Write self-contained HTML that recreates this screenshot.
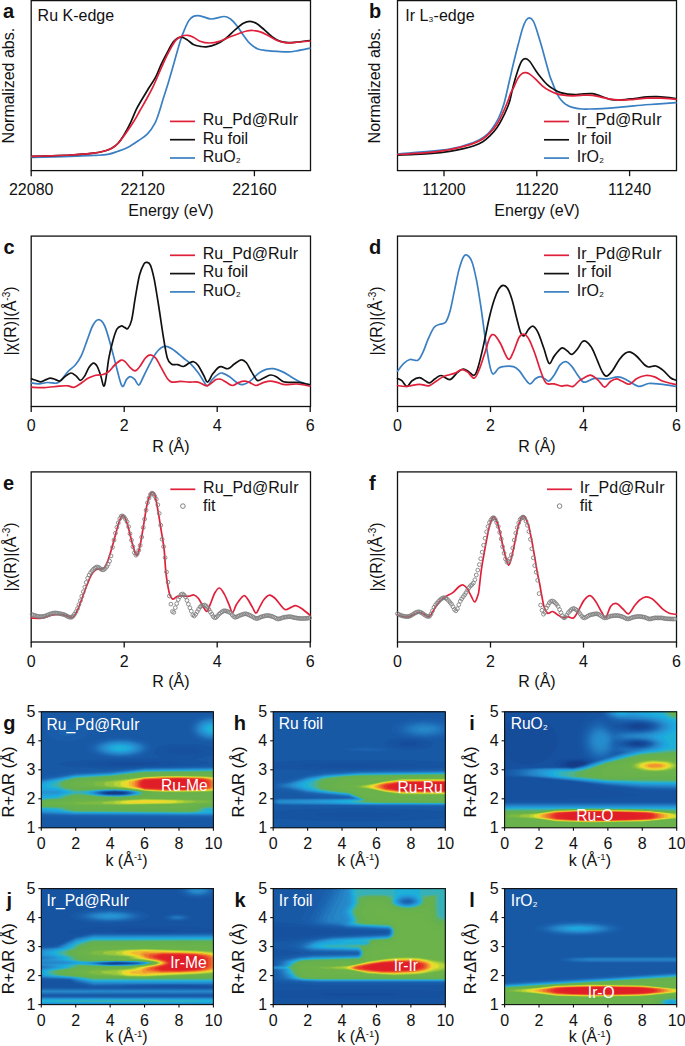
<!DOCTYPE html>
<html><head><meta charset="utf-8"><style>
html,body{margin:0;padding:0;background:#fff;overflow:hidden;width:685px;height:1046px;}
svg{display:block;font-family:"Liberation Sans", sans-serif;}
</style></head><body>
<svg width="685" height="1046" viewBox="0 0 685 1046">
<rect x="31.2" y="0.6" width="279.3" height="170.0" stroke="#111" stroke-width="1.3" fill="none"/>
<rect x="397.5" y="0.6" width="279.0" height="170.0" stroke="#111" stroke-width="1.3" fill="none"/>
<rect x="31.2" y="236.1" width="279.3" height="170.4" stroke="#111" stroke-width="1.3" fill="none"/>
<rect x="397.5" y="236.1" width="279.0" height="170.4" stroke="#111" stroke-width="1.3" fill="none"/>
<rect x="31.2" y="471.9" width="279.3" height="170.10000000000002" stroke="#111" stroke-width="1.3" fill="none"/>
<rect x="397.5" y="471.9" width="279.0" height="170.10000000000002" stroke="#111" stroke-width="1.3" fill="none"/>
<text x="3" y="18" font-size="20" text-anchor="start" font-weight="bold" fill="#111" >a</text>
<text x="369" y="18" font-size="20" text-anchor="start" font-weight="bold" fill="#111" >b</text>
<text x="3.5" y="253.6" font-size="20" text-anchor="start" font-weight="bold" fill="#111" >c</text>
<text x="369" y="253.6" font-size="20" text-anchor="start" font-weight="bold" fill="#111" >d</text>
<text x="3" y="489.9" font-size="20" text-anchor="start" font-weight="bold" fill="#111" >e</text>
<text x="369" y="489.9" font-size="20" text-anchor="start" font-weight="bold" fill="#111" >f</text>
<line x1="31.2" y1="170.6" x2="31.2" y2="176.2" stroke="#111" stroke-width="1.3"/>
<text x="31.2" y="194.8" font-size="16" text-anchor="middle" font-weight="normal" fill="#111" >22080</text>
<line x1="142.7" y1="170.6" x2="142.7" y2="176.2" stroke="#111" stroke-width="1.3"/>
<text x="142.7" y="194.8" font-size="16" text-anchor="middle" font-weight="normal" fill="#111" >22120</text>
<line x1="254.4" y1="170.6" x2="254.4" y2="176.2" stroke="#111" stroke-width="1.3"/>
<text x="254.4" y="194.8" font-size="16" text-anchor="middle" font-weight="normal" fill="#111" >22160</text>
<line x1="444" y1="170.6" x2="444" y2="176.2" stroke="#111" stroke-width="1.3"/>
<text x="444" y="194.8" font-size="16" text-anchor="middle" font-weight="normal" fill="#111" >11200</text>
<line x1="536.8" y1="170.6" x2="536.8" y2="176.2" stroke="#111" stroke-width="1.3"/>
<text x="536.8" y="194.8" font-size="16" text-anchor="middle" font-weight="normal" fill="#111" >11220</text>
<line x1="629.6" y1="170.6" x2="629.6" y2="176.2" stroke="#111" stroke-width="1.3"/>
<text x="629.6" y="194.8" font-size="16" text-anchor="middle" font-weight="normal" fill="#111" >11240</text>
<line x1="31.2" y1="406.5" x2="31.2" y2="412.1" stroke="#111" stroke-width="1.3"/>
<text x="31.2" y="431" font-size="16" text-anchor="middle" font-weight="normal" fill="#111" >0</text>
<line x1="124.2" y1="406.5" x2="124.2" y2="412.1" stroke="#111" stroke-width="1.3"/>
<text x="124.2" y="431" font-size="16" text-anchor="middle" font-weight="normal" fill="#111" >2</text>
<line x1="217.2" y1="406.5" x2="217.2" y2="412.1" stroke="#111" stroke-width="1.3"/>
<text x="217.2" y="431" font-size="16" text-anchor="middle" font-weight="normal" fill="#111" >4</text>
<line x1="310.2" y1="406.5" x2="310.2" y2="412.1" stroke="#111" stroke-width="1.3"/>
<text x="310.2" y="431" font-size="16" text-anchor="middle" font-weight="normal" fill="#111" >6</text>
<line x1="397.5" y1="406.5" x2="397.5" y2="412.1" stroke="#111" stroke-width="1.3"/>
<text x="397.5" y="431" font-size="16" text-anchor="middle" font-weight="normal" fill="#111" >0</text>
<line x1="490.5" y1="406.5" x2="490.5" y2="412.1" stroke="#111" stroke-width="1.3"/>
<text x="490.5" y="431" font-size="16" text-anchor="middle" font-weight="normal" fill="#111" >2</text>
<line x1="583.5" y1="406.5" x2="583.5" y2="412.1" stroke="#111" stroke-width="1.3"/>
<text x="583.5" y="431" font-size="16" text-anchor="middle" font-weight="normal" fill="#111" >4</text>
<line x1="676.5" y1="406.5" x2="676.5" y2="412.1" stroke="#111" stroke-width="1.3"/>
<text x="676.5" y="431" font-size="16" text-anchor="middle" font-weight="normal" fill="#111" >6</text>
<line x1="31.2" y1="642.0" x2="31.2" y2="647.6" stroke="#111" stroke-width="1.3"/>
<text x="31.2" y="666.5" font-size="16" text-anchor="middle" font-weight="normal" fill="#111" >0</text>
<line x1="124.2" y1="642.0" x2="124.2" y2="647.6" stroke="#111" stroke-width="1.3"/>
<text x="124.2" y="666.5" font-size="16" text-anchor="middle" font-weight="normal" fill="#111" >2</text>
<line x1="217.2" y1="642.0" x2="217.2" y2="647.6" stroke="#111" stroke-width="1.3"/>
<text x="217.2" y="666.5" font-size="16" text-anchor="middle" font-weight="normal" fill="#111" >4</text>
<line x1="310.2" y1="642.0" x2="310.2" y2="647.6" stroke="#111" stroke-width="1.3"/>
<text x="310.2" y="666.5" font-size="16" text-anchor="middle" font-weight="normal" fill="#111" >6</text>
<line x1="397.5" y1="642.0" x2="397.5" y2="647.6" stroke="#111" stroke-width="1.3"/>
<text x="397.5" y="666.5" font-size="16" text-anchor="middle" font-weight="normal" fill="#111" >0</text>
<line x1="490.5" y1="642.0" x2="490.5" y2="647.6" stroke="#111" stroke-width="1.3"/>
<text x="490.5" y="666.5" font-size="16" text-anchor="middle" font-weight="normal" fill="#111" >2</text>
<line x1="583.5" y1="642.0" x2="583.5" y2="647.6" stroke="#111" stroke-width="1.3"/>
<text x="583.5" y="666.5" font-size="16" text-anchor="middle" font-weight="normal" fill="#111" >4</text>
<line x1="676.5" y1="642.0" x2="676.5" y2="647.6" stroke="#111" stroke-width="1.3"/>
<text x="676.5" y="666.5" font-size="16" text-anchor="middle" font-weight="normal" fill="#111" >6</text>
<text x="0" y="0" font-size="16" text-anchor="middle" fill="#111" transform="translate(14.3,85.6) rotate(-90)">Normalized abs.</text>
<text x="0" y="0" font-size="16" text-anchor="middle" fill="#111" transform="translate(380.1,85.6) rotate(-90)">Normalized abs.</text>
<text x="0" y="0" font-size="16" text-anchor="middle" fill="#111" transform="translate(15.6,321) rotate(-90)">|χ(R)|(Å<tspan font-size="10" dy="-6">-3</tspan><tspan dy="6">)</tspan></text>
<text x="0" y="0" font-size="16" text-anchor="middle" fill="#111" transform="translate(381.9,321) rotate(-90)">|χ(R)|(Å<tspan font-size="10" dy="-6">-3</tspan><tspan dy="6">)</tspan></text>
<text x="0" y="0" font-size="16" text-anchor="middle" fill="#111" transform="translate(15.6,557) rotate(-90)">|χ(R)|(Å<tspan font-size="10" dy="-6">-3</tspan><tspan dy="6">)</tspan></text>
<text x="0" y="0" font-size="16" text-anchor="middle" fill="#111" transform="translate(381.9,557) rotate(-90)">|χ(R)|(Å<tspan font-size="10" dy="-6">-3</tspan><tspan dy="6">)</tspan></text>
<text x="171" y="215.5" font-size="16" text-anchor="middle" font-weight="normal" fill="#111" >Energy (eV)</text>
<text x="537" y="215.5" font-size="16" text-anchor="middle" font-weight="normal" fill="#111" >Energy (eV)</text>
<text x="170.9" y="452" font-size="16" text-anchor="middle" font-weight="normal" fill="#111" >R (Å)</text>
<text x="170.9" y="687" font-size="16" text-anchor="middle" font-weight="normal" fill="#111" >R (Å)</text>
<text x="537" y="452" font-size="16" text-anchor="middle" font-weight="normal" fill="#111" >R (Å)</text>
<text x="537" y="687" font-size="16" text-anchor="middle" font-weight="normal" fill="#111" >R (Å)</text>
<text x="37.6" y="20.8" font-size="16" text-anchor="start" font-weight="normal" fill="#111" >Ru K-edge</text>
<text x="405.2" y="20.8" font-size="16" text-anchor="start" font-weight="normal" fill="#111" >Ir L<tspan font-size="13">₃</tspan>-edge</text>
<line x1="170" y1="121.4" x2="195" y2="121.4" stroke="#e0203a" stroke-width="1.7"/>
<text x="202.8" y="125.2" font-size="16" text-anchor="start" font-weight="normal" fill="#111" >Ru_Pd@RuIr</text>
<line x1="170" y1="139.70000000000002" x2="195" y2="139.70000000000002" stroke="#111111" stroke-width="1.7"/>
<text x="202.8" y="143.50000000000003" font-size="16" text-anchor="start" font-weight="normal" fill="#111" >Ru foil</text>
<line x1="170" y1="158.0" x2="195" y2="158.0" stroke="#3a7fc2" stroke-width="1.7"/>
<text x="202.8" y="161.8" font-size="16" text-anchor="start" font-weight="normal" fill="#111" >RuO<tspan font-size="13">₂</tspan></text>
<line x1="544" y1="121.5" x2="569" y2="121.5" stroke="#e0203a" stroke-width="1.7"/>
<text x="576.8" y="125.3" font-size="16" text-anchor="start" font-weight="normal" fill="#111" >Ir_Pd@RuIr</text>
<line x1="544" y1="139.8" x2="569" y2="139.8" stroke="#111111" stroke-width="1.7"/>
<text x="576.8" y="143.60000000000002" font-size="16" text-anchor="start" font-weight="normal" fill="#111" >Ir foil</text>
<line x1="544" y1="158.1" x2="569" y2="158.1" stroke="#3a7fc2" stroke-width="1.7"/>
<text x="576.8" y="161.9" font-size="16" text-anchor="start" font-weight="normal" fill="#111" >IrO<tspan font-size="13">₂</tspan></text>
<line x1="170" y1="255.3" x2="195" y2="255.3" stroke="#e0203a" stroke-width="1.7"/>
<text x="202.8" y="259.1" font-size="16" text-anchor="start" font-weight="normal" fill="#111" >Ru_Pd@RuIr</text>
<line x1="170" y1="273.6" x2="195" y2="273.6" stroke="#111111" stroke-width="1.7"/>
<text x="202.8" y="277.40000000000003" font-size="16" text-anchor="start" font-weight="normal" fill="#111" >Ru foil</text>
<line x1="170" y1="291.90000000000003" x2="195" y2="291.90000000000003" stroke="#3a7fc2" stroke-width="1.7"/>
<text x="202.8" y="295.70000000000005" font-size="16" text-anchor="start" font-weight="normal" fill="#111" >RuO<tspan font-size="13">₂</tspan></text>
<line x1="544" y1="255.3" x2="569" y2="255.3" stroke="#e0203a" stroke-width="1.7"/>
<text x="576.8" y="259.1" font-size="16" text-anchor="start" font-weight="normal" fill="#111" >Ir_Pd@RuIr</text>
<line x1="544" y1="273.6" x2="569" y2="273.6" stroke="#111111" stroke-width="1.7"/>
<text x="576.8" y="277.40000000000003" font-size="16" text-anchor="start" font-weight="normal" fill="#111" >Ir foil</text>
<line x1="544" y1="291.90000000000003" x2="569" y2="291.90000000000003" stroke="#3a7fc2" stroke-width="1.7"/>
<text x="576.8" y="295.70000000000005" font-size="16" text-anchor="start" font-weight="normal" fill="#111" >IrO<tspan font-size="13">₂</tspan></text>
<line x1="170.3" y1="489.3" x2="195.3" y2="489.3" stroke="#e0203a" stroke-width="1.7"/>
<text x="203.10000000000002" y="493.1" font-size="16" text-anchor="start" font-weight="normal" fill="#111" >Ru_Pd@RuIr</text>
<circle cx="182.9" cy="506.1" r="2.3" fill="none" stroke="#808080" stroke-width="1"/>
<text x="203.10000000000002" y="511.40000000000003" font-size="16" text-anchor="start" font-weight="normal" fill="#111" >fit</text>
<line x1="547" y1="489.3" x2="572" y2="489.3" stroke="#e0203a" stroke-width="1.7"/>
<text x="579.8" y="493.1" font-size="16" text-anchor="start" font-weight="normal" fill="#111" >Ir_Pd@RuIr</text>
<circle cx="559.6" cy="506.1" r="2.3" fill="none" stroke="#808080" stroke-width="1"/>
<text x="579.8" y="511.40000000000003" font-size="16" text-anchor="start" font-weight="normal" fill="#111" >fit</text>
<path d="M32.0,157.4 C38.5,157.2 60.3,156.7 70.9,156.4 C81.5,156.1 89.3,155.7 95.4,155.4 C101.5,155.1 104.0,155.1 107.7,154.4 C111.5,153.7 114.5,152.5 117.9,151.3 C121.3,150.1 124.7,149.0 128.1,147.2 C131.5,145.4 135.1,142.9 138.3,140.7 C141.5,138.5 144.8,136.7 147.5,133.9 C150.2,131.1 152.7,127.5 154.7,123.7 C156.7,119.9 158.2,115.0 159.5,111.0 C160.8,107.0 161.3,104.9 162.8,100.0 C164.3,95.1 166.7,88.2 168.6,81.8 C170.5,75.3 172.6,68.1 174.5,61.3 C176.4,54.5 178.6,46.2 180.3,40.9 C182.0,35.5 183.2,32.6 184.7,29.2 C186.1,25.8 187.6,22.5 189.0,20.4 C190.4,18.3 191.6,17.2 193.4,16.4 C195.2,15.6 197.0,15.4 200.0,15.8 C203.0,16.2 207.2,18.9 211.2,19.0 C215.2,19.1 220.9,16.5 224.1,16.5 C227.3,16.5 228.4,17.5 230.5,19.0 C232.6,20.5 234.8,23.0 236.9,25.7 C239.1,28.4 241.2,32.3 243.4,35.3 C245.6,38.2 247.4,41.1 249.8,43.4 C252.2,45.7 254.9,47.8 257.8,49.0 C260.7,50.2 264.2,50.2 267.4,50.6 C270.6,51.0 273.6,51.2 277.1,51.4 C280.6,51.6 284.8,52.0 288.3,51.9 C291.8,51.8 294.4,51.2 298.0,50.6 C301.6,50.0 308.0,48.6 310.0,48.2" fill="none" stroke="#3a7fc2" stroke-width="1.7" stroke-linejoin="round" stroke-linecap="round"/>
<path d="M32.0,156.4 C35.1,156.3 43.9,156.0 50.4,155.8 C56.9,155.6 64.1,155.4 70.9,155.0 C77.7,154.6 85.8,154.0 91.3,153.4 C96.8,152.8 100.2,152.2 103.6,151.3 C107.0,150.4 109.3,149.5 111.7,148.2 C114.1,146.9 115.9,145.7 117.9,143.5 C120.0,141.3 122.0,138.3 124.0,135.0 C126.0,131.7 128.0,128.0 130.1,123.7 C132.2,119.4 134.4,113.4 136.3,109.4 C138.2,105.5 139.6,103.4 141.6,100.0 C143.6,96.6 145.9,92.8 148.2,89.0 C150.5,85.2 153.3,81.5 155.5,77.4 C157.7,73.3 159.4,68.3 161.3,64.2 C163.2,60.1 165.2,56.2 167.2,52.6 C169.1,49.0 171.3,44.7 173.0,42.3 C174.7,39.9 175.9,39.1 177.4,38.2 C178.9,37.4 180.1,36.9 181.8,37.2 C183.5,37.5 185.7,38.9 187.6,40.1 C189.5,41.3 191.3,43.5 193.4,44.5 C195.5,45.5 197.8,45.9 200.0,46.3 C202.2,46.7 203.7,47.2 206.4,46.9 C209.1,46.5 212.9,45.6 216.1,44.2 C219.3,42.8 222.5,40.9 225.7,38.5 C228.9,36.1 232.4,32.2 235.3,29.7 C238.2,27.2 241.0,24.7 243.4,23.3 C245.8,21.9 247.7,21.4 249.8,21.4 C251.9,21.4 253.8,21.9 256.2,23.3 C258.6,24.7 261.5,27.4 264.2,29.7 C266.9,32.0 269.6,34.9 272.3,36.9 C275.0,38.9 277.6,40.4 280.3,41.4 C283.0,42.4 285.6,42.5 288.3,42.6 C291.0,42.7 292.8,42.5 296.4,42.1 C300.0,41.8 307.7,40.8 310.0,40.5" fill="none" stroke="#111111" stroke-width="1.7" stroke-linejoin="round" stroke-linecap="round"/>
<path d="M32.0,156.4 C35.1,156.3 43.9,156.0 50.4,155.8 C56.9,155.6 64.1,155.4 70.9,155.0 C77.7,154.6 85.8,154.0 91.3,153.4 C96.8,152.8 100.2,152.2 103.6,151.3 C107.0,150.4 109.3,149.5 111.7,148.2 C114.1,146.9 115.5,146.1 117.9,143.5 C120.3,140.9 123.3,136.7 126.0,132.9 C128.7,129.1 131.9,124.4 134.2,120.7 C136.5,117.0 138.0,114.0 140.0,110.5 C142.0,107.0 143.9,103.8 146.0,100.0 C148.1,96.2 150.5,91.8 152.6,87.6 C154.7,83.3 156.5,78.9 158.4,74.5 C160.3,70.1 162.3,65.5 164.2,61.3 C166.1,57.1 168.1,53.1 170.0,49.6 C171.9,46.1 173.9,42.3 175.9,40.1 C177.9,37.9 179.9,37.0 181.8,36.2 C183.8,35.4 185.7,35.1 187.6,35.3 C189.5,35.5 191.3,36.2 193.4,37.2 C195.5,38.2 197.3,40.2 200.0,41.2 C202.7,42.2 206.4,43.0 209.6,43.0 C212.8,43.0 216.1,42.4 219.3,41.4 C222.5,40.4 225.7,38.6 228.9,37.3 C232.1,36.0 235.6,34.8 238.5,33.7 C241.4,32.7 244.2,31.5 246.6,31.0 C249.0,30.5 250.6,30.3 253.0,30.5 C255.4,30.7 258.3,31.2 261.0,32.1 C263.7,33.0 266.3,34.7 269.0,36.1 C271.7,37.5 274.4,39.4 277.1,40.5 C279.8,41.6 282.4,42.2 285.1,42.6 C287.8,43.0 289.0,42.9 293.1,42.6 C297.2,42.3 307.2,41.3 310.0,41.0" fill="none" stroke="#e0203a" stroke-width="1.7" stroke-linejoin="round" stroke-linecap="round"/>
<path d="M397.9,154.0 C406.5,153.2 436.9,151.2 449.6,149.2 C462.3,147.2 468.3,144.3 474.1,142.2 C479.9,140.1 481.7,138.5 484.6,136.4 C487.5,134.3 489.3,132.5 491.6,129.4 C493.9,126.3 496.6,122.2 498.6,118.0 C500.7,113.8 502.1,110.0 503.9,104.0 C505.7,98.0 507.6,88.7 509.2,81.8 C510.8,74.9 512.1,68.9 513.6,62.8 C515.1,56.7 516.5,50.9 518.0,45.3 C519.5,39.7 521.0,33.4 522.3,29.2 C523.6,25.1 524.8,22.3 526.0,20.4 C527.2,18.5 528.4,17.7 529.6,17.8 C530.8,17.9 532.1,19.1 533.3,21.2 C534.5,23.3 535.6,26.7 536.9,30.7 C538.2,34.7 539.8,40.2 541.3,45.3 C542.8,50.4 544.3,56.3 545.7,61.3 C547.1,66.2 548.5,71.7 549.5,75.0 C550.5,78.3 550.9,78.9 551.9,81.4 C552.9,83.9 554.2,87.5 555.4,90.1 C556.6,92.7 557.6,95.0 558.9,97.1 C560.2,99.1 561.7,100.9 563.3,102.4 C564.9,103.9 566.5,105.0 568.5,105.9 C570.5,106.9 573.2,107.6 575.5,108.1 C577.8,108.6 580.2,108.8 582.5,109.0 C584.8,109.2 586.0,109.0 589.3,109.0 C592.6,109.0 597.3,109.0 602.1,108.7 C606.9,108.4 612.9,107.9 618.2,107.4 C623.6,106.9 628.9,106.3 634.2,105.8 C639.6,105.3 644.9,104.9 650.3,104.5 C655.7,104.1 662.1,103.7 666.4,103.4 C670.7,103.1 674.4,102.7 676.0,102.6" fill="none" stroke="#3a7fc2" stroke-width="1.7" stroke-linejoin="round" stroke-linecap="round"/>
<path d="M397.9,155.2 C400.7,155.1 408.8,154.8 414.5,154.5 C420.2,154.2 426.1,153.9 432.0,153.4 C437.9,152.9 444.3,152.1 449.6,151.3 C454.9,150.5 459.5,149.6 463.6,148.7 C467.7,147.8 470.9,146.9 474.1,145.7 C477.3,144.5 480.2,143.3 482.8,141.7 C485.4,140.1 487.5,138.2 489.9,135.9 C492.2,133.6 494.9,130.5 496.9,127.7 C498.9,124.9 500.4,122.3 502.1,118.9 C503.9,115.5 506.1,110.7 507.4,107.5 C508.7,104.3 509.0,103.8 510.0,100.0 C511.0,96.2 512.3,89.7 513.6,84.7 C514.9,79.7 516.7,74.0 518.0,70.1 C519.3,66.2 520.4,63.2 521.6,61.3 C522.8,59.4 524.0,58.7 525.3,58.7 C526.6,58.7 527.9,59.4 529.6,61.3 C531.3,63.2 533.6,67.4 535.4,70.0 C537.2,72.6 538.5,74.5 540.5,77.0 C542.5,79.5 545.2,82.8 547.5,84.9 C549.8,87.0 552.3,88.4 554.5,89.7 C556.7,91.0 558.4,91.9 560.6,92.6 C562.8,93.3 565.2,93.8 567.7,94.1 C570.2,94.4 573.2,94.5 575.5,94.5 C577.8,94.5 578.4,94.1 581.2,94.0 C584.0,93.9 589.3,93.4 592.5,93.7 C595.7,94.0 597.6,95.2 600.5,96.1 C603.4,97.0 606.6,98.7 610.1,99.3 C613.6,99.9 617.4,99.9 621.4,99.8 C625.4,99.7 629.9,99.0 634.2,98.5 C638.5,98.0 643.4,97.2 647.1,96.9 C650.9,96.6 653.5,96.5 656.7,96.6 C659.9,96.7 663.2,97.0 666.4,97.3 C669.6,97.6 674.4,98.3 676.0,98.5" fill="none" stroke="#111111" stroke-width="1.7" stroke-linejoin="round" stroke-linecap="round"/>
<path d="M397.9,154.5 C400.7,154.3 408.8,153.8 414.5,153.4 C420.2,153.0 426.1,152.8 432.0,152.2 C437.9,151.6 444.3,150.6 449.6,149.6 C454.9,148.6 459.5,147.5 463.6,146.4 C467.7,145.3 470.9,144.3 474.1,143.1 C477.3,141.9 480.2,140.7 482.8,139.0 C485.4,137.3 487.5,135.4 489.9,132.9 C492.2,130.4 494.9,127.3 496.9,124.2 C498.9,121.1 500.4,118.2 502.1,114.5 C503.9,110.8 506.0,105.8 507.4,102.3 C508.8,98.8 509.5,96.0 510.5,93.5 C511.5,91.0 512.4,90.2 513.6,87.6 C514.9,85.0 516.5,80.5 518.0,78.1 C519.5,75.7 521.0,74.3 522.3,73.4 C523.6,72.5 524.7,72.5 526.0,72.7 C527.3,72.9 528.5,73.4 530.0,74.4 C531.5,75.4 533.2,76.9 535.3,78.8 C537.3,80.7 540.0,83.8 542.3,85.8 C544.6,87.8 547.0,89.3 549.3,90.6 C551.6,91.9 554.0,92.8 556.3,93.6 C558.6,94.4 560.7,94.8 563.3,95.2 C565.9,95.6 569.0,95.8 572.0,95.8 C575.0,95.8 577.8,95.4 581.2,95.3 C584.6,95.2 589.0,95.0 592.5,95.3 C596.0,95.6 598.9,96.6 602.1,97.3 C605.3,98.0 608.3,98.8 611.8,99.3 C615.3,99.8 619.3,100.1 623.0,100.1 C626.7,100.1 630.2,99.6 634.2,99.3 C638.2,99.0 642.8,98.4 647.1,98.2 C651.4,98.0 655.2,98.0 660.0,98.2 C664.8,98.4 673.3,99.1 676.0,99.3" fill="none" stroke="#e0203a" stroke-width="1.7" stroke-linejoin="round" stroke-linecap="round"/>
<path d="M31.5,382.9 C32.7,383.1 36.1,384.0 38.8,383.9 C41.5,383.8 44.6,382.6 47.5,382.5 C50.4,382.4 54.1,383.5 56.3,383.2 C58.5,382.9 58.8,382.6 60.7,380.6 C62.7,378.7 65.6,374.1 68.0,371.5 C70.4,368.9 73.1,367.6 75.3,365.0 C77.5,362.4 79.2,360.2 81.1,356.2 C83.0,352.2 85.0,346.0 86.9,340.9 C88.9,335.8 90.8,329.0 92.8,325.5 C94.8,322.0 96.6,319.7 98.6,319.7 C100.5,319.7 102.5,321.5 104.5,325.5 C106.5,329.5 108.4,337.1 110.3,343.8 C112.2,350.5 114.1,358.6 116.1,365.7 C118.0,372.8 120.3,383.8 122.0,386.1 C123.7,388.4 125.1,381.2 126.4,379.6 C127.8,378.0 128.8,376.8 130.1,376.7 C131.4,376.6 133.0,377.8 134.5,379.2 C136.0,380.6 137.3,385.6 138.9,385.0 C140.5,384.4 142.2,379.0 144.0,375.5 C145.8,372.0 147.9,367.5 149.8,363.9 C151.8,360.2 153.8,356.3 155.7,353.6 C157.6,350.9 159.6,348.7 161.5,347.5 C163.4,346.3 165.1,346.1 167.3,346.6 C169.5,347.1 171.9,348.8 174.6,350.7 C177.3,352.6 180.7,355.8 183.4,358.0 C186.1,360.2 188.3,361.5 190.7,363.9 C193.1,366.3 195.8,369.7 198.0,372.6 C200.2,375.5 202.2,379.2 203.8,381.4 C205.4,383.6 206.0,386.2 207.5,385.8 C209.0,385.4 210.8,381.1 212.6,379.2 C214.4,377.2 216.8,375.1 218.4,374.1 C220.0,373.1 220.4,372.7 222.3,373.1 C224.2,373.5 227.2,375.1 229.6,376.7 C232.0,378.3 234.7,381.3 236.9,382.6 C239.1,383.9 240.5,384.9 242.7,384.7 C244.9,384.4 247.3,383.0 250.0,381.1 C252.7,379.2 256.1,375.1 258.8,373.1 C261.5,371.2 263.7,370.1 266.1,369.4 C268.5,368.7 270.7,368.3 273.4,368.7 C276.1,369.1 279.3,370.3 282.2,371.6 C285.1,372.9 288.2,375.1 290.9,376.7 C293.6,378.3 295.8,379.9 298.2,381.1 C300.6,382.3 303.6,383.1 305.5,383.7 C307.4,384.3 309.2,384.5 309.9,384.7" fill="none" stroke="#3a7fc2" stroke-width="1.7" stroke-linejoin="round" stroke-linecap="round"/>
<path d="M31.5,378.8 C32.2,379.1 34.2,379.8 35.8,380.3 C37.4,380.8 39.3,381.9 41.0,381.8 C42.7,381.7 44.5,380.2 46.1,379.6 C47.7,379.0 48.8,378.1 50.4,378.1 C52.0,378.1 53.9,379.1 55.5,379.6 C57.1,380.1 58.3,381.5 59.9,381.0 C61.5,380.5 63.2,377.9 65.0,376.6 C66.8,375.3 69.1,373.1 70.9,373.0 C72.7,372.9 74.4,374.7 76.0,375.9 C77.6,377.1 79.0,380.3 80.4,380.3 C81.9,380.3 83.2,378.1 84.7,375.9 C86.2,373.7 87.6,369.3 89.1,367.2 C90.6,365.1 92.2,363.2 93.5,363.1 C94.8,363.0 96.0,364.3 97.2,366.4 C98.4,368.5 99.7,372.6 100.8,375.9 C101.9,379.2 102.8,385.6 103.7,386.1 C104.6,386.6 105.1,383.4 105.9,378.8 C106.8,374.2 107.7,364.5 108.8,358.4 C109.9,352.3 111.2,347.2 112.5,342.3 C113.8,337.4 115.5,331.9 116.9,329.2 C118.4,326.5 119.9,326.3 121.2,326.0 C122.5,325.7 123.9,327.2 125.0,327.6 C126.1,328.0 126.8,329.8 127.9,328.5 C129.0,327.2 130.4,325.2 131.6,320.1 C132.8,315.1 133.9,305.8 135.2,298.2 C136.5,290.6 138.1,280.5 139.6,274.8 C141.1,269.1 142.8,266.0 144.0,263.9 C145.2,261.8 145.8,262.2 146.9,262.4 C148.0,262.6 149.3,262.5 150.5,265.3 C151.7,268.1 152.8,272.5 154.2,279.2 C155.5,285.9 157.1,296.2 158.6,305.5 C160.1,314.8 161.6,325.9 163.0,334.7 C164.4,343.4 165.9,353.1 167.3,358.0 C168.8,362.9 170.0,363.1 171.7,364.2 C173.4,365.3 175.6,364.2 177.6,364.6 C179.6,365.0 181.5,366.8 183.4,366.5 C185.3,366.2 187.5,363.9 189.2,363.1 C190.9,362.3 192.1,361.3 193.6,361.7 C195.1,362.1 196.3,363.0 198.0,365.3 C199.7,367.6 202.2,372.7 203.8,375.5 C205.4,378.3 206.0,382.3 207.5,382.1 C209.0,381.9 210.8,376.5 212.6,374.1 C214.4,371.7 216.8,368.7 218.4,367.5 C220.0,366.3 220.4,366.6 222.0,366.8 C223.6,367.0 226.1,369.1 228.1,368.7 C230.1,368.3 231.8,365.8 234.0,364.3 C236.2,362.8 239.2,360.1 241.3,359.9 C243.4,359.6 244.7,360.9 246.4,362.8 C248.1,364.8 249.7,368.7 251.5,371.6 C253.3,374.5 255.4,379.3 257.3,380.4 C259.2,381.5 261.0,379.1 263.2,378.2 C265.4,377.3 268.3,375.2 270.5,375.0 C272.7,374.8 274.1,375.6 276.3,376.7 C278.5,377.8 280.9,380.9 283.6,381.8 C286.3,382.7 289.7,382.2 292.4,382.3 C295.1,382.4 296.8,382.2 299.7,382.6 C302.6,383.0 308.2,384.4 309.9,384.7" fill="none" stroke="#111111" stroke-width="1.7" stroke-linejoin="round" stroke-linecap="round"/>
<path d="M31.5,387.2 C33.7,387.3 40.0,387.8 44.6,387.6 C49.2,387.4 55.3,386.4 59.2,386.1 C63.1,385.8 65.6,385.6 68.0,385.8 C70.4,386.0 71.6,387.7 73.8,387.3 C76.0,386.9 78.7,384.7 81.1,383.2 C83.5,381.7 86.0,379.4 88.4,378.1 C90.8,376.8 93.3,375.8 95.7,375.2 C98.1,374.6 100.8,375.1 103.0,374.5 C105.2,373.9 106.8,373.1 108.8,371.5 C110.8,369.9 112.6,366.9 114.7,365.0 C116.8,363.1 119.5,360.7 121.2,360.1 C122.9,359.6 123.4,360.4 125.0,361.7 C126.6,363.0 129.1,366.7 130.8,368.2 C132.5,369.7 133.7,371.1 135.2,370.9 C136.7,370.7 137.9,368.9 139.6,366.8 C141.3,364.7 143.6,360.0 145.4,358.0 C147.2,356.0 148.8,354.8 150.5,354.8 C152.2,354.8 153.9,355.8 155.7,358.0 C157.5,360.2 159.6,364.8 161.5,368.2 C163.4,371.6 165.6,376.2 167.3,378.5 C169.0,380.8 169.5,381.6 171.7,382.1 C173.9,382.6 177.6,381.4 180.5,381.4 C183.4,381.4 186.3,382.0 189.2,382.1 C192.1,382.2 195.1,381.5 198.0,382.1 C200.9,382.7 204.4,385.8 206.8,385.8 C209.2,385.8 211.1,383.2 212.6,382.1 C214.1,381.1 214.6,380.0 216.0,379.5 C217.4,379.0 219.0,378.8 220.8,379.3 C222.6,379.8 224.8,381.6 226.7,382.6 C228.6,383.6 230.6,385.5 232.5,385.5 C234.4,385.5 236.5,383.3 238.4,382.6 C240.3,381.9 242.3,381.1 244.2,381.1 C246.1,381.1 248.1,381.9 250.0,382.6 C251.9,383.3 253.7,385.5 255.9,385.5 C258.1,385.5 260.8,383.3 263.2,382.6 C265.6,381.9 268.1,381.1 270.5,381.1 C272.9,381.1 275.4,382.0 277.8,382.6 C280.2,383.2 281.9,384.5 285.1,384.7 C288.3,384.9 292.7,383.8 296.8,384.0 C300.9,384.2 307.7,385.8 309.9,386.2" fill="none" stroke="#e0203a" stroke-width="1.7" stroke-linejoin="round" stroke-linecap="round"/>
<path d="M397.5,371.2 C398.5,370.0 401.2,365.8 403.3,363.9 C405.4,361.9 407.5,360.1 409.9,359.5 C412.3,358.9 415.7,361.4 417.9,360.2 C420.1,359.0 421.3,355.7 423.0,352.2 C424.7,348.7 426.3,343.2 428.1,339.1 C429.9,335.0 432.1,329.9 434.0,327.4 C435.9,324.9 437.9,325.0 439.8,324.2 C441.7,323.4 443.9,324.4 445.6,322.3 C447.3,320.2 448.5,316.5 450.0,311.3 C451.5,306.1 452.9,297.7 454.4,290.9 C455.9,284.1 457.3,276.0 458.8,270.4 C460.3,264.8 461.9,259.9 463.2,257.3 C464.5,254.8 465.4,254.4 466.8,255.1 C468.2,255.8 470.3,257.7 471.9,261.7 C473.5,265.7 474.8,271.9 476.3,279.2 C477.8,286.5 479.2,295.8 480.7,305.5 C482.2,315.2 483.7,327.9 485.1,337.6 C486.6,347.3 488.1,357.8 489.4,363.9 C490.7,369.9 491.3,373.2 492.9,373.9 C494.5,374.6 496.9,369.4 498.8,368.1 C500.8,366.9 502.2,366.6 504.6,366.4 C507.0,366.1 511.0,365.9 513.4,366.6 C515.8,367.3 517.3,368.7 519.2,370.7 C521.1,372.7 523.2,376.6 525.0,378.8 C526.8,381.0 528.4,383.9 530.1,383.9 C531.8,383.9 533.6,380.0 535.3,378.8 C537.0,377.6 538.8,376.6 540.4,376.6 C542.0,376.6 543.2,378.1 544.7,378.8 C546.2,379.5 547.5,381.6 549.1,381.0 C550.7,380.4 552.4,377.8 554.2,375.1 C556.0,372.4 558.2,367.1 560.1,364.9 C562.0,362.7 564.0,361.4 565.9,361.7 C567.8,361.9 569.8,364.2 571.8,366.4 C573.8,368.6 575.8,372.6 577.6,375.1 C579.4,377.6 581.1,380.4 582.5,381.5 C583.9,382.6 583.8,382.5 585.8,382.0 C587.8,381.5 591.2,378.9 594.6,378.4 C598.0,377.9 602.4,379.4 606.3,379.1 C610.2,378.9 614.6,376.8 618.0,376.9 C621.4,377.0 623.3,378.3 626.7,379.9 C630.1,381.5 634.8,385.8 638.4,386.4 C642.0,387.0 645.0,383.9 648.6,383.5 C652.2,383.1 655.8,383.7 660.3,384.2 C664.8,384.7 673.0,386.0 675.6,386.4" fill="none" stroke="#3a7fc2" stroke-width="1.7" stroke-linejoin="round" stroke-linecap="round"/>
<path d="M397.5,378.5 C398.2,378.9 400.2,379.4 401.8,380.7 C403.4,382.0 405.3,386.5 407.0,386.5 C408.7,386.5 410.0,382.2 412.1,380.7 C414.2,379.2 417.2,377.7 419.4,377.7 C421.6,377.7 423.5,379.8 425.2,380.7 C426.9,381.6 427.9,383.2 429.6,382.8 C431.3,382.4 433.4,379.7 435.4,378.5 C437.3,377.3 438.9,375.3 441.3,375.5 C443.7,375.7 447.3,380.1 450.0,379.6 C452.7,379.1 455.1,374.4 457.3,372.6 C459.5,370.8 461.2,369.1 463.2,369.0 C465.1,368.9 467.2,370.8 469.0,371.9 C470.8,372.9 472.6,375.9 474.1,375.3 C475.6,374.7 476.2,373.3 477.8,368.2 C479.4,363.1 481.7,353.4 483.6,344.9 C485.5,336.4 487.6,324.8 489.4,317.2 C491.2,309.6 492.8,303.9 494.4,299.2 C496.0,294.5 497.4,291.3 498.8,289.0 C500.2,286.7 501.7,285.4 503.1,285.3 C504.6,285.2 506.0,285.9 507.5,288.2 C509.0,290.5 510.4,294.4 511.9,299.2 C513.4,303.9 514.8,311.1 516.3,316.7 C517.8,322.3 519.4,329.6 520.7,332.8 C522.0,336.0 523.0,336.3 524.3,335.7 C525.6,335.1 527.2,330.7 528.7,329.1 C530.2,327.5 531.5,325.6 533.1,326.2 C534.7,326.8 536.4,329.0 538.2,332.8 C540.0,336.6 542.2,343.7 544.0,348.8 C545.8,353.9 547.4,362.2 549.1,363.4 C550.8,364.6 552.1,358.7 554.2,356.1 C556.3,353.6 559.3,349.0 561.5,348.1 C563.7,347.2 565.7,349.9 567.4,351.0 C569.1,352.1 570.1,354.8 571.8,354.4 C573.5,354.0 575.9,350.9 577.6,348.8 C579.3,346.7 580.6,343.3 582.0,342.0 C583.4,340.7 584.2,340.2 585.8,341.2 C587.4,342.1 589.8,344.4 591.7,347.7 C593.7,351.0 595.8,357.0 597.5,360.9 C599.2,364.8 600.4,368.6 601.9,371.1 C603.4,373.7 604.6,376.2 606.3,376.2 C608.0,376.2 609.9,373.9 612.1,371.1 C614.3,368.3 617.2,362.4 619.4,359.4 C621.6,356.4 623.5,354.5 625.3,353.3 C627.1,352.1 628.5,351.6 630.4,352.1 C632.3,352.6 634.6,354.4 636.9,356.5 C639.2,358.6 642.2,362.8 644.2,364.5 C646.2,366.2 646.7,366.8 648.6,367.0 C650.5,367.2 653.5,365.4 655.9,366.0 C658.3,366.6 660.8,368.4 663.2,370.4 C665.6,372.3 668.4,376.1 670.5,377.7 C672.6,379.3 674.8,379.7 675.6,380.1" fill="none" stroke="#111111" stroke-width="1.7" stroke-linejoin="round" stroke-linecap="round"/>
<path d="M397.5,385.5 C398.9,385.7 402.6,386.7 406.2,386.5 C409.8,386.3 415.6,384.4 419.4,384.3 C423.2,384.2 425.9,386.4 428.8,385.8 C431.7,385.2 434.3,382.3 436.9,380.7 C439.5,379.1 441.3,377.5 444.2,376.3 C447.1,375.1 451.5,374.5 454.4,373.4 C457.3,372.3 459.5,369.9 461.7,369.7 C463.9,369.4 465.4,370.5 467.5,371.9 C469.6,373.3 472.2,378.6 474.1,378.2 C476.1,377.8 477.4,374.0 479.2,369.7 C481.0,365.4 483.3,357.6 485.1,352.2 C486.9,346.8 488.4,340.1 490.0,337.2 C491.6,334.3 492.7,334.0 494.4,335.0 C496.1,336.0 497.9,339.0 500.2,343.0 C502.5,347.0 506.0,357.5 508.2,359.0 C510.4,360.5 511.6,355.4 513.4,351.8 C515.2,348.2 517.4,340.1 519.2,337.2 C521.0,334.3 522.6,333.7 524.3,334.2 C526.0,334.7 527.6,336.7 529.4,340.1 C531.2,343.5 533.3,349.4 535.3,354.7 C537.2,360.0 539.3,367.5 541.1,372.2 C542.9,376.9 544.0,381.2 546.2,383.1 C548.4,385.1 551.7,383.4 554.2,383.9 C556.8,384.4 559.3,385.9 561.5,386.1 C563.7,386.3 565.4,385.2 567.4,385.3 C569.4,385.4 571.2,387.1 573.2,386.4 C575.2,385.7 577.2,382.3 579.1,380.9 C581.0,379.4 582.5,378.6 584.4,377.7 C586.2,376.8 588.2,375.1 590.2,375.2 C592.2,375.3 594.4,377.1 596.1,378.4 C597.8,379.7 599.0,381.3 600.4,382.8 C601.8,384.3 603.1,387.4 604.8,387.2 C606.5,386.9 608.8,382.7 610.7,381.3 C612.7,379.9 614.6,378.8 616.5,378.8 C618.4,378.8 620.1,380.4 622.3,381.3 C624.5,382.2 627.2,384.7 629.6,384.2 C632.0,383.7 634.2,379.8 636.9,378.4 C639.6,376.9 642.8,375.8 645.7,375.5 C648.6,375.2 651.6,375.9 654.5,376.9 C657.4,377.9 659.7,380.0 663.2,381.3 C666.7,382.6 673.5,384.0 675.6,384.5" fill="none" stroke="#e0203a" stroke-width="1.7" stroke-linejoin="round" stroke-linecap="round"/>
<path d="M31.5,618.1 C33.2,618.1 38.3,618.6 41.7,618.1 C45.1,617.6 48.5,615.8 51.9,615.2 C55.3,614.6 58.9,614.3 62.1,614.7 C65.3,615.1 69.0,617.1 70.9,617.4 C72.9,617.7 72.6,618.1 73.8,616.6 C75.0,615.1 76.7,611.9 78.2,608.6 C79.7,605.3 81.1,600.8 82.6,596.9 C84.0,593.0 85.5,588.9 86.9,585.3 C88.4,581.6 89.8,577.6 91.3,575.0 C92.8,572.4 94.2,570.9 95.7,569.9 C97.2,568.9 98.5,569.4 100.0,569.0 C101.5,568.6 103.1,569.1 104.4,567.6 C105.7,566.1 106.8,563.5 108.0,560.3 C109.2,557.1 110.5,552.7 111.7,548.6 C112.9,544.5 114.1,539.9 115.3,535.5 C116.5,531.1 117.9,525.6 119.0,522.3 C120.1,519.0 120.9,516.6 121.9,515.8 C122.9,514.9 123.7,515.1 124.8,517.2 C125.9,519.3 127.3,523.9 128.5,528.2 C129.7,532.5 130.9,538.4 132.1,542.8 C133.3,547.2 134.8,552.7 135.8,554.5 C136.8,556.3 137.2,555.9 138.0,553.7 C138.8,551.5 139.9,546.3 140.9,541.3 C141.9,536.3 142.8,529.6 143.8,523.8 C144.8,518.0 145.6,511.3 146.7,506.3 C147.8,501.3 149.4,496.2 150.4,493.9 C151.4,491.6 151.9,492.3 152.6,492.4 C153.3,492.5 153.8,491.8 154.7,494.6 C155.5,497.4 156.6,503.1 157.7,509.2 C158.8,515.3 160.2,524.3 161.3,531.1 C162.4,537.9 163.4,543.3 164.2,550.1 C164.9,556.9 165.2,566.0 165.8,571.7 C166.4,577.4 166.9,580.6 167.6,584.5 C168.3,588.4 169.0,592.6 169.9,595.0 C170.8,597.4 171.5,598.9 172.8,599.1 C174.1,599.3 175.7,596.7 177.5,596.2 C179.3,595.7 181.5,596.2 183.4,596.2 C185.3,596.2 187.4,596.4 189.2,596.2 C190.9,596.0 192.3,594.6 193.9,595.0 C195.5,595.4 197.1,596.8 198.5,598.5 C199.9,600.2 201.2,603.4 202.6,605.5 C204.0,607.6 205.4,611.6 206.7,611.4 C208.0,611.2 208.8,607.5 210.2,604.4 C211.6,601.3 213.3,595.4 214.9,592.7 C216.5,590.0 218.1,587.8 219.6,588.0 C221.1,588.2 222.6,591.2 224.2,593.9 C225.8,596.6 227.5,601.3 228.9,604.4 C230.3,607.5 231.2,612.4 232.4,612.6 C233.6,612.8 234.9,607.4 235.9,605.5 C236.9,603.6 237.2,603.1 238.5,601.5 C239.8,599.9 242.2,596.1 243.8,595.7 C245.4,595.3 246.4,597.2 247.8,599.2 C249.2,601.2 251.1,605.1 252.5,607.4 C253.9,609.7 254.8,613.2 256.0,613.2 C257.2,613.2 258.1,609.7 259.5,607.4 C260.9,605.1 262.5,601.2 264.2,599.2 C265.9,597.2 267.8,595.3 269.5,595.1 C271.2,594.9 272.9,596.4 274.7,598.0 C276.5,599.6 278.8,603.0 280.5,605.0 C282.2,607.0 283.4,609.3 285.2,609.7 C287.0,610.1 289.4,608.1 291.1,607.4 C292.9,606.7 293.9,605.4 295.7,605.6 C297.4,605.8 299.3,606.9 301.6,608.5 C303.9,610.1 308.4,613.9 309.7,615.0" fill="none" stroke="#e0203a" stroke-width="1.7" stroke-linejoin="round" stroke-linecap="round"/>
<g fill="none" stroke="#808080" stroke-width="0.9"><circle cx="32.2" cy="614.5" r="1.9"/><circle cx="33.7" cy="615.1" r="1.9"/><circle cx="35.1" cy="615.6" r="1.9"/><circle cx="36.6" cy="616.0" r="1.9"/><circle cx="38.0" cy="616.3" r="1.9"/><circle cx="39.5" cy="616.5" r="1.9"/><circle cx="41.0" cy="616.6" r="1.9"/><circle cx="42.4" cy="616.6" r="1.9"/><circle cx="43.9" cy="616.3" r="1.9"/><circle cx="45.3" cy="615.9" r="1.9"/><circle cx="46.8" cy="615.4" r="1.9"/><circle cx="48.3" cy="614.8" r="1.9"/><circle cx="49.7" cy="614.2" r="1.9"/><circle cx="51.2" cy="613.7" r="1.9"/><circle cx="52.6" cy="613.3" r="1.9"/><circle cx="54.1" cy="613.0" r="1.9"/><circle cx="55.6" cy="613.0" r="1.9"/><circle cx="57.0" cy="613.1" r="1.9"/><circle cx="58.5" cy="613.4" r="1.9"/><circle cx="59.9" cy="613.6" r="1.9"/><circle cx="61.4" cy="614.0" r="1.9"/><circle cx="62.9" cy="614.3" r="1.9"/><circle cx="64.3" cy="614.7" r="1.9"/><circle cx="65.8" cy="615.4" r="1.9"/><circle cx="67.2" cy="616.2" r="1.9"/><circle cx="68.7" cy="616.9" r="1.9"/><circle cx="70.2" cy="617.3" r="1.9"/><circle cx="71.6" cy="617.2" r="1.9"/><circle cx="73.1" cy="616.0" r="1.9"/><circle cx="74.5" cy="614.1" r="1.9"/><circle cx="76.0" cy="611.8" r="1.9"/><circle cx="77.5" cy="608.5" r="1.9"/><circle cx="78.9" cy="604.6" r="1.9"/><circle cx="80.4" cy="600.6" r="1.9"/><circle cx="81.8" cy="596.3" r="1.9"/><circle cx="83.3" cy="591.7" r="1.9"/><circle cx="84.8" cy="587.2" r="1.9"/><circle cx="86.2" cy="582.4" r="1.9"/><circle cx="87.7" cy="578.1" r="1.9"/><circle cx="89.1" cy="575.1" r="1.9"/><circle cx="90.6" cy="572.6" r="1.9"/><circle cx="92.1" cy="570.7" r="1.9"/><circle cx="93.5" cy="569.2" r="1.9"/><circle cx="95.0" cy="568.0" r="1.9"/><circle cx="96.4" cy="567.1" r="1.9"/><circle cx="97.9" cy="567.1" r="1.9"/><circle cx="99.4" cy="567.9" r="1.9"/><circle cx="100.8" cy="569.0" r="1.9"/><circle cx="102.3" cy="569.8" r="1.9"/><circle cx="103.7" cy="569.7" r="1.9"/><circle cx="105.2" cy="568.5" r="1.9"/><circle cx="106.7" cy="566.6" r="1.9"/><circle cx="108.1" cy="564.3" r="1.9"/><circle cx="109.6" cy="561.1" r="1.9"/><circle cx="111.0" cy="555.9" r="1.9"/><circle cx="112.5" cy="547.4" r="1.9"/><circle cx="114.0" cy="540.0" r="1.9"/><circle cx="115.4" cy="533.2" r="1.9"/><circle cx="116.9" cy="527.3" r="1.9"/><circle cx="118.3" cy="522.8" r="1.9"/><circle cx="119.8" cy="518.7" r="1.9"/><circle cx="121.3" cy="516.1" r="1.9"/><circle cx="122.7" cy="516.0" r="1.9"/><circle cx="124.2" cy="517.2" r="1.9"/><circle cx="125.6" cy="519.3" r="1.9"/><circle cx="127.1" cy="521.8" r="1.9"/><circle cx="128.6" cy="526.7" r="1.9"/><circle cx="130.0" cy="533.7" r="1.9"/><circle cx="131.5" cy="540.2" r="1.9"/><circle cx="132.9" cy="546.7" r="1.9"/><circle cx="134.4" cy="552.7" r="1.9"/><circle cx="135.9" cy="555.2" r="1.9"/><circle cx="137.3" cy="553.7" r="1.9"/><circle cx="138.8" cy="550.3" r="1.9"/><circle cx="140.2" cy="545.4" r="1.9"/><circle cx="141.7" cy="537.1" r="1.9"/><circle cx="143.2" cy="527.6" r="1.9"/><circle cx="144.6" cy="519.1" r="1.9"/><circle cx="146.1" cy="510.2" r="1.9"/><circle cx="147.5" cy="502.7" r="1.9"/><circle cx="149.0" cy="498.1" r="1.9"/><circle cx="150.5" cy="494.5" r="1.9"/><circle cx="151.9" cy="493.1" r="1.9"/><circle cx="153.4" cy="494.0" r="1.9"/><circle cx="154.8" cy="496.3" r="1.9"/><circle cx="156.3" cy="499.2" r="1.9"/><circle cx="157.8" cy="504.8" r="1.9"/><circle cx="159.2" cy="513.4" r="1.9"/><circle cx="160.7" cy="525.2" r="1.9"/><circle cx="162.1" cy="539.3" r="1.9"/><circle cx="163.6" cy="546.6" r="1.9"/><circle cx="165.1" cy="557.7" r="1.9"/><circle cx="166.5" cy="572.0" r="1.9"/><circle cx="168.0" cy="582.2" r="1.9"/><circle cx="169.4" cy="596.0" r="1.9"/><circle cx="170.9" cy="604.1" r="1.9"/><circle cx="172.4" cy="611.5" r="1.9"/><circle cx="173.8" cy="612.4" r="1.9"/><circle cx="175.3" cy="607.7" r="1.9"/><circle cx="176.7" cy="603.6" r="1.9"/><circle cx="178.2" cy="599.6" r="1.9"/><circle cx="179.7" cy="596.7" r="1.9"/><circle cx="181.1" cy="594.5" r="1.9"/><circle cx="182.6" cy="594.0" r="1.9"/><circle cx="184.0" cy="595.0" r="1.9"/><circle cx="185.5" cy="596.8" r="1.9"/><circle cx="187.0" cy="600.4" r="1.9"/><circle cx="188.4" cy="604.2" r="1.9"/><circle cx="189.9" cy="607.8" r="1.9"/><circle cx="191.3" cy="611.2" r="1.9"/><circle cx="192.8" cy="614.9" r="1.9"/><circle cx="194.3" cy="616.0" r="1.9"/><circle cx="195.7" cy="614.3" r="1.9"/><circle cx="197.2" cy="611.7" r="1.9"/><circle cx="198.6" cy="609.3" r="1.9"/><circle cx="200.1" cy="606.9" r="1.9"/><circle cx="201.6" cy="605.8" r="1.9"/><circle cx="203.0" cy="605.2" r="1.9"/><circle cx="204.5" cy="605.0" r="1.9"/><circle cx="205.9" cy="605.8" r="1.9"/><circle cx="207.4" cy="607.3" r="1.9"/><circle cx="208.9" cy="609.3" r="1.9"/><circle cx="210.3" cy="611.9" r="1.9"/><circle cx="211.8" cy="614.2" r="1.9"/><circle cx="213.2" cy="616.5" r="1.9"/><circle cx="214.7" cy="617.8" r="1.9"/><circle cx="216.2" cy="617.3" r="1.9"/><circle cx="217.6" cy="615.8" r="1.9"/><circle cx="219.1" cy="614.1" r="1.9"/><circle cx="220.5" cy="613.0" r="1.9"/><circle cx="222.0" cy="611.8" r="1.9"/><circle cx="223.5" cy="610.9" r="1.9"/><circle cx="224.9" cy="610.8" r="1.9"/><circle cx="226.4" cy="611.1" r="1.9"/><circle cx="227.8" cy="611.6" r="1.9"/><circle cx="229.3" cy="612.2" r="1.9"/><circle cx="230.8" cy="613.1" r="1.9"/><circle cx="232.2" cy="614.8" r="1.9"/><circle cx="233.7" cy="616.6" r="1.9"/><circle cx="235.1" cy="617.3" r="1.9"/><circle cx="236.6" cy="616.9" r="1.9"/><circle cx="238.1" cy="616.2" r="1.9"/><circle cx="239.5" cy="615.6" r="1.9"/><circle cx="241.0" cy="615.0" r="1.9"/><circle cx="242.4" cy="614.5" r="1.9"/><circle cx="243.9" cy="614.0" r="1.9"/><circle cx="245.4" cy="613.8" r="1.9"/><circle cx="246.8" cy="614.0" r="1.9"/><circle cx="248.3" cy="614.6" r="1.9"/><circle cx="249.7" cy="615.3" r="1.9"/><circle cx="251.2" cy="616.0" r="1.9"/><circle cx="252.7" cy="616.8" r="1.9"/><circle cx="254.1" cy="617.6" r="1.9"/><circle cx="255.6" cy="618.3" r="1.9"/><circle cx="257.0" cy="618.5" r="1.9"/><circle cx="258.5" cy="618.1" r="1.9"/><circle cx="260.0" cy="617.4" r="1.9"/><circle cx="261.4" cy="616.8" r="1.9"/><circle cx="262.9" cy="616.4" r="1.9"/><circle cx="264.3" cy="616.0" r="1.9"/><circle cx="265.8" cy="615.7" r="1.9"/><circle cx="267.3" cy="615.5" r="1.9"/><circle cx="268.7" cy="615.6" r="1.9"/><circle cx="270.2" cy="615.9" r="1.9"/><circle cx="271.6" cy="616.3" r="1.9"/><circle cx="273.1" cy="616.8" r="1.9"/><circle cx="274.6" cy="617.5" r="1.9"/><circle cx="276.0" cy="618.3" r="1.9"/><circle cx="277.5" cy="618.9" r="1.9"/><circle cx="278.9" cy="618.9" r="1.9"/><circle cx="280.4" cy="618.5" r="1.9"/><circle cx="281.9" cy="618.0" r="1.9"/><circle cx="283.3" cy="617.4" r="1.9"/><circle cx="284.8" cy="617.2" r="1.9"/><circle cx="286.2" cy="617.0" r="1.9"/><circle cx="287.7" cy="616.8" r="1.9"/><circle cx="289.2" cy="616.7" r="1.9"/><circle cx="290.6" cy="616.7" r="1.9"/><circle cx="292.1" cy="617.0" r="1.9"/><circle cx="293.5" cy="617.4" r="1.9"/><circle cx="295.0" cy="617.8" r="1.9"/><circle cx="296.5" cy="618.0" r="1.9"/><circle cx="297.9" cy="618.2" r="1.9"/><circle cx="299.4" cy="618.4" r="1.9"/><circle cx="300.8" cy="618.5" r="1.9"/><circle cx="302.3" cy="618.5" r="1.9"/><circle cx="303.8" cy="618.5" r="1.9"/><circle cx="305.2" cy="618.4" r="1.9"/><circle cx="306.7" cy="618.3" r="1.9"/><circle cx="308.1" cy="618.1" r="1.9"/><circle cx="309.6" cy="617.9" r="1.9"/></g>
<path d="M397.5,615.2 C399.2,615.5 404.1,617.6 407.7,617.1 C411.3,616.6 415.9,612.4 419.4,612.3 C422.9,612.2 426.1,617.5 428.8,616.6 C431.5,615.8 433.3,610.0 435.4,607.2 C437.5,604.4 439.5,601.7 441.3,599.9 C443.1,598.1 444.5,597.4 446.4,596.2 C448.3,595.0 450.8,594.2 452.9,592.6 C455.0,591.0 457.1,588.0 458.8,586.7 C460.5,585.4 461.8,584.6 463.2,585.0 C464.6,585.4 466.2,587.0 467.5,588.9 C468.8,590.8 470.0,594.0 471.2,596.2 C472.4,598.4 473.7,602.1 474.8,602.0 C475.9,601.9 477.1,597.5 477.8,595.5 C478.5,593.5 478.4,594.7 479.0,590.0 C479.6,585.3 480.6,574.6 481.7,567.4 C482.8,560.2 484.1,553.5 485.3,546.9 C486.5,540.3 487.8,532.9 489.0,528.0 C490.2,523.1 491.5,519.3 492.6,517.7 C493.7,516.1 494.4,516.5 495.5,518.5 C496.6,520.5 498.0,524.9 499.2,529.4 C500.4,533.9 501.6,540.4 502.8,545.5 C504.0,550.6 505.5,556.8 506.5,560.1 C507.5,563.4 508.0,565.2 508.7,565.2 C509.4,565.2 509.9,563.6 510.9,560.1 C511.9,556.6 513.3,549.6 514.5,544.0 C515.7,538.4 517.0,531.0 518.2,526.5 C519.4,522.0 520.7,518.6 521.8,517.0 C522.9,515.4 523.6,515.7 524.7,517.0 C525.8,518.3 527.3,521.5 528.4,525.0 C529.5,528.5 530.3,533.3 531.3,538.2 C532.3,543.1 533.2,548.6 534.2,554.2 C535.2,559.8 536.3,566.8 537.2,571.8 C538.1,576.8 538.9,579.8 539.7,584.0 C540.5,588.2 541.2,593.0 542.0,596.9 C542.8,600.8 543.3,604.7 544.3,607.4 C545.3,610.1 546.4,612.5 547.8,613.2 C549.2,613.9 550.9,611.3 552.5,611.5 C554.1,611.7 555.5,613.3 557.2,614.4 C559.0,615.5 561.2,617.5 563.0,617.9 C564.8,618.3 566.0,616.7 567.7,616.7 C569.5,616.7 571.8,618.9 573.5,617.9 C575.2,616.9 576.5,613.8 578.2,610.9 C580.0,608.0 582.0,602.9 584.0,600.4 C586.0,597.9 587.9,595.5 589.9,595.7 C591.9,595.9 593.8,598.8 595.7,601.5 C597.7,604.2 599.9,609.4 601.6,612.0 C603.3,614.6 604.2,618.3 605.7,617.3 C607.2,616.3 609.0,608.5 610.8,606.2 C612.6,603.9 614.8,603.2 616.7,603.6 C618.7,604.0 620.5,606.8 622.5,608.5 C624.5,610.2 626.4,614.2 628.4,613.8 C630.4,613.4 632.3,608.5 634.2,606.2 C636.1,603.9 638.0,601.3 640.0,599.8 C642.0,598.2 643.9,597.1 645.9,596.9 C647.9,596.7 649.8,597.4 651.7,598.6 C653.7,599.8 655.7,602.0 657.6,603.9 C659.5,605.8 661.5,608.2 663.4,609.7 C665.3,611.2 667.1,612.4 669.2,613.2 C671.3,614.0 675.0,614.2 676.2,614.4" fill="none" stroke="#e0203a" stroke-width="1.7" stroke-linejoin="round" stroke-linecap="round"/>
<g fill="none" stroke="#808080" stroke-width="0.9"><circle cx="397.5" cy="613.7" r="1.9"/><circle cx="399.0" cy="614.5" r="1.9"/><circle cx="400.4" cy="615.2" r="1.9"/><circle cx="401.9" cy="615.7" r="1.9"/><circle cx="403.3" cy="616.1" r="1.9"/><circle cx="404.8" cy="616.4" r="1.9"/><circle cx="406.3" cy="616.6" r="1.9"/><circle cx="407.7" cy="616.6" r="1.9"/><circle cx="409.2" cy="616.4" r="1.9"/><circle cx="410.6" cy="615.7" r="1.9"/><circle cx="412.1" cy="614.9" r="1.9"/><circle cx="413.6" cy="613.9" r="1.9"/><circle cx="415.0" cy="613.0" r="1.9"/><circle cx="416.5" cy="612.3" r="1.9"/><circle cx="417.9" cy="611.9" r="1.9"/><circle cx="419.4" cy="611.9" r="1.9"/><circle cx="420.9" cy="612.4" r="1.9"/><circle cx="422.3" cy="613.2" r="1.9"/><circle cx="423.8" cy="614.3" r="1.9"/><circle cx="425.2" cy="615.3" r="1.9"/><circle cx="426.7" cy="616.1" r="1.9"/><circle cx="428.2" cy="616.5" r="1.9"/><circle cx="429.6" cy="616.2" r="1.9"/><circle cx="431.1" cy="614.0" r="1.9"/><circle cx="432.5" cy="610.7" r="1.9"/><circle cx="434.0" cy="607.3" r="1.9"/><circle cx="435.5" cy="604.9" r="1.9"/><circle cx="436.9" cy="603.2" r="1.9"/><circle cx="438.4" cy="601.6" r="1.9"/><circle cx="439.8" cy="600.1" r="1.9"/><circle cx="441.3" cy="598.8" r="1.9"/><circle cx="442.8" cy="598.0" r="1.9"/><circle cx="444.2" cy="597.7" r="1.9"/><circle cx="445.7" cy="598.1" r="1.9"/><circle cx="447.1" cy="599.2" r="1.9"/><circle cx="448.6" cy="600.7" r="1.9"/><circle cx="450.1" cy="602.5" r="1.9"/><circle cx="451.5" cy="604.2" r="1.9"/><circle cx="453.0" cy="606.7" r="1.9"/><circle cx="454.4" cy="609.5" r="1.9"/><circle cx="455.9" cy="610.8" r="1.9"/><circle cx="457.4" cy="608.8" r="1.9"/><circle cx="458.8" cy="604.7" r="1.9"/><circle cx="460.3" cy="601.2" r="1.9"/><circle cx="461.7" cy="598.8" r="1.9"/><circle cx="463.2" cy="596.7" r="1.9"/><circle cx="464.7" cy="594.7" r="1.9"/><circle cx="466.1" cy="592.6" r="1.9"/><circle cx="467.6" cy="590.2" r="1.9"/><circle cx="469.0" cy="587.7" r="1.9"/><circle cx="470.5" cy="585.8" r="1.9"/><circle cx="472.0" cy="584.6" r="1.9"/><circle cx="473.4" cy="583.0" r="1.9"/><circle cx="474.9" cy="579.7" r="1.9"/><circle cx="476.3" cy="575.0" r="1.9"/><circle cx="477.8" cy="570.1" r="1.9"/><circle cx="479.3" cy="564.6" r="1.9"/><circle cx="480.7" cy="558.7" r="1.9"/><circle cx="482.2" cy="552.1" r="1.9"/><circle cx="483.6" cy="545.2" r="1.9"/><circle cx="485.1" cy="538.3" r="1.9"/><circle cx="486.6" cy="531.8" r="1.9"/><circle cx="488.0" cy="526.6" r="1.9"/><circle cx="489.5" cy="522.5" r="1.9"/><circle cx="490.9" cy="520.0" r="1.9"/><circle cx="492.4" cy="518.1" r="1.9"/><circle cx="493.9" cy="517.8" r="1.9"/><circle cx="495.3" cy="519.6" r="1.9"/><circle cx="496.8" cy="522.8" r="1.9"/><circle cx="498.2" cy="526.5" r="1.9"/><circle cx="499.7" cy="532.3" r="1.9"/><circle cx="501.2" cy="538.9" r="1.9"/><circle cx="502.6" cy="546.7" r="1.9"/><circle cx="504.1" cy="553.2" r="1.9"/><circle cx="505.5" cy="559.0" r="1.9"/><circle cx="507.0" cy="562.2" r="1.9"/><circle cx="508.5" cy="561.4" r="1.9"/><circle cx="509.9" cy="558.7" r="1.9"/><circle cx="511.4" cy="554.8" r="1.9"/><circle cx="512.8" cy="548.1" r="1.9"/><circle cx="514.3" cy="540.1" r="1.9"/><circle cx="515.8" cy="533.1" r="1.9"/><circle cx="517.2" cy="527.6" r="1.9"/><circle cx="518.7" cy="522.9" r="1.9"/><circle cx="520.1" cy="519.5" r="1.9"/><circle cx="521.6" cy="517.9" r="1.9"/><circle cx="523.1" cy="517.0" r="1.9"/><circle cx="524.5" cy="518.0" r="1.9"/><circle cx="526.0" cy="521.2" r="1.9"/><circle cx="527.4" cy="525.3" r="1.9"/><circle cx="528.9" cy="531.6" r="1.9"/><circle cx="530.4" cy="539.3" r="1.9"/><circle cx="531.8" cy="548.8" r="1.9"/><circle cx="533.3" cy="557.8" r="1.9"/><circle cx="534.7" cy="565.6" r="1.9"/><circle cx="536.2" cy="572.2" r="1.9"/><circle cx="537.7" cy="580.3" r="1.9"/><circle cx="539.1" cy="593.6" r="1.9"/><circle cx="540.6" cy="605.1" r="1.9"/><circle cx="542.0" cy="610.3" r="1.9"/><circle cx="543.5" cy="614.2" r="1.9"/><circle cx="545.0" cy="612.4" r="1.9"/><circle cx="546.4" cy="608.0" r="1.9"/><circle cx="547.9" cy="605.4" r="1.9"/><circle cx="549.3" cy="603.0" r="1.9"/><circle cx="550.8" cy="601.4" r="1.9"/><circle cx="552.3" cy="601.0" r="1.9"/><circle cx="553.7" cy="601.6" r="1.9"/><circle cx="555.2" cy="602.8" r="1.9"/><circle cx="556.6" cy="604.4" r="1.9"/><circle cx="558.1" cy="606.4" r="1.9"/><circle cx="559.6" cy="609.6" r="1.9"/><circle cx="561.0" cy="612.6" r="1.9"/><circle cx="562.5" cy="615.8" r="1.9"/><circle cx="563.9" cy="617.8" r="1.9"/><circle cx="565.4" cy="617.2" r="1.9"/><circle cx="566.9" cy="615.0" r="1.9"/><circle cx="568.3" cy="612.7" r="1.9"/><circle cx="569.8" cy="611.1" r="1.9"/><circle cx="571.2" cy="609.7" r="1.9"/><circle cx="572.7" cy="608.7" r="1.9"/><circle cx="574.2" cy="608.6" r="1.9"/><circle cx="575.6" cy="609.4" r="1.9"/><circle cx="577.1" cy="610.5" r="1.9"/><circle cx="578.5" cy="611.8" r="1.9"/><circle cx="580.0" cy="613.7" r="1.9"/><circle cx="581.5" cy="615.8" r="1.9"/><circle cx="582.9" cy="617.4" r="1.9"/><circle cx="584.4" cy="617.9" r="1.9"/><circle cx="585.8" cy="617.3" r="1.9"/><circle cx="587.3" cy="616.4" r="1.9"/><circle cx="588.8" cy="615.5" r="1.9"/><circle cx="590.2" cy="614.9" r="1.9"/><circle cx="591.7" cy="614.6" r="1.9"/><circle cx="593.1" cy="614.2" r="1.9"/><circle cx="594.6" cy="614.0" r="1.9"/><circle cx="596.1" cy="613.8" r="1.9"/><circle cx="597.5" cy="613.9" r="1.9"/><circle cx="599.0" cy="614.5" r="1.9"/><circle cx="600.4" cy="615.4" r="1.9"/><circle cx="601.9" cy="616.5" r="1.9"/><circle cx="603.4" cy="617.4" r="1.9"/><circle cx="604.8" cy="617.9" r="1.9"/><circle cx="606.3" cy="617.7" r="1.9"/><circle cx="607.7" cy="617.2" r="1.9"/><circle cx="609.2" cy="616.6" r="1.9"/><circle cx="610.7" cy="616.1" r="1.9"/><circle cx="612.1" cy="615.9" r="1.9"/><circle cx="613.6" cy="615.7" r="1.9"/><circle cx="615.0" cy="615.6" r="1.9"/><circle cx="616.5" cy="615.5" r="1.9"/><circle cx="618.0" cy="615.6" r="1.9"/><circle cx="619.4" cy="615.9" r="1.9"/><circle cx="620.9" cy="616.2" r="1.9"/><circle cx="622.3" cy="616.7" r="1.9"/><circle cx="623.8" cy="617.3" r="1.9"/><circle cx="625.3" cy="618.1" r="1.9"/><circle cx="626.7" cy="618.8" r="1.9"/><circle cx="628.2" cy="619.0" r="1.9"/><circle cx="629.6" cy="618.6" r="1.9"/><circle cx="631.1" cy="618.0" r="1.9"/><circle cx="632.6" cy="617.4" r="1.9"/><circle cx="634.0" cy="617.1" r="1.9"/><circle cx="635.5" cy="616.8" r="1.9"/><circle cx="636.9" cy="616.6" r="1.9"/><circle cx="638.4" cy="616.5" r="1.9"/><circle cx="639.9" cy="616.5" r="1.9"/><circle cx="641.3" cy="616.7" r="1.9"/><circle cx="642.8" cy="616.9" r="1.9"/><circle cx="644.2" cy="617.2" r="1.9"/><circle cx="645.7" cy="617.6" r="1.9"/><circle cx="647.2" cy="618.3" r="1.9"/><circle cx="648.6" cy="618.9" r="1.9"/><circle cx="650.1" cy="619.0" r="1.9"/><circle cx="651.5" cy="618.7" r="1.9"/><circle cx="653.0" cy="618.3" r="1.9"/><circle cx="654.5" cy="617.9" r="1.9"/><circle cx="655.9" cy="617.9" r="1.9"/><circle cx="657.4" cy="617.9" r="1.9"/><circle cx="658.8" cy="617.9" r="1.9"/><circle cx="660.3" cy="617.9" r="1.9"/><circle cx="661.8" cy="617.9" r="1.9"/><circle cx="663.2" cy="618.2" r="1.9"/><circle cx="664.7" cy="618.5" r="1.9"/><circle cx="666.1" cy="618.7" r="1.9"/><circle cx="667.6" cy="618.8" r="1.9"/><circle cx="669.1" cy="618.9" r="1.9"/><circle cx="670.5" cy="618.9" r="1.9"/><circle cx="672.0" cy="619.0" r="1.9"/><circle cx="673.4" cy="619.0" r="1.9"/><circle cx="674.9" cy="619.0" r="1.9"/></g>
<rect x="41.30" y="711.80" width="172.1" height="116.0" fill="#143c87"/>
<path fill="#14428e" fill-rule="evenodd" d="M213.3,827.8 41.3,827.8 41.3,711.8 213.3,711.8 213.4,783.8 213.3,827.8ZM122.0,793.8 123.8,792.8 115.3,791.7 111.3,791.8 106.0,792.8 109.3,793.9 122.0,793.8Z"/>
<path fill="#154593" fill-rule="evenodd" d="M213.3,827.8 41.3,827.8 41.3,711.8 213.3,711.8 213.4,783.8 213.3,827.8ZM123.0,793.8 124.6,792.8 120.2,791.8 115.3,791.6 109.7,791.8 105.1,792.8 106.9,793.8 109.3,794.1 123.0,793.8Z"/>
<path fill="#154997" fill-rule="evenodd" d="M213.3,827.8 41.3,827.8 41.3,711.8 213.3,711.8 213.4,783.8 213.3,827.8ZM123.9,793.8 125.4,792.8 118.3,791.6 109.3,791.7 104.3,792.8 106.0,793.8 109.3,794.2 123.9,793.8Z"/>
<path fill="#154d9b" fill-rule="evenodd" d="M213.3,827.8 41.3,827.8 41.3,711.8 213.3,711.8 213.4,783.8 213.3,827.8ZM124.7,793.8 126.1,792.8 122.6,791.8 118.3,791.5 108.3,791.7 103.6,792.8 105.1,793.8 109.3,794.3 118.3,794.4 124.7,793.8Z"/>
<path fill="#16519f" fill-rule="evenodd" d="M213.3,827.8 41.3,827.8 41.3,711.8 213.3,711.8 213.4,783.8 213.3,827.8ZM151.9,764.8 159.8,763.8 154.9,762.8 135.3,762.3 116.0,762.8 109.3,763.8 112.1,764.8 124.3,765.4 151.9,764.8ZM125.5,793.8 126.8,792.8 123.6,791.8 118.3,791.4 108.3,791.6 102.8,792.8 104.3,793.8 111.3,794.6 120.3,794.5 125.5,793.8Z"/>
<path fill="#1654a2" fill-rule="evenodd" d="M213.3,827.8 41.3,827.8 41.3,711.8 213.3,711.8 213.4,783.8 213.3,827.8ZM184.4,754.8 196.3,753.8 199.9,752.8 201.7,751.8 202.2,750.8 200.3,749.3 196.3,748.2 184.3,747.1 172.3,748.1 168.3,749.1 166.0,750.8 166.4,751.8 168.2,752.8 171.9,753.8 184.4,754.8ZM132.4,766.8 168.3,765.4 177.8,764.8 183.2,763.8 182.4,762.8 172.3,761.5 139.3,760.6 102.3,761.5 89.3,762.8 86.1,763.8 88.3,764.9 101.3,766.4 116.3,766.9 132.4,766.8ZM116.9,794.8 125.3,794.0 127.5,792.8 124.3,791.8 115.3,791.2 106.3,791.6 102.0,792.8 103.4,793.8 106.3,794.3 116.9,794.8Z"/>
<path fill="#1859a6" fill-rule="evenodd" d="M213.3,827.8 41.3,827.8 41.3,711.8 213.3,711.8 213.3,747.5 204.3,745.4 193.3,744.1 181.3,743.9 169.3,744.5 159.3,746.4 157.3,747.4 155.3,749.5 154.1,751.8 154.4,753.8 160.6,756.8 160.2,757.8 126.3,759.3 100.3,759.4 84.3,760.1 65.7,761.8 60.6,762.8 58.5,763.8 59.4,764.8 62.3,765.6 70.9,766.8 103.3,768.4 118.3,768.3 144.3,766.9 186.1,765.8 201.2,764.8 208.0,763.8 209.4,762.8 207.1,761.8 197.8,759.8 196.2,758.8 213.3,754.5 213.4,783.8 213.3,827.8ZM119.7,794.8 127.1,793.8 128.2,792.8 124.3,791.6 115.3,791.1 105.3,791.6 101.3,792.8 102.6,793.8 107.3,794.5 119.7,794.8Z"/>
<path fill="#195daa" fill-rule="evenodd" d="M213.3,742.7 206.3,742.3 200.3,741.0 194.3,738.3 191.2,735.8 189.1,732.8 188.1,728.8 188.9,724.8 191.8,720.8 196.3,717.6 201.3,715.5 207.3,714.3 213.3,714.1 213.3,742.7ZM74.3,741.0 64.3,741.5 54.3,739.6 50.4,737.8 47.8,735.8 46.5,733.8 46.4,730.8 48.5,727.8 52.3,725.4 58.3,723.5 63.3,722.8 69.3,722.7 76.3,723.6 81.3,725.2 85.7,727.8 87.4,729.8 88.0,731.8 87.7,733.8 86.4,735.8 81.3,739.0 74.3,741.0ZM130.3,757.9 113.3,758.2 98.3,756.3 92.3,754.2 88.5,751.8 86.9,749.8 86.7,746.8 89.3,743.6 96.3,740.2 105.3,738.1 116.3,737.0 128.3,737.2 140.3,739.1 147.3,741.5 149.4,742.8 151.2,744.8 151.7,746.8 150.8,749.8 149.2,751.8 146.3,754.1 140.3,756.5 130.3,757.9ZM213.3,818.7 76.3,817.9 41.3,817.2 41.3,776.9 76.3,771.2 110.3,770.1 144.3,767.4 213.3,765.8 213.4,783.8 213.3,818.7ZM121.5,794.8 127.9,793.8 128.9,792.8 124.3,791.5 115.3,791.0 105.3,791.5 100.5,792.8 101.8,793.8 107.3,794.7 121.5,794.8Z"/>
<path fill="#1b62ae" fill-rule="evenodd" d="M213.3,741.2 207.3,740.9 201.3,739.5 197.3,737.7 193.7,734.8 191.7,731.8 191.1,727.8 192.0,724.8 194.3,721.8 197.3,719.5 202.3,717.3 207.3,716.2 213.3,716.0 213.3,741.2ZM69.3,735.8 65.3,735.9 61.3,734.9 59.4,733.8 58.6,731.8 59.3,730.6 61.3,729.3 66.3,728.3 71.5,728.8 75.2,730.8 75.5,732.8 74.8,733.8 73.2,734.8 69.3,735.8ZM130.3,756.9 115.3,757.3 102.3,755.6 97.3,754.0 93.3,751.9 91.3,749.8 90.8,747.8 91.6,745.8 93.3,744.2 99.3,741.3 107.3,739.4 117.3,738.5 127.3,738.7 138.3,740.4 145.0,742.8 148.4,745.8 148.8,747.8 148.1,749.8 145.0,752.8 139.3,755.3 130.3,756.9ZM213.3,817.1 76.3,816.4 41.3,815.5 41.3,778.6 75.3,772.9 110.3,771.1 144.3,767.9 213.3,766.7 213.3,817.1ZM122.9,794.8 128.6,793.8 129.6,792.8 125.3,791.5 115.3,790.9 105.3,791.4 99.7,792.8 100.9,793.8 107.3,794.8 122.9,794.8Z"/>
<path fill="#1c67b3" fill-rule="evenodd" d="M213.3,740.1 208.3,740.0 203.3,739.0 199.3,737.3 195.8,734.8 193.6,731.8 192.9,728.8 193.4,725.8 195.4,722.8 198.3,720.5 203.3,718.2 208.3,717.2 213.3,717.1 213.3,740.1ZM132.3,755.8 118.3,756.7 105.3,755.3 100.1,753.8 96.0,751.8 93.9,749.8 93.4,747.8 95.3,744.8 100.3,742.2 108.3,740.2 117.3,739.3 127.3,739.6 136.3,741.0 142.3,743.0 146.0,745.8 146.4,748.8 143.9,751.8 139.3,754.1 132.3,755.8ZM213.3,816.4 76.3,815.6 41.3,814.7 41.3,779.3 75.3,773.5 109.9,771.8 144.3,768.2 213.3,767.2 213.3,816.4ZM124.2,794.8 129.4,793.8 130.4,792.8 125.3,791.3 115.3,790.7 104.3,791.3 98.9,792.8 100.1,793.8 107.3,795.0 116.3,795.3 124.2,794.8Z"/>
<path fill="#1f6fb8" fill-rule="evenodd" d="M213.3,739.2 208.3,739.0 203.3,737.9 199.3,736.1 196.6,733.8 194.7,730.8 194.4,727.8 195.5,724.8 197.2,722.8 200.3,720.6 204.3,719.0 208.3,718.2 213.3,718.0 213.3,739.2ZM126.3,755.8 115.3,755.9 104.3,754.2 100.4,752.8 97.3,751.0 96.2,749.8 95.6,747.8 97.7,744.8 102.3,742.5 110.3,740.7 119.3,740.0 128.3,740.4 136.3,741.9 141.4,743.8 144.5,746.8 144.7,747.8 143.9,749.8 139.9,752.8 134.3,754.6 126.3,755.8ZM213.3,815.8 76.3,815.1 41.3,814.1 41.3,779.9 75.3,774.0 110.3,772.2 144.3,768.5 213.3,767.6 213.3,815.8ZM125.3,794.8 130.2,793.8 131.1,792.8 128.9,791.8 125.3,791.2 114.3,790.6 103.3,791.3 98.1,792.8 99.3,793.8 107.3,795.1 116.3,795.4 125.3,794.8Z"/>
<path fill="#2177be" fill-rule="evenodd" d="M213.3,738.3 208.3,738.2 204.3,737.3 200.8,735.8 198.2,733.8 196.6,731.8 195.8,728.8 196.4,725.8 197.8,723.8 200.3,721.8 204.3,719.9 208.3,719.0 213.3,718.9 213.3,738.3ZM129.3,754.8 118.3,755.4 107.3,754.1 100.3,751.5 98.2,749.8 97.6,747.8 99.3,745.3 103.3,743.2 109.3,741.6 117.3,740.7 125.3,740.8 132.3,741.7 138.3,743.5 141.9,745.8 142.8,747.8 142.0,749.8 141.1,750.8 136.3,753.2 129.3,754.8ZM213.3,815.4 76.3,814.7 41.3,813.6 41.3,780.3 75.3,774.4 110.3,772.6 144.3,768.8 213.3,768.0 213.3,815.4ZM126.5,794.8 131.0,793.8 131.8,792.8 129.8,791.8 126.3,791.2 114.3,790.5 102.3,791.3 97.2,792.8 99.3,794.0 107.3,795.2 117.3,795.5 126.5,794.8Z"/>
<path fill="#247fc3" fill-rule="evenodd" d="M213.3,737.5 209.3,737.5 205.3,736.7 202.3,735.5 199.3,733.3 197.5,730.8 197.1,728.8 197.8,725.8 199.4,723.8 202.2,721.8 205.3,720.6 209.3,719.8 213.3,719.7 213.3,737.5ZM121.3,754.8 112.3,754.3 105.3,752.7 102.3,751.4 100.2,749.8 99.6,748.8 99.9,746.8 102.1,744.8 107.2,742.8 113.3,741.7 120.3,741.3 127.3,741.6 133.6,742.8 138.6,744.8 140.7,746.8 140.9,747.8 140.2,749.8 136.3,752.3 129.3,754.1 121.3,754.8ZM213.3,815.0 76.3,814.4 41.3,813.1 41.3,780.7 75.3,774.8 110.3,773.0 144.3,769.1 213.3,768.3 213.3,815.0ZM127.6,794.8 131.8,793.8 132.6,792.8 130.6,791.8 126.3,791.0 114.3,790.4 102.3,791.1 98.3,791.8 96.2,792.8 97.4,793.8 99.3,794.3 107.3,795.3 118.3,795.5 127.6,794.8Z"/>
<path fill="#2586c8" fill-rule="evenodd" d="M213.3,736.7 209.3,736.6 205.4,735.8 200.3,732.8 198.9,730.8 198.4,728.8 198.8,726.8 200.0,724.8 202.4,722.8 205.3,721.5 209.3,720.6 213.3,720.6 213.3,736.7ZM126.3,753.9 117.3,754.1 108.3,752.8 103.4,750.8 102.2,749.8 101.4,747.8 102.7,745.8 106.7,743.8 112.3,742.5 119.3,741.9 126.3,742.2 132.3,743.3 136.4,744.8 138.8,746.8 138.9,748.8 137.0,750.8 132.3,752.8 126.3,753.9ZM213.3,814.7 76.3,814.0 41.3,812.7 41.3,781.2 75.3,775.1 110.3,773.3 144.3,769.4 213.3,768.6 213.3,814.7ZM128.7,794.8 132.6,793.8 133.4,792.8 131.5,791.8 127.3,791.0 114.3,790.3 101.3,791.1 97.2,791.8 95.3,792.8 96.4,793.8 98.3,794.3 107.3,795.5 119.3,795.6 128.7,794.8Z"/>
<path fill="#258dce" fill-rule="evenodd" d="M213.3,735.8 207.3,735.4 204.3,734.3 201.9,732.8 200.3,730.8 199.8,728.8 200.2,726.8 201.5,724.8 206.3,722.1 213.3,721.4 213.3,735.8ZM128.3,752.9 120.3,753.6 111.7,752.8 105.6,750.8 104.3,749.8 103.4,747.8 104.9,745.8 108.3,744.2 113.3,743.0 119.3,742.5 125.7,742.8 131.2,743.8 134.3,744.9 136.8,746.8 137.0,748.8 135.3,750.5 132.6,751.8 128.3,752.9ZM213.3,814.3 76.3,813.7 41.3,812.1 41.3,781.7 75.3,775.4 110.3,773.6 144.3,769.7 213.3,768.9 213.3,814.3ZM116.1,795.8 129.3,794.9 133.5,793.8 134.3,792.8 132.5,791.8 127.3,790.8 114.3,790.2 100.3,791.0 96.1,791.8 94.2,792.8 95.4,793.8 101.3,795.0 116.1,795.8Z"/>
<path fill="#2694d2" fill-rule="evenodd" d="M213.3,734.9 208.3,734.7 203.3,732.5 201.8,730.8 201.2,728.8 202.2,725.8 204.3,724.1 207.2,722.8 213.3,722.3 213.3,734.9ZM123.3,752.8 117.3,752.8 110.9,751.8 106.4,749.8 105.4,747.8 107.1,745.8 109.3,744.8 113.3,743.8 119.3,743.2 128.3,743.9 132.3,745.2 134.7,746.8 135.0,748.8 132.5,750.8 128.3,752.1 123.3,752.8ZM213.3,814.0 76.3,813.4 41.3,811.5 41.3,782.3 75.3,775.7 110.3,773.9 144.3,769.9 213.3,769.2 213.3,814.0ZM121.0,795.8 130.9,794.8 134.4,793.8 135.1,792.8 133.4,791.8 128.3,790.8 114.3,790.0 100.3,790.8 94.8,791.8 93.0,792.8 95.3,794.1 102.3,795.3 112.3,795.9 121.0,795.8Z"/>
<path fill="#229ed8" fill-rule="evenodd" d="M213.3,734.0 208.3,733.7 204.4,731.8 202.7,728.8 204.0,725.8 208.3,723.5 213.3,723.3 213.3,734.0ZM125.3,751.8 119.3,752.2 113.3,751.5 108.8,749.8 107.7,747.8 108.3,746.7 111.3,745.2 119.3,743.9 128.3,744.8 132.5,746.8 133.0,747.8 132.8,748.8 131.8,749.8 125.3,751.8ZM213.3,813.6 76.3,813.1 41.3,810.8 41.3,793.9 58.3,793.6 60.4,792.8 60.0,791.8 58.3,791.3 41.3,790.9 41.3,783.1 50.4,780.8 75.3,776.0 110.3,774.2 144.3,770.2 213.3,769.5 213.3,813.6ZM123.7,795.8 132.3,794.8 135.4,793.8 136.1,792.8 134.4,791.8 129.3,790.8 114.3,789.9 100.3,790.6 93.4,791.8 91.6,792.8 94.3,794.2 102.3,795.5 113.3,796.1 123.7,795.8Z"/>
<path fill="#1ca8de" fill-rule="evenodd" d="M213.3,732.9 209.3,732.8 206.3,731.6 205.3,730.7 204.5,728.8 205.1,726.8 208.3,724.7 213.3,724.4 213.3,732.9ZM125.3,750.9 120.3,751.3 114.6,750.8 111.7,749.8 110.4,748.8 110.2,747.8 110.9,746.8 112.8,745.8 118.3,744.8 125.3,745.2 129.8,746.8 130.5,747.8 130.3,748.8 129.0,749.8 125.3,750.9ZM213.3,813.1 187.3,813.5 76.3,812.8 41.3,809.8 41.3,795.9 58.3,794.6 63.8,792.8 63.4,791.8 58.3,790.2 41.3,788.8 41.3,784.5 48.8,781.8 76.3,776.2 110.3,774.5 144.3,770.5 213.3,769.8 213.3,813.1ZM126.0,795.8 134.3,794.5 136.4,793.8 137.1,792.8 135.5,791.8 129.3,790.6 114.3,789.8 99.3,790.5 91.7,791.8 90.0,792.8 91.4,793.8 95.6,794.8 105.3,795.9 116.3,796.3 126.0,795.8Z"/>
<path fill="#1fb0d8" fill-rule="evenodd" d="M213.3,731.5 210.3,731.6 208.1,730.8 207.0,729.8 206.8,727.8 209.3,725.9 213.3,725.7 213.3,731.5ZM124.3,749.9 120.3,750.3 116.3,749.9 113.6,748.8 113.3,747.8 115.3,746.5 120.3,745.7 125.3,746.4 127.4,747.8 127.1,748.8 124.3,749.9ZM202.3,812.8 185.3,813.2 76.3,812.5 65.9,811.8 58.3,810.1 41.3,808.9 41.3,797.7 58.3,795.7 67.8,792.8 67.2,791.8 58.3,789.1 48.3,787.7 46.0,786.8 45.4,785.8 47.5,783.8 52.1,781.8 75.3,776.7 110.3,774.8 144.3,770.8 213.3,770.1 213.3,812.4 209.3,812.1 202.3,812.8ZM128.1,795.8 135.3,794.6 137.6,793.8 138.2,792.8 136.6,791.8 130.3,790.5 114.3,789.6 97.3,790.5 89.6,791.8 87.9,792.8 89.6,793.8 93.9,794.8 105.3,796.2 117.3,796.4 128.1,795.8ZM210.4,809.8 209.1,809.8 210.4,809.8Z"/>
<path fill="#36b1b7" fill-rule="evenodd" d="M193.3,812.8 71.1,811.8 63.6,810.8 58.3,809.0 41.3,808.1 41.3,798.7 58.3,797.2 64.2,794.8 72.2,792.8 71.7,791.8 53.1,786.8 51.7,785.8 51.7,784.8 53.6,782.8 55.7,781.8 75.3,777.0 110.3,775.1 144.3,771.1 213.3,770.4 213.3,808.9 206.3,808.8 204.5,809.8 203.5,811.8 193.3,812.8ZM130.2,795.8 137.3,794.4 138.9,793.8 139.4,792.8 137.9,791.8 130.3,790.3 113.3,789.5 95.3,790.4 86.6,791.8 84.7,792.8 93.3,795.0 104.3,796.3 118.3,796.6 130.2,795.8Z"/>
<path fill="#4cb291" fill-rule="evenodd" d="M199.3,811.8 185.3,812.4 75.3,811.7 67.4,810.8 58.3,808.1 41.3,807.4 41.3,799.4 58.3,798.4 65.3,795.4 76.3,793.1 100.3,796.3 116.3,796.8 126.3,796.5 134.3,795.5 139.3,794.3 140.3,793.8 140.9,792.8 139.2,791.8 133.3,790.5 116.3,789.3 102.3,789.6 76.3,791.7 65.3,789.5 57.2,785.8 57.3,783.8 59.2,781.8 65.0,779.8 75.3,777.5 110.3,775.5 144.3,771.5 213.3,770.7 213.3,808.0 208.3,807.8 204.3,808.4 199.3,811.8Z"/>
<path fill="#5eb05f" fill-rule="evenodd" d="M193.3,811.9 75.3,811.2 67.5,809.8 60.3,807.6 46.3,807.3 41.3,806.7 41.3,800.2 46.3,799.4 60.6,798.8 68.0,795.8 75.3,794.3 83.3,794.6 100.3,796.6 118.3,797.1 136.3,795.6 141.3,794.2 142.5,792.8 140.7,791.8 134.3,790.5 119.3,789.2 105.3,789.2 84.3,790.6 75.3,790.6 65.3,788.4 61.5,786.8 60.5,785.8 60.4,783.8 61.6,781.8 65.3,780.4 75.3,777.9 110.3,776.0 144.3,771.9 213.3,771.2 213.3,807.3 208.3,807.1 203.3,807.8 200.6,808.8 198.3,810.8 193.3,811.9Z"/>
<path fill="#65b14f" fill-rule="evenodd" d="M194.3,810.9 182.3,811.5 76.3,810.6 61.3,807.1 46.3,806.7 41.3,805.9 41.3,801.0 46.3,800.1 62.3,799.2 75.3,795.2 83.3,795.3 105.3,797.3 121.3,797.4 133.3,796.5 139.3,795.5 144.3,793.8 144.5,792.8 137.7,790.8 121.3,789.1 106.3,789.0 76.3,789.9 65.3,787.3 63.1,785.8 63.0,783.8 64.1,781.8 75.3,778.6 110.3,776.6 144.3,772.5 213.3,771.7 213.3,806.6 207.3,806.5 202.3,807.2 199.3,808.1 194.3,810.9Z"/>
<path fill="#67b14d" fill-rule="evenodd" d="M192.3,809.9 181.3,810.7 76.3,809.5 71.0,807.8 62.3,806.5 45.0,805.8 42.0,804.8 41.3,804.1 41.3,802.7 42.5,801.8 46.3,800.7 58.3,800.4 69.3,798.8 76.3,796.2 103.3,797.7 124.3,797.7 139.3,796.3 144.3,795.2 147.5,793.8 147.3,792.8 143.9,791.8 128.3,789.4 111.3,788.7 76.3,788.9 67.6,786.8 65.9,785.8 65.7,783.8 67.2,781.8 75.3,779.4 110.3,777.5 144.3,773.4 213.3,772.4 213.3,805.9 201.3,806.4 197.3,807.5 192.3,809.9Z"/>
<path fill="#69b24c" fill-rule="evenodd" d="M185.3,808.8 170.2,808.8 130.3,807.4 76.3,807.7 58.3,805.3 46.3,805.0 44.6,803.8 44.7,802.8 46.3,801.7 59.3,801.1 70.3,799.6 76.3,798.3 110.3,798.7 135.3,797.8 148.3,796.4 152.3,795.2 154.2,793.8 151.7,792.8 128.3,789.2 115.3,788.5 76.3,788.0 71.7,786.8 70.1,785.8 70.1,782.8 71.1,781.8 75.3,780.4 122.8,777.8 145.3,775.0 162.3,774.3 213.3,773.7 213.3,805.0 196.8,805.8 185.3,808.8Z"/>
<path fill="#6bb34a" fill-rule="evenodd" d="M211.3,792.9 201.3,793.3 161.3,793.1 127.3,788.9 91.4,787.8 76.5,786.8 74.3,785.8 74.0,783.8 74.2,782.8 75.3,781.7 82.1,780.8 127.3,778.2 144.3,776.1 156.3,775.3 179.3,774.9 213.3,775.4 213.3,792.8 211.3,792.9ZM128.3,805.8 76.3,806.5 62.5,804.8 59.1,803.8 59.1,802.8 62.1,801.8 76.3,799.7 110.3,799.5 145.3,798.1 213.3,798.8 213.3,804.2 128.3,805.8Z"/>
<path fill="#6db449" fill-rule="evenodd" d="M213.3,791.9 201.3,792.5 159.3,792.4 145.3,791.2 127.3,788.6 89.6,786.8 84.4,785.8 83.4,784.8 83.4,783.8 83.8,782.8 86.2,781.8 93.9,780.8 127.3,778.8 145.3,776.4 161.3,775.5 176.3,775.4 210.3,775.9 213.3,776.1 213.3,791.9ZM141.3,804.9 122.3,805.5 76.3,805.5 67.2,803.8 67.0,802.8 69.7,801.8 76.3,800.7 110.3,800.1 144.3,798.6 170.3,798.8 213.3,799.9 213.3,803.3 174.3,804.6 141.3,804.9Z"/>
<path fill="#7dba44" fill-rule="evenodd" d="M206.3,791.9 173.3,792.3 151.3,791.5 127.3,788.4 101.1,786.8 95.3,785.8 94.2,784.8 94.2,783.8 94.5,782.8 96.9,781.8 127.3,779.2 150.3,776.5 179.3,775.8 201.3,776.0 213.3,776.7 213.3,791.4 206.3,791.9ZM132.3,804.8 101.3,804.8 76.3,803.9 75.3,802.8 127.3,799.6 144.3,799.0 181.3,799.5 208.0,800.8 211.2,801.8 204.4,802.8 177.3,804.0 132.3,804.8Z"/>
<path fill="#9ac73d" fill-rule="evenodd" d="M193.3,791.8 162.3,791.9 145.3,790.7 128.3,788.2 111.3,786.8 105.6,785.8 104.5,784.8 104.4,783.8 104.7,782.8 106.8,781.8 145.3,777.1 161.3,776.2 179.3,776.1 201.3,776.3 213.3,777.2 213.3,790.9 193.3,791.8ZM172.3,803.8 121.3,804.5 103.7,803.8 101.5,802.8 105.4,801.8 118.3,800.6 144.3,799.3 177.5,799.8 192.2,800.8 195.8,801.8 189.6,802.8 172.3,803.8Z"/>
<path fill="#b8d336" fill-rule="evenodd" d="M210.3,790.9 179.3,791.7 151.3,790.9 119.4,786.8 114.8,785.8 113.7,784.8 113.7,783.8 113.9,782.8 115.9,781.8 144.3,777.4 161.3,776.5 178.3,776.3 209.3,777.1 213.3,777.6 213.3,790.4 210.3,790.9ZM143.3,803.8 122.3,804.1 116.9,803.8 113.6,802.8 115.2,801.8 122.1,800.8 144.3,799.6 170.3,799.9 182.5,800.8 184.8,801.8 180.9,802.8 170.3,803.5 143.3,803.8Z"/>
<path fill="#ddde2f" fill-rule="evenodd" d="M206.3,790.8 164.3,791.3 145.3,790.3 123.6,786.8 121.0,785.8 120.5,783.8 120.6,782.8 121.6,781.8 125.1,780.8 145.3,777.6 161.3,776.7 179.3,776.6 201.3,776.9 213.3,778.1 213.3,789.9 206.3,790.8ZM173.3,802.8 127.3,803.7 120.3,802.8 121.2,801.8 127.3,800.8 144.3,800.0 170.3,800.4 175.5,800.8 178.0,801.8 173.3,802.8Z"/>
<path fill="#f0d62d" fill-rule="evenodd" d="M201.3,790.9 162.3,791.1 144.3,790.0 127.6,786.8 125.1,785.8 124.6,784.8 124.7,782.8 125.6,781.8 128.9,780.8 144.3,777.9 161.3,777.0 201.3,777.2 209.5,777.8 213.3,778.6 213.3,789.4 201.3,790.9ZM156.3,802.8 127.3,802.9 126.9,801.8 144.3,800.5 164.8,800.8 171.6,801.8 156.3,802.8Z"/>
<path fill="#f2b82f" fill-rule="evenodd" d="M188.3,790.8 162.3,790.8 144.3,789.7 131.0,786.8 129.0,785.8 128.6,782.8 129.4,781.8 132.2,780.8 144.3,778.2 161.3,777.3 201.3,777.5 209.3,778.2 213.3,779.3 213.2,788.8 209.6,789.8 203.3,790.4 188.3,790.8ZM148.3,801.8 141.8,801.8 148.8,801.8 148.3,801.8Z"/>
<path fill="#f0982f" fill-rule="evenodd" d="M205.3,789.9 178.3,790.7 161.3,790.5 145.3,789.5 136.7,787.8 134.3,786.8 132.7,785.8 132.3,782.8 134.9,780.8 142.2,778.8 161.3,777.5 201.3,777.8 210.1,778.8 212.6,779.8 213.3,780.4 213.3,787.7 210.3,789.1 205.3,789.9Z"/>
<path fill="#ee752d" fill-rule="evenodd" d="M202.3,789.8 178.3,790.4 161.3,790.2 144.3,789.2 136.2,786.8 135.3,785.8 135.2,782.8 135.5,781.8 136.8,780.8 143.8,778.8 161.3,777.8 179.3,777.6 201.3,778.1 209.3,779.3 212.1,780.8 212.7,782.8 212.6,785.8 211.5,787.8 209.4,788.8 202.3,789.8Z"/>
<path fill="#ea552b" fill-rule="evenodd" d="M192.3,789.8 162.3,789.9 144.3,788.9 138.0,786.8 137.2,785.8 137.1,782.8 138.6,780.8 144.3,779.1 178.3,777.9 203.7,778.8 208.6,779.8 210.4,780.8 210.9,781.8 211.0,785.8 209.7,787.8 201.3,789.5 192.3,789.8Z"/>
<path fill="#e63729" fill-rule="evenodd" d="M181.3,789.8 162.3,789.6 144.3,788.5 139.8,786.8 139.1,785.8 139.0,782.8 140.4,780.8 144.3,779.5 178.3,778.2 201.3,779.0 205.5,779.8 207.9,780.8 208.8,781.8 209.0,785.8 208.4,786.8 206.7,787.8 201.3,789.0 181.3,789.8Z"/>
<path fill="#e32528" fill-rule="evenodd" d="M196.3,788.8 178.3,789.5 144.3,788.0 141.6,786.8 140.9,785.8 140.8,782.8 142.2,780.8 145.0,779.8 178.3,778.6 201.3,779.6 204.9,780.8 205.8,781.8 206.1,784.8 205.4,786.8 201.3,788.4 196.3,788.8Z"/>
<path fill="#e12028" fill-rule="evenodd" d="M185.3,788.8 166.9,788.8 145.3,787.5 143.4,786.8 142.8,785.8 142.7,782.8 143.9,780.8 145.3,780.5 178.3,779.0 200.3,780.4 202.0,780.8 202.9,781.8 203.1,785.8 201.3,787.5 185.3,788.8Z"/>
<path fill="#e01e28" fill-rule="evenodd" d="M188.3,787.9 178.3,788.5 160.7,787.8 150.4,786.8 145.3,785.8 144.9,782.8 146.8,781.8 154.1,780.8 178.3,779.5 193.6,780.8 197.1,781.8 198.0,782.8 197.7,785.8 195.5,786.8 188.3,787.9Z"/>
<rect x="41.3" y="711.8" width="172.1" height="116.0" stroke="#111" stroke-width="1.1" fill="none"/>
<line x1="41.3" y1="827.8" x2="41.3" y2="830.8" stroke="#111" stroke-width="1.1"/>
<text x="41.3" y="849.0" font-size="16" text-anchor="middle" font-weight="normal" fill="#111" >0</text>
<line x1="75.72" y1="827.8" x2="75.72" y2="830.8" stroke="#111" stroke-width="1.1"/>
<text x="75.72" y="849.0" font-size="16" text-anchor="middle" font-weight="normal" fill="#111" >2</text>
<line x1="110.14" y1="827.8" x2="110.14" y2="830.8" stroke="#111" stroke-width="1.1"/>
<text x="110.14" y="849.0" font-size="16" text-anchor="middle" font-weight="normal" fill="#111" >4</text>
<line x1="144.56" y1="827.8" x2="144.56" y2="830.8" stroke="#111" stroke-width="1.1"/>
<text x="144.56" y="849.0" font-size="16" text-anchor="middle" font-weight="normal" fill="#111" >6</text>
<line x1="178.98000000000002" y1="827.8" x2="178.98000000000002" y2="830.8" stroke="#111" stroke-width="1.1"/>
<text x="178.98000000000002" y="849.0" font-size="16" text-anchor="middle" font-weight="normal" fill="#111" >8</text>
<line x1="213.39999999999998" y1="827.8" x2="213.39999999999998" y2="830.8" stroke="#111" stroke-width="1.1"/>
<text x="213.39999999999998" y="849.0" font-size="16" text-anchor="middle" font-weight="normal" fill="#111" >10</text>
<line x1="38.3" y1="827.8" x2="41.3" y2="827.8" stroke="#111" stroke-width="1.1"/>
<text x="35.3" y="833.0999999999999" font-size="16" text-anchor="end" font-weight="normal" fill="#111" >1</text>
<line x1="38.3" y1="798.8" x2="41.3" y2="798.8" stroke="#111" stroke-width="1.1"/>
<text x="35.3" y="804.0999999999999" font-size="16" text-anchor="end" font-weight="normal" fill="#111" >2</text>
<line x1="38.3" y1="769.8" x2="41.3" y2="769.8" stroke="#111" stroke-width="1.1"/>
<text x="35.3" y="775.0999999999999" font-size="16" text-anchor="end" font-weight="normal" fill="#111" >3</text>
<line x1="38.3" y1="740.8" x2="41.3" y2="740.8" stroke="#111" stroke-width="1.1"/>
<text x="35.3" y="746.0999999999999" font-size="16" text-anchor="end" font-weight="normal" fill="#111" >4</text>
<line x1="38.3" y1="711.8" x2="41.3" y2="711.8" stroke="#111" stroke-width="1.1"/>
<text x="35.3" y="717.0999999999999" font-size="16" text-anchor="end" font-weight="normal" fill="#111" >5</text>
<text x="0" y="0" font-size="16.5" text-anchor="middle" fill="#111" transform="translate(13.799999999999997,782.0) rotate(-90)">R+ΔR (Å)</text>
<text x="126.55" y="865.5999999999999" font-size="16" text-anchor="middle" font-weight="normal" fill="#111" >k (Å<tspan font-size="9.5" dy="-5.5">-1</tspan><tspan dy="5.5">)</tspan></text>
<rect x="273.20" y="711.80" width="172.1" height="116.0" fill="#143c87"/>
<path fill="#14428e" fill-rule="evenodd" d="M445.2,827.8 273.2,827.8 273.2,711.8 445.2,711.8 445.3,786.8 445.2,827.8Z"/>
<path fill="#154593" fill-rule="evenodd" d="M445.2,827.8 273.2,827.8 273.2,711.8 445.2,711.8 445.3,786.8 445.2,827.8Z"/>
<path fill="#154997" fill-rule="evenodd" d="M445.2,827.8 273.2,827.8 273.2,711.8 445.2,711.8 445.3,786.8 445.2,827.8Z"/>
<path fill="#154d9b" fill-rule="evenodd" d="M445.2,827.8 273.2,827.8 273.2,711.8 445.2,711.8 445.3,786.8 445.2,827.8Z"/>
<path fill="#16519f" fill-rule="evenodd" d="M445.2,827.8 273.2,827.8 273.2,711.8 445.2,711.8 445.3,786.8 445.2,827.8ZM411.3,745.8 416.2,744.9 417.6,743.8 416.6,742.8 414.2,742.1 408.2,741.6 403.2,742.2 401.3,742.8 400.5,743.8 401.7,744.8 404.2,745.4 411.3,745.8Z"/>
<path fill="#1654a2" fill-rule="evenodd" d="M445.2,827.8 273.2,827.8 273.2,711.8 445.2,711.8 445.3,786.8 445.2,827.8ZM419.3,746.8 424.4,744.8 425.0,743.8 424.4,742.8 422.3,741.8 417.9,740.8 405.2,740.0 396.2,741.4 393.5,742.8 393.1,743.8 393.7,744.8 395.4,745.8 402.2,747.3 411.2,747.7 419.3,746.8ZM383.6,767.8 408.4,766.8 417.0,765.8 417.2,764.8 409.5,763.8 390.2,762.8 349.2,762.4 308.4,763.8 300.2,764.8 299.2,765.8 307.2,767.0 328.2,768.0 383.6,767.8ZM388.7,816.8 399.7,815.8 402.9,814.8 400.2,813.8 389.8,812.8 359.2,812.0 328.1,812.8 318.0,813.8 315.4,814.8 318.6,815.8 323.2,816.3 342.2,817.3 366.2,817.5 388.7,816.8Z"/>
<path fill="#1859a6" fill-rule="evenodd" d="M445.2,761.8 407.2,760.3 359.2,759.8 312.2,760.3 273.2,761.8 273.2,711.8 445.2,711.8 445.2,761.8ZM414.7,749.8 421.2,749.2 428.2,747.7 432.4,745.8 433.8,743.8 433.3,742.8 431.7,741.8 428.0,740.8 413.2,739.0 401.2,738.3 395.2,738.6 389.2,740.0 385.5,741.8 384.3,743.8 385.7,745.8 387.8,746.8 398.2,749.1 406.2,749.9 414.7,749.8ZM445.2,811.2 416.2,809.6 355.2,808.1 307.2,809.0 273.2,811.0 273.2,769.1 316.2,770.5 414.1,768.8 445.2,767.7 445.3,786.8 445.2,811.2ZM445.2,827.8 273.2,827.8 273.2,818.5 309.2,820.6 359.2,821.4 409.2,820.6 445.2,818.5 445.2,827.8Z"/>
<path fill="#195daa" fill-rule="evenodd" d="M439.2,738.8 424.2,738.8 402.2,736.3 396.8,734.8 394.2,733.4 391.8,730.8 391.5,728.8 393.0,725.8 396.2,723.4 401.2,721.3 410.2,719.1 419.2,718.1 429.2,718.1 439.2,719.1 445.2,720.4 445.2,737.8 439.2,738.8ZM385.2,751.0 375.2,751.7 358.2,751.6 350.2,751.2 343.4,749.8 344.4,748.8 348.2,748.1 366.2,747.1 383.2,748.1 387.5,748.8 389.4,749.8 385.2,751.0ZM445.2,807.2 376.2,806.6 361.2,805.8 277.2,805.4 273.2,804.5 273.2,798.9 278.2,797.9 315.1,797.8 319.5,796.8 307.2,795.5 287.2,791.4 276.2,790.3 273.2,788.6 273.2,782.9 276.2,781.1 287.2,779.8 307.2,774.2 324.2,772.1 359.2,770.5 445.2,769.3 445.3,786.8 445.2,807.2Z"/>
<path fill="#1b62ae" fill-rule="evenodd" d="M428.2,737.8 414.2,736.9 403.9,734.8 398.7,731.8 397.6,729.8 397.9,727.8 400.2,725.3 404.2,723.2 410.2,721.5 417.2,720.4 425.2,720.1 432.2,720.4 439.2,721.5 445.2,723.3 445.2,735.1 437.2,737.2 428.2,737.8ZM373.2,750.8 362.0,750.8 352.6,749.8 355.2,748.7 367.2,748.1 379.2,748.7 382.2,749.8 373.2,750.8ZM445.2,806.1 278.2,804.8 273.2,803.6 273.2,799.8 279.2,798.4 347.0,797.8 308.2,794.0 287.2,789.6 279.2,788.7 276.5,787.8 275.5,786.8 275.4,784.8 278.2,782.9 287.2,781.6 308.2,775.5 325.2,773.0 359.2,771.1 445.2,770.1 445.3,786.8 445.2,806.1Z"/>
<path fill="#1c67b3" fill-rule="evenodd" d="M436.2,735.9 425.2,736.7 412.2,735.5 404.1,732.8 401.9,730.8 401.5,728.8 403.2,726.3 407.2,724.1 413.2,722.4 420.2,721.5 428.2,721.5 435.2,722.3 441.2,723.8 445.2,725.7 445.2,732.7 441.2,734.6 436.2,735.9ZM373.2,749.8 361.7,749.8 367.2,749.1 373.6,749.8 373.2,749.8ZM445.2,805.6 376.2,805.5 279.2,804.5 276.2,804.1 273.3,802.8 273.2,800.7 274.6,799.8 278.2,798.9 350.8,797.8 347.5,796.8 307.2,793.1 287.2,788.7 281.2,788.0 278.4,786.8 277.8,785.8 278.2,784.8 280.2,783.6 287.2,782.4 308.2,776.2 325.2,773.6 359.2,771.6 445.2,770.6 445.3,786.8 445.2,805.6Z"/>
<path fill="#1f6fb8" fill-rule="evenodd" d="M434.2,734.9 424.2,735.7 414.2,734.7 407.2,732.2 405.5,730.8 405.0,728.8 406.3,726.8 410.2,724.7 416.2,723.2 423.2,722.6 430.2,722.9 436.2,723.9 441.4,725.8 443.7,727.8 444.1,729.8 442.6,731.8 438.6,733.8 434.2,734.9ZM445.2,805.4 376.2,805.3 279.2,804.2 275.2,803.2 274.0,801.8 274.3,800.8 275.2,800.2 278.2,799.2 348.2,798.4 352.2,797.8 348.2,796.4 307.2,792.5 283.2,787.4 281.3,786.8 280.4,785.8 280.9,784.8 283.2,783.9 287.2,783.1 309.2,776.6 325.2,774.1 359.2,772.0 445.2,771.0 445.3,786.8 445.2,805.4Z"/>
<path fill="#2177be" fill-rule="evenodd" d="M432.2,733.9 424.2,734.5 416.2,733.8 410.5,731.8 409.2,730.8 408.5,728.8 410.2,726.8 413.2,725.4 418.2,724.2 423.2,723.8 433.9,724.8 437.2,725.9 440.1,727.8 440.5,729.8 439.2,731.4 436.5,732.8 432.2,733.9ZM445.2,805.1 376.2,805.0 279.2,803.9 275.6,802.8 275.1,801.8 275.4,800.8 278.2,799.6 349.2,798.7 352.2,798.4 353.2,797.8 348.2,796.0 307.2,792.1 284.6,786.8 283.1,785.8 284.2,784.6 308.2,777.2 325.2,774.5 359.2,772.4 445.2,771.4 445.3,786.8 445.2,805.1Z"/>
<path fill="#247fc3" fill-rule="evenodd" d="M429.2,732.9 423.2,733.2 417.2,732.4 413.5,730.8 412.6,729.8 412.6,728.8 413.2,727.8 416.2,726.3 424.2,725.2 432.2,726.1 435.2,727.3 436.6,728.8 436.5,729.8 435.2,731.1 429.2,732.9ZM445.2,804.8 363.2,804.7 279.2,803.5 276.7,802.8 276.1,801.8 276.4,800.8 279.2,799.8 353.8,798.8 354.0,797.8 349.1,795.8 307.2,791.6 290.8,787.8 286.0,785.8 286.8,784.8 291.6,782.8 308.2,777.6 325.2,774.9 359.2,772.7 445.2,771.7 445.3,786.8 445.2,804.8Z"/>
<path fill="#2586c8" fill-rule="evenodd" d="M428.2,731.0 424.2,731.4 420.2,730.8 418.2,729.8 418.1,728.8 420.2,727.6 424.2,727.0 429.2,727.7 431.0,728.8 430.9,729.8 428.2,731.0ZM445.2,804.6 363.2,804.5 300.2,803.4 279.2,803.1 277.8,802.8 277.1,801.8 277.5,800.8 279.2,800.4 355.9,798.8 354.8,797.8 349.2,795.5 322.2,793.1 307.2,791.2 292.9,787.8 288.4,785.8 288.8,784.8 293.2,782.8 308.2,778.1 325.2,775.2 359.2,773.0 445.2,772.0 445.2,804.6Z"/>
<path fill="#258dce" fill-rule="evenodd" d="M445.2,804.4 362.2,804.3 287.3,802.8 278.1,801.8 279.2,801.1 281.6,800.8 350.2,799.4 357.2,798.8 349.2,795.2 323.2,792.9 307.2,790.8 295.1,787.8 290.6,785.8 290.9,784.8 292.6,783.8 303.6,779.8 308.2,778.5 321.2,776.1 359.2,773.3 445.2,772.3 445.2,804.4Z"/>
<path fill="#2694d2" fill-rule="evenodd" d="M445.2,804.2 362.2,804.1 307.9,802.8 293.6,801.8 301.8,800.8 352.2,799.6 358.1,798.8 348.2,794.8 322.2,792.5 307.2,790.3 294.7,786.8 293.2,785.8 293.2,784.8 296.8,782.8 307.2,779.2 325.5,775.8 359.2,773.5 445.2,772.6 445.2,804.2Z"/>
<path fill="#229ed8" fill-rule="evenodd" d="M445.2,804.1 362.2,803.9 326.8,802.8 313.1,801.8 321.9,800.8 356.2,799.6 359.0,798.8 348.2,794.5 321.2,792.0 307.0,789.8 297.5,786.8 296.1,785.8 296.0,784.8 298.9,782.8 307.2,779.7 321.2,776.7 329.4,775.8 359.2,773.8 445.2,772.8 445.2,804.1Z"/>
<path fill="#1ca8de" fill-rule="evenodd" d="M445.2,803.9 363.2,803.7 338.2,802.8 329.2,801.8 334.3,800.8 357.7,799.8 359.8,798.8 349.2,794.4 322.1,791.8 307.2,789.1 300.6,786.8 299.4,785.8 299.2,784.8 301.4,782.8 309.2,779.8 323.0,776.8 333.3,775.8 359.2,774.1 445.2,773.1 445.2,803.9Z"/>
<path fill="#1fb0d8" fill-rule="evenodd" d="M445.2,803.6 363.2,803.4 349.5,802.8 340.0,801.8 345.4,800.8 359.2,800.0 360.4,799.8 360.6,798.8 349.2,794.1 321.2,791.2 309.5,788.8 304.4,786.8 303.3,785.8 303.0,784.8 303.5,783.8 306.4,781.8 315.8,778.8 325.2,776.8 337.1,775.8 359.2,774.4 445.2,773.4 445.2,803.6Z"/>
<path fill="#36b1b7" fill-rule="evenodd" d="M445.2,803.4 356.3,802.8 350.6,801.8 353.9,800.8 361.2,800.1 361.9,799.8 361.4,798.8 348.2,793.6 329.2,791.8 316.7,789.8 309.4,786.8 308.4,784.8 309.4,782.8 310.8,781.8 318.1,778.8 325.2,777.3 341.0,775.8 359.2,774.7 445.2,773.7 445.2,803.4Z"/>
<path fill="#4cb291" fill-rule="evenodd" d="M445.2,803.1 362.2,802.8 356.7,801.8 363.2,799.8 362.2,798.8 349.2,793.4 333.1,791.8 319.6,789.8 315.1,787.8 313.8,785.8 313.8,783.8 314.7,781.8 315.9,780.8 320.4,778.8 325.2,777.8 342.2,776.1 359.2,775.1 445.2,774.0 445.2,803.1Z"/>
<path fill="#5eb05f" fill-rule="evenodd" d="M445.2,802.8 377.2,802.7 362.6,801.8 364.4,799.8 363.2,798.8 349.2,793.0 329.6,790.8 320.0,788.8 317.5,786.8 317.3,783.8 318.0,781.8 321.2,779.5 330.1,777.8 342.2,776.5 359.2,775.5 445.2,774.4 445.2,802.8Z"/>
<path fill="#65b14f" fill-rule="evenodd" d="M445.2,802.4 377.2,802.2 369.2,801.5 366.2,800.9 365.7,799.8 364.2,798.7 349.2,792.5 334.6,790.8 322.1,787.8 320.9,786.8 320.7,785.8 321.0,782.8 322.8,780.8 325.1,779.8 335.5,777.8 344.8,776.8 359.2,775.9 445.2,774.8 445.2,802.4Z"/>
<path fill="#67b14d" fill-rule="evenodd" d="M445.2,801.9 376.2,801.5 371.8,800.8 366.2,798.9 349.2,791.8 340.0,790.8 332.0,788.8 329.2,787.8 327.8,786.8 327.5,785.8 329.3,781.8 330.4,780.8 335.9,778.8 342.2,777.7 359.2,776.6 445.2,775.3 445.2,801.9Z"/>
<path fill="#69b24c" fill-rule="evenodd" d="M445.2,801.2 402.7,800.8 376.2,799.4 366.2,797.6 349.2,790.5 341.2,789.5 336.2,787.8 334.9,786.8 334.9,785.8 337.0,783.8 338.4,780.8 342.2,779.1 345.1,778.8 359.2,777.8 445.2,776.1 445.2,801.2Z"/>
<path fill="#6bb34a" fill-rule="evenodd" d="M445.2,798.1 401.2,796.5 386.2,794.4 369.3,789.8 356.2,789.2 344.3,787.8 341.8,786.8 342.0,785.8 345.2,785.1 372.2,782.8 385.2,779.6 397.2,778.1 445.2,777.2 445.2,798.1Z"/>
<path fill="#6db449" fill-rule="evenodd" d="M445.2,795.4 402.2,795.0 384.2,792.6 370.2,789.4 353.0,787.8 350.7,786.8 351.4,785.8 353.2,785.5 370.2,783.9 385.2,780.5 402.2,778.4 445.2,778.1 445.2,795.4Z"/>
<path fill="#7dba44" fill-rule="evenodd" d="M445.2,794.7 402.2,794.5 385.2,792.3 369.2,788.8 358.7,787.8 356.4,786.8 357.2,785.8 370.2,784.3 385.2,781.0 402.2,778.9 445.2,778.7 445.2,794.7Z"/>
<path fill="#9ac73d" fill-rule="evenodd" d="M445.2,794.2 402.2,794.0 385.2,791.8 370.2,788.6 363.2,787.8 360.9,786.8 361.7,785.8 372.2,784.2 385.2,781.4 402.2,779.3 445.2,779.1 445.2,794.2Z"/>
<path fill="#b8d336" fill-rule="evenodd" d="M445.2,793.8 402.2,793.6 385.2,791.5 367.1,787.8 364.8,786.8 365.6,785.8 385.2,781.7 402.2,779.6 445.2,779.4 445.2,793.8Z"/>
<path fill="#ddde2f" fill-rule="evenodd" d="M445.2,793.5 402.2,793.3 385.2,791.2 370.1,787.8 368.2,786.8 368.9,785.8 385.2,782.1 402.2,780.0 445.2,779.8 445.2,793.5Z"/>
<path fill="#f0d62d" fill-rule="evenodd" d="M445.2,793.2 402.2,793.0 385.2,790.9 372.4,787.8 371.1,786.8 371.6,785.8 374.6,784.8 384.2,782.6 402.2,780.3 445.2,780.1 445.2,793.2Z"/>
<path fill="#f2b82f" fill-rule="evenodd" d="M445.2,792.9 402.2,792.6 385.2,790.5 374.7,787.8 373.8,786.8 374.1,785.8 376.6,784.8 384.6,782.8 402.2,780.6 445.2,780.4 445.2,792.9Z"/>
<path fill="#f0982f" fill-rule="evenodd" d="M445.2,792.5 402.2,792.3 384.2,790.0 377.1,787.8 376.4,786.8 376.7,785.8 378.6,784.8 385.2,783.1 402.2,780.9 445.2,780.7 445.2,792.5Z"/>
<path fill="#ee752d" fill-rule="evenodd" d="M445.2,792.2 402.2,792.0 385.2,789.8 379.5,787.8 378.9,786.8 379.1,785.8 380.7,784.8 383.8,783.8 402.2,781.3 445.2,781.0 445.2,792.2Z"/>
<path fill="#ea552b" fill-rule="evenodd" d="M445.2,791.9 402.2,791.6 385.2,789.2 381.8,787.8 381.4,786.8 381.5,785.8 382.8,784.8 385.2,784.0 402.2,781.6 445.2,781.4 445.2,791.9Z"/>
<path fill="#e63729" fill-rule="evenodd" d="M445.2,791.5 402.2,791.2 386.3,788.8 384.1,787.8 383.8,786.8 383.9,785.8 385.2,784.8 402.2,782.0 445.2,781.7 445.2,791.5Z"/>
<path fill="#e32528" fill-rule="evenodd" d="M445.2,791.1 402.2,790.8 389.9,788.8 387.5,787.8 387.0,786.8 387.2,785.8 388.8,784.8 402.2,782.5 445.2,782.1 445.2,791.1Z"/>
<path fill="#e12028" fill-rule="evenodd" d="M445.2,790.7 411.2,790.7 402.2,790.2 393.6,788.8 391.5,787.8 391.1,786.8 391.2,785.8 392.6,784.8 396.0,783.8 402.2,783.0 411.2,782.6 445.2,782.5 445.2,790.7Z"/>
<path fill="#e01e28" fill-rule="evenodd" d="M445.2,790.1 405.4,789.8 397.2,788.7 395.5,787.8 395.1,786.8 395.2,785.8 396.4,784.8 406.2,783.4 445.2,783.1 445.2,790.1Z"/>
<rect x="273.2" y="711.8" width="172.1" height="116.0" stroke="#111" stroke-width="1.1" fill="none"/>
<line x1="273.2" y1="827.8" x2="273.2" y2="830.8" stroke="#111" stroke-width="1.1"/>
<text x="273.2" y="849.0" font-size="16" text-anchor="middle" font-weight="normal" fill="#111" >0</text>
<line x1="307.62" y1="827.8" x2="307.62" y2="830.8" stroke="#111" stroke-width="1.1"/>
<text x="307.62" y="849.0" font-size="16" text-anchor="middle" font-weight="normal" fill="#111" >2</text>
<line x1="342.03999999999996" y1="827.8" x2="342.03999999999996" y2="830.8" stroke="#111" stroke-width="1.1"/>
<text x="342.03999999999996" y="849.0" font-size="16" text-anchor="middle" font-weight="normal" fill="#111" >4</text>
<line x1="376.46" y1="827.8" x2="376.46" y2="830.8" stroke="#111" stroke-width="1.1"/>
<text x="376.46" y="849.0" font-size="16" text-anchor="middle" font-weight="normal" fill="#111" >6</text>
<line x1="410.88" y1="827.8" x2="410.88" y2="830.8" stroke="#111" stroke-width="1.1"/>
<text x="410.88" y="849.0" font-size="16" text-anchor="middle" font-weight="normal" fill="#111" >8</text>
<line x1="445.29999999999995" y1="827.8" x2="445.29999999999995" y2="830.8" stroke="#111" stroke-width="1.1"/>
<text x="445.29999999999995" y="849.0" font-size="16" text-anchor="middle" font-weight="normal" fill="#111" >10</text>
<line x1="270.2" y1="827.8" x2="273.2" y2="827.8" stroke="#111" stroke-width="1.1"/>
<text x="267.2" y="833.0999999999999" font-size="16" text-anchor="end" font-weight="normal" fill="#111" >1</text>
<line x1="270.2" y1="798.8" x2="273.2" y2="798.8" stroke="#111" stroke-width="1.1"/>
<text x="267.2" y="804.0999999999999" font-size="16" text-anchor="end" font-weight="normal" fill="#111" >2</text>
<line x1="270.2" y1="769.8" x2="273.2" y2="769.8" stroke="#111" stroke-width="1.1"/>
<text x="267.2" y="775.0999999999999" font-size="16" text-anchor="end" font-weight="normal" fill="#111" >3</text>
<line x1="270.2" y1="740.8" x2="273.2" y2="740.8" stroke="#111" stroke-width="1.1"/>
<text x="267.2" y="746.0999999999999" font-size="16" text-anchor="end" font-weight="normal" fill="#111" >4</text>
<line x1="270.2" y1="711.8" x2="273.2" y2="711.8" stroke="#111" stroke-width="1.1"/>
<text x="267.2" y="717.0999999999999" font-size="16" text-anchor="end" font-weight="normal" fill="#111" >5</text>
<text x="0" y="0" font-size="16.5" text-anchor="middle" fill="#111" transform="translate(243.5,782.0) rotate(-90)">R+ΔR (Å)</text>
<text x="358.45" y="865.5999999999999" font-size="16" text-anchor="middle" font-weight="normal" fill="#111" >k (Å<tspan font-size="9.5" dy="-5.5">-1</tspan><tspan dy="5.5">)</tspan></text>
<rect x="504.60" y="711.80" width="172.1" height="116.0" fill="#143c87"/>
<path fill="#14428e" fill-rule="evenodd" d="M676.6,827.8 504.6,827.8 504.6,827.8 504.6,816.8 504.6,711.8 676.6,711.8 676.7,711.8 676.7,816.8 676.7,827.8 676.6,827.8ZM573.9,766.8 582.3,764.8 584.4,763.8 585.2,762.8 581.6,761.7 575.6,761.4 570.6,762.2 567.4,763.8 567.1,764.8 568.0,765.8 573.9,766.8Z"/>
<path fill="#154593" fill-rule="evenodd" d="M676.6,827.8 504.6,827.8 504.6,816.8 504.6,711.8 676.6,711.8 676.7,816.8 676.6,827.8ZM640.6,726.8 640.6,725.8 636.4,725.8 636.3,726.8 640.6,726.8ZM641.0,743.8 637.6,742.8 633.7,743.8 637.6,744.7 641.0,743.8ZM575.1,766.8 582.9,764.8 586.3,762.8 585.1,761.8 582.6,761.2 575.6,760.9 569.1,761.8 565.4,763.8 565.2,764.8 566.6,766.0 569.4,766.8 575.1,766.8Z"/>
<path fill="#154997" fill-rule="evenodd" d="M676.6,827.8 504.6,827.8 504.6,816.8 504.6,711.8 676.6,711.8 676.7,816.8 676.6,827.8ZM642.4,727.8 644.7,726.8 644.7,725.8 642.4,724.8 638.6,724.4 634.1,724.8 631.6,725.8 631.6,726.8 634.0,727.8 638.6,728.2 642.4,727.8ZM641.8,744.8 643.1,743.8 642.0,742.8 639.6,742.3 633.6,742.5 631.3,743.8 632.7,744.8 635.6,745.3 641.8,744.8ZM576.0,766.8 583.6,764.8 587.2,762.8 587.2,761.8 581.6,760.4 573.6,760.3 566.6,761.6 563.2,763.8 563.0,764.8 563.6,765.8 566.8,766.8 573.6,767.2 576.0,766.8Z"/>
<path fill="#154d9b" fill-rule="evenodd" d="M676.6,827.8 504.6,827.8 504.6,711.8 676.6,711.8 676.7,816.8 676.6,827.8ZM641.0,728.8 645.6,727.8 647.0,726.8 647.0,725.8 643.6,724.2 637.6,723.7 631.6,724.4 628.5,725.8 628.5,726.8 631.6,728.2 635.6,728.8 641.0,728.8ZM639.2,745.8 643.6,744.9 644.7,743.8 643.9,742.8 642.6,742.4 637.6,741.7 631.6,742.4 630.3,742.8 629.4,743.8 630.4,744.8 632.6,745.4 639.2,745.8ZM576.9,766.8 584.2,764.8 588.0,762.8 588.8,761.8 582.6,759.8 573.6,759.5 564.6,761.0 561.6,762.4 560.2,763.8 560.7,765.8 563.9,766.8 573.6,767.4 576.9,766.8Z"/>
<path fill="#16519f" fill-rule="evenodd" d="M676.6,827.8 504.6,827.8 504.6,757.0 511.6,761.4 520.6,764.2 529.6,764.6 538.6,762.9 546.6,759.2 552.5,753.8 556.0,747.8 557.3,740.8 556.0,733.8 553.9,729.8 551.6,726.8 545.4,721.8 537.6,718.4 528.6,716.9 519.6,717.6 511.6,720.2 504.6,724.6 504.6,711.8 676.6,711.8 676.7,816.8 676.6,827.8ZM645.0,728.8 647.8,727.8 648.9,726.8 648.9,725.8 647.6,724.7 643.6,723.5 638.6,723.1 632.6,723.4 627.6,724.5 625.4,725.8 625.4,726.8 626.8,727.8 631.6,729.0 638.6,729.5 645.0,728.8ZM642.4,745.8 645.3,744.8 646.1,743.8 645.4,742.8 641.6,741.6 635.6,741.3 630.6,742.0 628.3,742.8 627.5,743.8 628.4,744.8 632.6,746.0 637.6,746.3 642.4,745.8ZM577.7,766.8 584.8,764.8 590.0,761.8 588.6,760.5 581.6,758.6 571.6,758.2 563.6,759.1 558.6,760.4 555.7,761.8 554.3,763.8 555.3,765.8 560.0,766.8 572.6,767.5 577.7,766.8Z"/>
<path fill="#1654a2" fill-rule="evenodd" d="M676.6,827.8 504.6,827.8 504.6,799.4 532.6,799.7 583.0,798.8 632.1,796.8 640.9,795.8 618.1,790.8 599.6,787.4 598.3,786.8 594.6,786.4 593.3,785.8 570.3,781.8 563.6,781.5 561.0,780.8 554.6,780.6 542.1,778.8 527.6,778.4 504.6,776.7 504.6,769.0 538.6,767.0 556.6,766.9 573.6,767.7 583.6,765.5 591.1,761.8 591.4,760.8 582.5,756.8 580.1,754.8 578.1,748.8 577.3,740.8 578.1,732.8 580.9,724.8 585.6,717.4 591.7,711.8 676.6,711.8 676.6,827.8ZM642.6,729.8 647.5,728.8 649.6,727.8 650.6,726.8 650.6,725.8 649.7,724.8 646.6,723.5 637.6,722.5 627.6,723.5 623.2,724.8 621.7,725.8 621.7,726.8 623.2,727.8 627.6,729.1 634.6,730.0 642.6,729.8ZM644.4,745.8 646.7,744.8 647.3,743.8 646.7,742.8 644.6,741.8 640.6,741.1 630.6,741.4 626.3,742.8 625.6,743.8 627.6,745.4 632.6,746.5 638.6,746.7 644.4,745.8Z"/>
<path fill="#1859a6" fill-rule="evenodd" d="M676.6,791.1 642.6,790.0 607.6,786.3 567.0,780.8 546.4,778.8 510.6,776.4 504.6,775.0 504.6,770.9 507.1,769.8 514.6,768.8 537.6,767.4 555.6,767.2 573.6,767.9 583.6,765.7 592.0,761.8 593.2,760.8 586.5,756.8 584.6,754.8 582.9,751.8 580.8,743.8 581.1,735.8 583.5,728.8 587.6,723.2 592.6,719.6 601.0,716.8 601.3,715.8 600.9,711.8 676.6,711.8 676.6,791.1ZM646.1,729.8 651.4,727.8 652.2,726.8 652.2,725.8 649.6,723.8 646.6,722.9 637.6,722.0 626.9,722.8 615.1,724.8 613.4,725.8 614.2,726.8 616.6,727.8 628.6,730.0 637.6,730.6 646.1,729.8ZM641.5,746.8 646.0,745.8 647.9,744.8 648.5,743.8 648.0,742.8 645.6,741.6 636.6,740.5 627.6,741.5 624.2,742.8 623.5,743.8 624.1,744.8 625.6,745.5 629.6,746.5 635.6,747.1 641.5,746.8ZM676.6,827.8 504.6,827.8 504.6,801.8 676.6,801.8 676.6,827.8Z"/>
<path fill="#195daa" fill-rule="evenodd" d="M676.6,790.2 641.6,789.2 607.6,785.7 570.1,780.8 538.9,777.8 517.6,776.5 511.9,775.8 508.9,774.8 508.4,772.8 509.2,770.8 512.0,769.8 522.6,768.6 550.6,767.4 573.6,768.0 584.6,765.6 594.7,760.8 595.0,759.8 589.4,756.8 585.6,752.3 583.2,745.8 582.7,739.8 583.7,733.8 586.6,727.9 590.6,723.7 595.6,721.1 600.6,720.4 604.6,721.3 606.6,722.6 611.6,728.2 615.6,729.8 633.6,731.0 641.6,730.9 649.6,729.5 652.6,728.0 653.7,726.8 652.9,724.8 651.4,723.8 643.6,721.9 634.6,721.5 618.6,722.7 613.6,722.0 609.6,720.4 605.6,717.6 603.6,714.8 602.8,711.8 676.6,711.8 676.6,790.2ZM644.0,746.8 649.1,744.8 649.6,743.8 649.1,742.8 647.5,741.8 643.6,740.7 634.6,740.2 624.6,741.6 621.5,742.8 620.7,743.8 621.3,744.8 623.5,745.8 629.6,747.1 636.6,747.5 644.0,746.8ZM676.6,827.8 504.6,827.8 504.6,802.5 676.6,802.5 676.6,827.8Z"/>
<path fill="#1b62ae" fill-rule="evenodd" d="M676.6,789.5 642.6,788.6 607.6,785.3 572.6,780.8 516.6,775.8 513.0,774.8 512.4,773.8 512.4,772.8 513.4,770.8 515.6,770.0 524.6,768.8 551.6,767.7 573.6,768.2 585.6,765.5 597.7,759.8 596.9,758.8 591.6,756.3 588.1,752.8 585.6,747.8 584.4,741.8 585.0,735.8 586.9,730.8 590.6,726.3 595.6,723.4 599.6,722.7 602.6,723.3 605.6,725.0 611.6,730.0 615.6,731.4 643.6,731.2 651.6,729.5 654.5,727.8 655.1,726.8 654.5,724.8 653.1,723.8 645.6,721.6 636.6,721.0 620.6,721.6 614.6,720.7 610.6,719.1 607.0,716.8 605.2,714.8 604.3,711.8 676.6,711.8 676.6,789.5ZM639.3,747.8 647.6,746.3 650.3,744.8 650.8,743.8 650.3,742.8 648.8,741.8 645.9,740.8 635.6,739.8 628.6,740.2 620.6,741.6 617.6,742.6 616.7,743.8 617.0,744.8 618.6,745.8 623.4,746.8 632.6,747.9 639.3,747.8ZM613.7,754.8 620.2,752.8 618.6,752.0 615.6,752.0 613.3,753.8 613.7,754.8ZM676.6,827.8 504.6,827.8 504.6,803.1 676.6,803.1 676.6,827.8Z"/>
<path fill="#1c67b3" fill-rule="evenodd" d="M676.6,788.9 642.6,788.0 608.6,784.9 573.6,780.7 520.5,775.8 517.0,774.8 516.2,773.8 516.3,772.8 517.3,770.8 519.6,770.1 529.0,768.8 553.6,767.9 573.6,768.4 585.4,765.8 601.9,758.8 602.2,757.8 596.6,757.0 591.6,754.0 588.3,749.8 586.4,744.8 586.1,738.8 587.8,732.8 591.6,727.8 595.6,725.4 599.6,724.8 602.6,725.4 612.6,732.3 615.6,733.1 622.6,732.1 637.6,732.1 646.6,731.3 653.6,729.4 656.0,727.8 656.6,726.8 656.0,724.8 654.7,723.8 647.6,721.5 638.6,720.6 620.6,720.6 614.6,719.5 610.6,717.9 607.6,715.9 606.1,713.8 605.6,711.8 676.6,711.8 676.6,788.9ZM643.0,747.8 650.2,745.8 651.5,744.8 651.9,743.8 651.5,742.8 648.6,741.1 644.6,740.1 633.6,739.4 616.6,740.8 615.0,741.8 614.1,743.8 614.6,746.6 616.6,748.8 621.6,747.8 634.6,748.5 643.0,747.8ZM608.2,756.8 619.9,753.8 622.4,752.8 622.6,751.8 616.6,748.8 615.6,749.1 607.1,756.8 608.2,756.8ZM676.6,827.8 504.6,827.8 504.6,803.6 676.6,803.6 676.6,827.8Z"/>
<path fill="#1f6fb8" fill-rule="evenodd" d="M676.6,788.3 642.6,787.4 607.6,784.5 573.6,780.5 524.5,775.8 520.8,774.8 520.0,773.8 520.1,772.8 521.1,770.8 522.6,770.3 533.3,768.8 555.6,768.1 573.6,768.5 580.6,767.3 586.6,765.6 602.6,759.2 624.3,752.8 625.7,751.8 624.0,749.8 624.6,749.6 644.6,748.0 649.6,746.7 652.7,744.8 653.0,743.8 652.6,742.8 651.4,741.8 644.6,739.7 636.6,738.9 621.6,739.3 615.6,738.5 613.6,740.5 612.6,742.6 612.3,747.8 611.7,749.8 607.6,753.9 604.6,755.3 600.6,755.9 596.6,755.1 593.6,753.4 591.0,750.8 589.2,747.8 587.9,743.8 587.7,739.8 588.4,735.8 590.4,731.8 592.6,729.3 595.6,727.5 598.6,726.8 602.6,727.3 606.6,729.6 613.6,734.9 615.6,735.6 619.7,733.8 623.6,733.0 640.6,732.5 649.6,731.3 655.6,729.3 658.1,726.8 657.5,724.8 656.4,723.8 653.6,722.4 648.6,721.1 639.6,720.1 621.6,719.8 614.6,718.6 609.0,715.8 607.4,713.8 606.8,711.8 676.6,711.8 676.6,788.3ZM676.6,827.8 504.6,827.8 504.6,804.1 676.6,804.1 676.6,827.8Z"/>
<path fill="#2177be" fill-rule="evenodd" d="M676.6,787.7 642.6,786.9 607.6,784.1 528.4,775.8 524.5,774.8 523.7,773.8 523.8,772.8 524.8,770.8 526.6,770.3 537.3,768.8 555.6,768.4 573.6,768.7 581.6,767.3 587.6,765.5 600.6,760.4 626.0,752.8 630.6,750.5 647.6,747.9 651.6,746.5 653.9,744.8 654.2,743.8 653.6,742.6 648.6,740.1 638.6,738.5 623.6,738.2 620.6,737.1 620.5,735.8 621.8,734.8 625.6,733.8 642.6,732.9 653.6,730.9 656.6,729.7 659.1,727.8 659.6,725.8 658.1,723.8 653.6,721.7 646.6,720.2 622.6,719.1 616.6,718.3 610.5,715.8 608.6,713.8 608.1,711.8 676.6,711.8 676.6,787.7ZM602.6,753.9 598.6,753.7 594.5,751.8 591.6,748.7 589.6,743.8 589.5,738.8 591.2,733.8 593.7,730.8 597.6,728.8 601.6,728.8 605.6,730.6 610.7,734.8 612.2,737.8 610.2,747.8 609.3,749.8 606.6,752.3 602.6,753.9ZM676.6,827.8 504.6,827.8 504.6,804.6 676.6,804.6 676.6,827.8Z"/>
<path fill="#247fc3" fill-rule="evenodd" d="M676.6,787.1 642.6,786.4 607.6,783.7 532.2,775.8 528.2,774.8 527.3,773.8 527.4,772.8 528.5,770.8 532.0,769.8 538.6,769.1 555.6,768.6 573.6,768.9 582.6,767.3 599.6,761.1 632.6,751.1 649.9,747.8 653.6,746.2 655.2,744.8 655.1,742.8 654.1,741.8 649.6,739.8 641.6,738.3 627.6,737.3 625.2,736.8 625.0,735.8 628.6,734.7 646.6,733.0 655.6,731.0 658.6,729.6 660.7,727.8 661.2,725.8 659.8,723.8 654.6,721.3 646.6,719.6 621.6,718.3 616.6,717.6 611.6,715.5 609.9,713.8 609.3,711.8 676.6,711.8 676.6,787.1ZM602.6,751.8 598.6,751.7 595.1,749.8 592.6,746.8 591.3,742.8 591.3,738.8 592.7,734.8 595.5,731.8 598.6,730.6 601.6,730.7 605.6,732.4 608.5,734.8 610.1,737.8 610.0,739.8 608.0,747.8 605.6,750.6 602.6,751.8ZM676.6,827.8 504.6,827.8 504.6,805.1 676.6,805.1 676.6,827.8Z"/>
<path fill="#2586c8" fill-rule="evenodd" d="M676.6,786.5 642.6,785.8 607.6,783.4 536.0,775.8 531.8,774.8 530.9,773.8 531.0,772.8 532.1,770.8 538.6,769.5 555.6,768.8 573.6,769.1 582.6,767.5 600.6,761.1 631.6,752.2 650.6,748.2 654.3,746.8 656.6,744.8 656.5,742.8 652.6,740.2 645.6,738.3 634.9,736.8 632.9,735.8 649.6,733.2 658.6,730.6 661.6,728.8 662.9,726.8 662.5,724.8 660.6,723.1 655.4,720.8 647.6,719.2 617.6,717.1 612.2,714.8 610.5,711.8 676.6,711.8 676.6,786.5ZM603.6,749.1 600.6,749.7 597.6,748.9 595.2,746.8 593.5,743.8 593.1,739.8 593.9,736.8 595.6,734.5 598.6,732.7 601.6,732.7 604.5,733.8 606.9,735.8 607.9,737.8 608.0,740.8 606.6,745.7 605.3,747.8 603.6,749.1ZM676.6,827.8 504.6,827.8 504.6,805.6 676.6,805.6 676.6,827.8Z"/>
<path fill="#258dce" fill-rule="evenodd" d="M676.6,785.9 642.6,785.3 607.6,783.0 546.7,776.8 535.4,774.8 534.4,773.8 534.5,772.8 535.6,770.8 539.5,769.8 556.6,769.1 573.6,769.3 583.6,767.5 599.7,761.8 624.6,754.6 637.6,751.2 651.6,748.6 655.6,747.1 657.6,745.6 658.3,743.8 658.0,742.8 655.6,740.8 651.6,739.1 642.8,736.8 641.9,735.8 656.6,732.3 662.3,729.8 664.4,727.8 664.8,725.8 662.3,722.8 656.6,720.3 647.6,718.5 633.6,717.1 621.6,716.9 617.6,716.4 613.6,714.7 612.6,713.8 611.7,711.8 676.6,711.8 676.6,785.9ZM602.6,746.2 600.6,746.7 598.6,746.2 597.0,744.8 595.9,742.8 595.6,739.8 596.3,737.8 597.6,736.2 599.6,735.2 603.3,735.8 604.6,736.9 605.6,738.8 605.6,740.8 604.7,743.8 602.6,746.2ZM676.6,827.8 504.6,827.8 504.6,806.1 676.6,806.1 676.6,827.8Z"/>
<path fill="#2694d2" fill-rule="evenodd" d="M676.6,785.3 642.6,784.8 607.6,782.6 549.6,776.8 539.0,774.8 538.0,773.8 538.0,772.8 538.2,771.8 539.3,770.8 546.3,769.8 573.6,769.5 582.6,768.0 588.6,766.4 600.9,761.8 625.7,754.8 641.6,750.9 653.7,748.8 656.6,747.7 659.3,745.8 660.0,743.8 658.8,741.8 654.6,739.4 647.8,736.8 647.7,735.8 659.6,732.3 664.6,729.8 666.5,727.8 666.9,725.8 664.6,722.8 658.6,720.0 649.6,718.0 632.6,716.0 618.6,715.8 614.6,714.2 613.1,711.8 676.6,711.8 676.6,785.3ZM676.6,827.8 504.6,827.8 504.6,806.6 676.6,806.6 676.6,827.8Z"/>
<path fill="#229ed8" fill-rule="evenodd" d="M676.6,784.7 642.6,784.2 607.6,782.3 552.6,776.8 546.8,775.8 543.4,774.8 542.5,773.8 542.9,771.8 545.6,770.7 555.6,769.7 573.6,769.8 583.6,768.1 602.2,761.8 627.5,754.8 641.6,751.4 655.6,749.1 659.1,747.8 661.5,745.8 662.1,743.8 660.9,741.8 652.3,736.8 652.7,735.8 662.6,732.4 667.6,729.6 669.1,727.8 669.4,725.8 667.3,722.8 660.6,719.5 650.6,717.2 633.6,714.6 623.6,715.4 618.6,715.0 615.8,713.8 614.6,711.8 676.6,711.8 676.6,784.7ZM676.6,827.8 504.6,827.8 504.6,807.1 676.6,807.1 676.6,827.8Z"/>
<path fill="#1ca8de" fill-rule="evenodd" d="M627.6,713.8 623.6,714.5 620.6,714.4 617.6,713.5 616.3,711.8 631.4,711.8 627.6,713.8ZM676.6,784.0 642.6,783.6 607.6,781.9 555.9,776.8 550.6,775.8 548.0,774.8 547.5,773.8 548.1,771.8 550.4,770.8 557.6,770.2 573.6,770.1 584.6,768.2 600.2,762.8 625.5,755.8 641.6,751.9 656.7,749.8 662.5,747.8 664.6,745.8 664.9,744.8 664.4,742.8 662.5,740.8 657.8,737.8 657.1,736.8 658.0,735.8 666.6,732.4 670.8,729.8 672.6,726.8 671.6,723.8 667.6,720.9 661.6,718.4 640.6,713.9 635.9,711.8 676.6,711.8 676.6,784.0ZM676.6,827.8 504.6,827.8 504.6,807.7 676.6,807.7 676.6,827.8Z"/>
<path fill="#1fb0d8" fill-rule="evenodd" d="M624.6,713.0 620.6,713.1 618.7,711.8 626.5,711.8 624.6,713.0ZM676.6,724.0 673.9,721.8 663.6,717.2 645.8,711.8 676.6,711.8 676.6,724.0ZM676.6,783.3 641.6,782.9 607.6,781.4 560.1,776.8 554.8,775.8 552.8,774.8 552.6,773.8 553.3,771.8 556.6,770.8 573.6,770.5 581.6,769.2 588.6,767.5 605.1,761.8 631.6,754.8 641.6,752.5 656.2,750.8 665.1,748.8 669.0,746.8 669.6,744.8 667.9,741.8 663.6,737.8 663.7,736.8 672.6,732.3 676.6,728.9 676.6,783.3ZM676.6,827.8 504.6,827.8 504.6,808.3 676.6,808.3 676.6,827.8Z"/>
<path fill="#36b1b7" fill-rule="evenodd" d="M676.6,720.0 671.6,718.7 667.2,716.8 664.1,714.8 661.8,711.8 676.6,711.8 676.6,720.0ZM676.6,782.6 642.6,782.3 607.6,780.9 565.1,776.8 560.4,775.8 558.5,774.8 558.4,773.8 558.7,772.8 560.2,771.8 573.6,770.8 586.6,768.5 603.3,762.8 638.3,753.8 662.2,750.8 676.6,748.0 676.6,782.6ZM676.6,827.8 504.6,827.8 504.6,808.9 590.6,808.2 676.6,808.9 676.6,827.8Z"/>
<path fill="#4cb291" fill-rule="evenodd" d="M676.6,718.3 672.6,717.5 668.8,715.8 666.7,713.8 665.9,711.8 676.6,711.8 676.6,718.3ZM676.6,781.8 641.6,781.5 607.6,780.4 573.6,777.2 567.2,775.8 566.3,774.8 567.1,772.8 568.6,772.3 585.6,769.3 605.1,762.8 636.8,754.8 642.6,753.6 676.6,750.0 676.6,781.8ZM676.6,827.8 504.6,827.8 504.6,809.6 548.6,809.6 590.6,808.5 676.6,809.6 676.6,827.8Z"/>
<path fill="#5eb05f" fill-rule="evenodd" d="M676.6,716.9 673.6,716.4 670.6,715.1 669.1,713.8 668.3,711.8 676.6,711.8 676.6,716.9ZM676.6,780.9 607.6,779.8 578.3,776.8 574.8,775.8 574.3,774.8 575.7,772.8 578.3,771.8 588.6,769.3 603.9,763.8 635.7,755.8 642.6,754.4 676.6,751.4 676.6,780.9ZM676.6,827.8 504.6,827.8 504.6,810.4 543.6,810.4 556.6,809.4 590.6,808.8 641.6,809.3 661.6,810.3 676.6,810.4 676.6,827.8Z"/>
<path fill="#65b14f" fill-rule="evenodd" d="M676.6,715.6 672.6,714.5 671.6,713.8 670.5,711.8 676.6,711.8 676.6,715.6ZM676.6,779.8 607.6,779.1 587.1,776.8 583.6,775.8 582.7,774.8 583.6,772.8 585.0,771.8 600.4,765.8 606.4,763.8 626.3,758.8 642.6,755.3 676.6,752.7 676.6,779.8ZM676.6,827.8 504.6,827.8 504.6,811.4 538.6,811.3 556.6,809.7 590.6,809.0 641.6,809.6 676.6,811.4 676.6,827.8Z"/>
<path fill="#67b14d" fill-rule="evenodd" d="M676.6,713.9 674.6,713.4 673.2,711.8 676.6,711.8 676.6,713.9ZM676.6,778.4 607.6,778.1 593.0,775.8 591.4,774.8 591.1,773.8 593.4,770.8 603.5,765.8 626.1,759.8 642.6,756.4 676.6,754.2 676.6,778.4ZM676.6,827.8 504.6,827.8 504.6,812.6 538.6,812.0 556.6,809.9 590.6,809.1 642.6,809.9 676.6,812.1 676.6,827.8Z"/>
<path fill="#69b24c" fill-rule="evenodd" d="M636.6,776.8 607.6,776.6 602.4,774.8 601.6,773.8 601.6,771.8 603.0,768.8 607.6,766.1 634.6,759.1 644.6,757.5 676.6,756.2 676.6,776.4 636.6,776.8ZM676.6,827.8 504.6,827.8 504.6,813.3 538.6,812.3 556.6,810.1 590.6,809.3 642.6,810.0 675.6,812.4 676.6,812.5 676.6,827.8Z"/>
<path fill="#6bb34a" fill-rule="evenodd" d="M664.6,773.8 648.6,774.0 625.6,772.6 623.5,771.8 621.6,770.1 619.9,767.8 619.9,766.8 621.9,764.8 626.1,762.8 632.8,760.8 641.6,759.1 658.6,758.2 676.6,759.2 676.6,772.8 664.6,773.8ZM621.6,822.8 590.6,823.5 555.6,822.5 540.6,819.8 504.6,818.6 504.6,813.8 538.6,812.7 556.6,810.3 590.6,809.4 642.6,810.2 676.6,812.9 676.6,819.6 644.6,822.5 621.6,822.8Z"/>
<path fill="#6db449" fill-rule="evenodd" d="M667.6,771.8 653.6,772.6 639.6,771.5 630.6,768.9 628.9,767.8 627.8,765.8 629.4,763.8 633.6,762.0 639.6,760.5 646.6,759.6 662.6,759.4 670.6,760.2 676.6,761.5 676.6,770.0 667.6,771.8ZM643.6,821.9 590.6,822.7 557.6,822.0 538.6,819.3 504.6,817.8 504.6,814.5 538.6,812.9 556.6,810.4 590.6,809.6 642.6,810.4 676.6,813.2 676.6,819.0 643.6,821.9Z"/>
<path fill="#7dba44" fill-rule="evenodd" d="M666.6,770.9 654.6,771.7 643.6,770.9 634.9,768.8 632.6,767.4 631.6,765.8 633.1,763.8 637.6,762.0 643.6,760.7 650.6,760.1 665.6,760.5 671.6,761.5 676.6,763.4 676.6,768.1 672.6,769.7 666.6,770.9ZM633.6,821.8 590.6,822.5 556.6,821.6 538.6,818.9 507.8,816.8 508.3,815.8 511.6,814.8 538.6,813.2 556.6,810.6 573.6,810.1 590.6,809.8 641.6,810.5 676.6,813.5 676.6,818.5 649.6,821.2 633.6,821.8Z"/>
<path fill="#9ac73d" fill-rule="evenodd" d="M659.6,770.8 650.6,770.8 642.6,769.9 636.1,767.8 634.5,765.8 636.0,763.8 639.6,762.4 645.6,761.2 653.6,760.6 667.6,761.6 672.1,762.8 675.4,764.8 675.7,765.8 675.3,766.8 671.8,768.8 666.6,770.1 659.6,770.8ZM620.6,821.8 590.6,822.3 556.6,821.3 538.6,818.6 519.3,816.8 519.7,815.8 522.2,814.8 539.6,813.3 556.6,810.8 573.6,810.3 590.6,809.9 641.6,810.7 676.6,813.8 676.6,818.2 643.6,821.4 620.6,821.8Z"/>
<path fill="#b8d336" fill-rule="evenodd" d="M662.6,769.9 653.6,770.3 645.6,769.6 638.9,767.8 637.0,765.8 638.6,763.9 641.3,762.8 646.6,761.7 653.6,761.2 665.6,762.0 669.6,763.0 672.8,764.8 673.2,765.8 672.7,766.8 671.3,767.8 662.6,769.9ZM607.6,821.8 590.6,822.0 556.6,821.1 533.1,817.8 529.3,816.8 529.5,815.8 530.8,814.8 556.6,811.0 590.6,810.1 642.6,810.9 664.9,812.8 676.6,814.5 676.6,817.7 668.5,818.8 642.6,821.2 607.6,821.8Z"/>
<path fill="#ddde2f" fill-rule="evenodd" d="M664.6,768.9 656.6,769.7 648.6,769.4 641.6,767.8 639.9,766.8 639.4,765.8 640.6,764.3 643.6,763.1 653.6,761.8 664.6,762.6 668.8,763.8 670.4,764.8 670.8,765.8 670.3,766.8 664.6,768.9ZM644.6,820.8 590.6,821.8 556.6,820.8 536.5,817.8 533.5,816.8 533.5,815.8 534.2,814.8 539.0,813.8 556.6,811.2 590.6,810.3 632.7,810.8 650.6,811.6 670.7,813.8 674.6,814.8 675.3,815.8 675.4,816.8 672.9,817.8 644.6,820.8Z"/>
<path fill="#f0d62d" fill-rule="evenodd" d="M660.6,768.8 654.6,769.1 648.6,768.7 644.6,767.8 642.5,766.8 641.8,765.8 642.3,764.8 645.6,763.4 655.6,762.4 664.6,763.4 667.9,764.8 668.4,765.8 667.7,766.8 665.6,767.8 660.6,768.8ZM640.6,820.8 590.6,821.6 556.6,820.6 539.5,817.8 536.7,816.8 536.7,815.8 537.3,814.8 541.1,813.8 556.6,811.4 590.6,810.4 624.9,810.8 650.6,811.8 667.6,813.8 671.0,814.8 671.6,815.8 671.6,816.8 669.6,817.8 653.6,819.9 640.6,820.8Z"/>
<path fill="#f2b82f" fill-rule="evenodd" d="M661.6,767.9 656.6,768.4 650.6,768.2 645.6,766.9 644.4,765.8 645.1,764.8 647.7,763.8 655.6,763.1 662.5,763.8 665.1,764.8 665.8,765.8 664.9,766.8 661.6,767.9ZM631.6,820.8 590.6,821.4 556.6,820.3 541.8,817.8 539.7,816.8 539.7,815.8 540.2,814.8 543.1,813.8 555.6,811.7 590.6,810.6 648.4,811.8 664.5,813.8 667.4,814.8 667.9,815.8 668.0,816.8 666.1,817.8 660.3,818.8 650.6,820.0 631.6,820.8Z"/>
<path fill="#f0982f" fill-rule="evenodd" d="M660.6,767.0 652.6,767.5 648.9,766.8 647.6,765.8 648.6,764.8 650.6,764.3 657.6,764.0 661.6,764.8 662.6,765.8 660.6,767.0ZM622.6,820.8 590.6,821.2 556.6,820.1 544.2,817.8 542.6,816.8 542.6,815.8 543.0,814.8 545.5,813.8 556.6,811.8 590.6,810.8 645.2,811.8 661.4,813.8 663.9,814.8 664.3,815.8 664.3,816.8 662.8,817.8 650.6,819.7 622.6,820.8Z"/>
<path fill="#ee752d" fill-rule="evenodd" d="M656.6,765.8 653.5,765.8 656.6,765.8ZM610.6,820.8 581.8,820.8 556.6,819.8 547.1,817.8 545.7,816.8 545.7,815.8 546.1,814.8 548.2,813.8 556.6,812.2 590.6,811.0 642.6,811.9 653.5,812.8 658.7,813.8 660.5,814.8 660.8,815.8 660.9,816.8 659.7,817.8 650.6,819.4 610.6,820.8Z"/>
<path fill="#ea552b" fill-rule="evenodd" d="M641.6,819.8 602.6,820.7 572.6,820.3 553.3,818.8 550.1,817.8 549.1,816.8 549.1,815.8 549.4,814.8 551.0,813.8 556.6,812.6 590.6,811.2 641.6,812.2 651.3,812.8 656.0,813.8 657.7,814.8 657.9,816.8 657.0,817.8 653.1,818.8 641.6,819.8Z"/>
<path fill="#e63729" fill-rule="evenodd" d="M632.6,819.8 592.6,820.4 567.3,819.8 555.9,818.8 553.1,817.8 552.4,816.8 552.4,815.8 552.6,814.8 553.9,813.8 558.4,812.8 573.6,811.8 602.6,811.5 646.8,812.8 653.4,813.8 654.9,814.8 655.1,815.8 655.1,816.8 654.2,817.8 650.6,818.8 632.6,819.8Z"/>
<path fill="#e32528" fill-rule="evenodd" d="M623.6,819.8 602.6,820.2 572.6,819.8 561.0,818.8 556.6,817.9 555.7,816.8 555.7,815.8 555.9,814.8 557.5,813.8 563.9,812.8 573.6,812.1 602.6,811.7 640.3,812.8 650.6,813.8 652.1,814.8 652.3,815.8 652.3,816.8 650.6,818.0 644.4,818.8 623.6,819.8Z"/>
<path fill="#e12028" fill-rule="evenodd" d="M608.6,819.8 572.6,819.3 562.0,817.8 561.0,816.8 561.0,815.8 561.3,814.8 563.1,813.8 569.3,812.8 602.6,812.0 631.2,812.8 642.3,813.8 645.6,814.8 646.2,815.8 646.2,816.8 644.3,817.8 636.0,818.8 608.6,819.8Z"/>
<path fill="#e01e28" fill-rule="evenodd" d="M625.6,818.8 602.6,819.5 573.6,818.9 567.7,817.8 566.7,816.8 566.8,815.8 567.0,814.8 568.7,813.8 573.6,813.0 602.6,812.4 619.8,812.8 632.8,813.8 635.9,814.8 636.4,815.8 636.5,816.8 634.7,817.8 625.6,818.8Z"/>
<rect x="504.6" y="711.8" width="172.1" height="116.0" stroke="#111" stroke-width="1.1" fill="none"/>
<line x1="504.6" y1="827.8" x2="504.6" y2="830.8" stroke="#111" stroke-width="1.1"/>
<text x="504.6" y="849.0" font-size="16" text-anchor="middle" font-weight="normal" fill="#111" >0</text>
<line x1="539.02" y1="827.8" x2="539.02" y2="830.8" stroke="#111" stroke-width="1.1"/>
<text x="539.02" y="849.0" font-size="16" text-anchor="middle" font-weight="normal" fill="#111" >2</text>
<line x1="573.44" y1="827.8" x2="573.44" y2="830.8" stroke="#111" stroke-width="1.1"/>
<text x="573.44" y="849.0" font-size="16" text-anchor="middle" font-weight="normal" fill="#111" >4</text>
<line x1="607.86" y1="827.8" x2="607.86" y2="830.8" stroke="#111" stroke-width="1.1"/>
<text x="607.86" y="849.0" font-size="16" text-anchor="middle" font-weight="normal" fill="#111" >6</text>
<line x1="642.28" y1="827.8" x2="642.28" y2="830.8" stroke="#111" stroke-width="1.1"/>
<text x="642.28" y="849.0" font-size="16" text-anchor="middle" font-weight="normal" fill="#111" >8</text>
<line x1="676.7" y1="827.8" x2="676.7" y2="830.8" stroke="#111" stroke-width="1.1"/>
<text x="676.7" y="849.0" font-size="16" text-anchor="middle" font-weight="normal" fill="#111" >10</text>
<line x1="501.6" y1="827.8" x2="504.6" y2="827.8" stroke="#111" stroke-width="1.1"/>
<text x="498.6" y="833.0999999999999" font-size="16" text-anchor="end" font-weight="normal" fill="#111" >1</text>
<line x1="501.6" y1="798.8" x2="504.6" y2="798.8" stroke="#111" stroke-width="1.1"/>
<text x="498.6" y="804.0999999999999" font-size="16" text-anchor="end" font-weight="normal" fill="#111" >2</text>
<line x1="501.6" y1="769.8" x2="504.6" y2="769.8" stroke="#111" stroke-width="1.1"/>
<text x="498.6" y="775.0999999999999" font-size="16" text-anchor="end" font-weight="normal" fill="#111" >3</text>
<line x1="501.6" y1="740.8" x2="504.6" y2="740.8" stroke="#111" stroke-width="1.1"/>
<text x="498.6" y="746.0999999999999" font-size="16" text-anchor="end" font-weight="normal" fill="#111" >4</text>
<line x1="501.6" y1="711.8" x2="504.6" y2="711.8" stroke="#111" stroke-width="1.1"/>
<text x="498.6" y="717.0999999999999" font-size="16" text-anchor="end" font-weight="normal" fill="#111" >5</text>
<text x="0" y="0" font-size="16.5" text-anchor="middle" fill="#111" transform="translate(476.20000000000005,782.0) rotate(-90)">R+ΔR (Å)</text>
<text x="589.85" y="865.5999999999999" font-size="16" text-anchor="middle" font-weight="normal" fill="#111" >k (Å<tspan font-size="9.5" dy="-5.5">-1</tspan><tspan dy="5.5">)</tspan></text>
<rect x="41.30" y="888.60" width="172.1" height="116.0" fill="#143c87"/>
<path fill="#14428e" fill-rule="evenodd" d="M213.3,1004.6 41.3,1004.6 41.3,888.6 213.3,888.6 213.4,962.6 213.3,1004.6ZM125.0,963.6 117.3,963.2 110.3,963.6 125.0,963.6Z"/>
<path fill="#154593" fill-rule="evenodd" d="M213.3,1004.6 41.3,1004.6 41.3,888.6 213.3,888.6 213.4,962.6 213.3,1004.6ZM126.9,963.6 117.3,962.8 108.7,963.6 126.9,963.6Z"/>
<path fill="#154997" fill-rule="evenodd" d="M213.3,1004.6 41.3,1004.6 41.3,888.6 213.3,888.6 213.4,962.6 213.3,1004.6ZM128.4,963.6 123.3,962.7 117.3,962.5 112.3,962.7 107.2,963.6 117.3,964.1 128.4,963.6Z"/>
<path fill="#154d9b" fill-rule="evenodd" d="M213.3,1004.6 41.3,1004.6 41.3,888.6 213.3,888.6 213.4,962.6 213.3,1004.6ZM129.8,963.6 124.9,962.6 117.3,962.5 110.8,962.6 105.9,963.6 117.3,964.3 129.8,963.6Z"/>
<path fill="#16519f" fill-rule="evenodd" d="M213.3,1004.6 41.3,1004.6 41.3,888.6 213.3,888.6 213.4,962.6 213.3,1004.6ZM172.2,931.6 178.0,930.6 165.3,929.3 144.3,928.8 123.3,929.4 111.0,930.6 116.4,931.6 127.3,931.8 172.2,931.6ZM131.1,963.6 127.3,962.6 117.3,962.4 108.8,962.6 104.7,963.6 117.3,964.4 131.1,963.6ZM191.7,986.6 165.6,986.6 191.7,986.6Z"/>
<path fill="#1654a2" fill-rule="evenodd" d="M213.3,1004.6 41.3,1004.6 41.3,888.6 213.3,888.6 213.3,929.3 198.3,927.5 176.3,926.2 151.3,925.7 124.3,925.9 99.3,926.9 81.3,928.5 70.1,930.6 68.2,931.6 68.2,932.6 70.1,933.6 75.3,934.6 93.3,932.1 120.3,932.7 161.3,932.8 209.7,931.6 213.3,931.1 213.4,962.6 213.3,1004.6ZM118.0,964.6 132.5,963.6 129.0,962.6 117.3,962.3 107.1,962.6 103.6,963.6 118.0,964.6ZM202.4,987.6 211.4,986.6 178.3,985.6 145.6,986.6 155.1,987.6 202.4,987.6Z"/>
<path fill="#1859a6" fill-rule="evenodd" d="M201.3,898.7 190.3,898.3 183.3,896.4 180.3,894.7 178.0,892.6 177.1,890.6 177.4,888.6 213.3,888.6 213.3,895.9 206.3,898.1 201.3,898.7ZM126.3,922.7 106.3,923.4 87.3,922.2 80.3,921.1 74.3,919.4 71.2,917.6 70.5,915.6 72.7,913.6 76.3,912.1 85.3,910.1 96.3,908.9 110.3,908.5 124.3,908.9 135.3,910.2 144.3,912.3 148.3,914.1 149.7,915.6 148.9,917.6 143.3,920.1 133.3,922.0 126.3,922.7ZM185.3,920.7 180.3,921.4 171.3,921.2 166.3,920.0 163.8,918.6 163.3,917.6 163.7,916.6 166.3,915.0 173.3,913.7 184.3,914.0 188.3,915.1 190.7,916.6 191.1,917.6 190.6,918.6 188.3,920.0 185.3,920.7ZM213.3,1004.6 41.3,1004.6 41.3,987.2 84.3,987.3 88.4,986.6 76.3,984.2 69.3,980.6 41.3,980.0 41.3,946.4 55.3,945.6 58.4,944.6 75.3,936.3 93.3,932.9 149.3,933.4 213.3,932.6 213.4,962.6 213.3,986.0 189.3,985.3 159.3,985.4 127.4,986.6 119.0,987.6 213.3,987.9 213.3,1004.6ZM123.2,964.6 133.8,963.6 130.7,962.6 117.3,962.2 105.6,962.6 102.4,963.6 111.5,964.6 123.2,964.6Z"/>
<path fill="#195daa" fill-rule="evenodd" d="M204.3,896.7 195.3,897.2 187.3,895.8 184.3,894.5 181.8,892.6 180.7,890.6 181.1,888.6 213.3,888.6 213.3,893.1 210.3,895.0 204.3,896.7ZM126.3,921.6 108.3,922.4 91.3,921.4 80.3,918.9 77.9,917.6 77.1,916.6 77.2,915.6 80.3,913.4 88.3,911.4 98.3,910.2 110.3,909.8 121.3,910.1 131.3,911.3 139.3,913.2 142.2,914.6 143.0,915.6 143.1,916.6 142.3,917.6 139.3,919.1 132.3,920.8 126.3,921.6ZM178.3,920.6 170.3,920.0 167.3,918.8 166.4,917.6 167.3,916.4 170.3,915.2 177.3,914.5 184.3,915.3 187.3,916.5 188.0,917.6 187.4,918.6 184.3,919.9 178.3,920.6ZM136.3,985.6 93.3,986.6 76.3,983.0 71.5,980.6 68.3,979.8 41.3,979.1 41.3,947.2 54.4,946.6 58.3,945.5 75.3,937.0 93.3,933.5 150.3,933.8 213.3,933.1 213.4,962.6 213.3,985.4 176.3,984.9 136.3,985.6ZM125.9,964.6 135.1,963.6 132.3,962.6 117.3,962.1 104.2,962.6 101.3,963.6 110.3,964.7 125.9,964.6ZM213.3,995.1 41.3,995.1 41.3,990.6 41.3,988.1 213.3,988.3 213.3,995.1ZM213.3,1004.6 41.3,1004.6 41.3,999.6 41.3,996.0 213.3,996.0 213.3,1004.6Z"/>
<path fill="#1b62ae" fill-rule="evenodd" d="M205.3,895.6 197.3,896.5 189.3,895.4 183.9,892.6 183.1,891.6 182.7,889.6 183.0,888.6 212.6,888.6 213.0,890.6 211.8,892.6 209.3,894.2 205.3,895.6ZM117.3,921.6 103.3,921.6 90.3,920.4 83.3,918.5 81.3,917.4 80.6,916.6 80.6,915.6 83.7,913.6 90.3,911.9 99.3,910.9 110.3,910.5 121.3,910.9 130.3,912.0 136.5,913.6 139.6,915.6 139.6,916.6 138.7,917.6 134.3,919.4 126.3,920.9 117.3,921.6ZM182.3,919.7 173.3,919.9 169.3,918.8 168.1,917.6 168.8,916.6 170.3,916.0 175.3,915.1 181.3,915.3 185.5,916.6 186.3,917.6 185.5,918.6 182.3,919.7ZM117.3,985.6 93.3,986.0 76.3,982.3 69.3,979.5 41.3,978.6 41.3,947.7 56.3,946.6 76.3,937.2 93.3,934.0 149.3,934.3 213.3,933.7 213.4,962.6 213.3,985.1 171.3,984.6 117.3,985.6ZM128.0,964.6 136.4,963.6 134.0,962.6 117.3,962.0 103.3,962.6 100.2,963.6 110.3,964.8 128.0,964.6ZM213.3,994.5 41.3,994.5 41.3,990.6 41.3,988.6 213.3,988.7 213.3,994.5ZM213.3,1004.6 41.3,1004.6 41.3,999.6 41.3,996.6 213.3,996.6 213.3,1004.6Z"/>
<path fill="#1c67b3" fill-rule="evenodd" d="M200.3,895.7 193.3,895.5 188.3,894.1 184.7,891.6 184.3,890.6 184.7,888.6 211.0,888.6 211.3,890.6 209.3,893.1 205.3,894.8 200.3,895.7ZM122.3,920.7 108.3,921.2 95.3,920.4 86.7,918.6 84.5,917.6 83.5,916.6 83.5,915.6 87.0,913.6 92.3,912.3 101.3,911.3 110.3,911.0 119.3,911.3 128.3,912.4 133.2,913.6 136.7,915.6 136.7,916.6 135.7,917.6 133.5,918.6 122.3,920.7ZM179.3,919.6 173.3,919.4 170.6,918.6 169.7,917.6 170.6,916.6 172.3,916.0 177.3,915.5 182.3,916.1 183.8,916.6 184.7,917.6 183.3,918.8 179.3,919.6ZM213.3,984.7 167.3,984.4 93.3,985.4 76.3,981.8 70.3,979.3 41.3,978.3 41.3,948.1 52.3,947.6 57.9,946.6 75.3,938.1 93.3,934.4 149.3,934.7 213.3,934.1 213.3,984.7ZM129.7,964.6 137.7,963.6 135.3,962.6 117.3,961.9 102.3,962.5 99.1,963.6 111.3,964.9 129.7,964.6ZM213.3,994.1 41.3,994.1 41.3,990.6 41.3,989.0 213.3,989.1 213.3,994.1ZM213.3,1004.6 41.3,1004.6 41.3,999.6 41.3,996.9 213.3,996.9 213.3,1004.6Z"/>
<path fill="#1f6fb8" fill-rule="evenodd" d="M202.3,894.8 196.3,895.1 190.3,894.0 186.3,891.6 185.8,889.6 186.3,888.6 209.4,888.6 209.8,890.6 208.3,892.6 202.3,894.8ZM115.3,920.6 104.3,920.6 94.3,919.6 87.3,917.6 86.2,916.6 86.3,915.6 90.1,913.6 94.9,912.6 110.3,911.6 125.3,912.6 130.3,913.7 133.9,915.6 134.0,916.6 132.9,917.6 130.3,918.6 124.3,919.8 115.3,920.6ZM181.3,918.7 175.3,919.1 172.5,918.6 171.3,917.6 172.5,916.6 174.3,916.2 179.3,916.1 181.8,916.6 183.0,917.6 181.3,918.7ZM126.3,984.6 93.3,985.0 76.3,981.3 70.3,979.1 41.3,977.9 41.3,948.5 52.3,947.9 58.3,946.9 75.3,938.5 93.3,934.8 149.3,935.1 213.3,934.6 213.3,984.4 172.3,984.1 126.3,984.6ZM131.3,964.6 138.9,963.6 136.3,962.5 117.3,961.8 102.3,962.4 98.0,963.6 103.9,964.6 111.3,965.0 131.3,964.6ZM213.3,993.7 41.3,993.7 41.3,990.6 41.3,989.4 213.3,989.4 213.3,993.7ZM213.3,1004.6 41.3,1004.6 41.3,999.6 41.3,997.3 213.3,997.3 213.3,1004.6Z"/>
<path fill="#2177be" fill-rule="evenodd" d="M203.3,893.8 197.3,894.5 192.3,893.8 188.3,891.9 187.4,890.6 187.3,889.6 187.9,888.6 207.8,888.6 208.3,890.6 207.7,891.6 203.3,893.8ZM121.3,919.6 110.3,920.2 98.7,919.6 90.2,917.6 88.9,916.6 89.0,915.6 91.3,914.3 96.3,913.1 110.3,912.1 124.3,913.1 129.3,914.4 131.2,915.6 131.3,916.6 130.0,917.6 121.3,919.6ZM178.3,918.6 175.8,918.6 173.3,917.6 175.3,916.7 177.3,916.5 181.0,917.6 178.3,918.6ZM213.3,984.1 168.3,983.8 93.3,984.5 79.3,981.6 70.3,978.8 41.3,977.6 41.3,967.7 41.8,967.6 41.3,967.1 41.3,948.9 52.3,948.2 58.3,947.3 76.3,938.6 93.3,935.3 149.3,935.5 213.3,935.0 213.3,984.1ZM132.9,964.6 140.0,963.6 138.7,962.6 136.3,962.4 117.3,961.7 101.3,962.4 99.0,962.6 96.8,963.6 102.4,964.6 111.3,965.1 132.9,964.6ZM213.3,993.3 41.3,993.3 41.3,991.6 41.3,989.8 213.3,989.8 213.3,993.3ZM213.3,1004.6 41.3,1004.6 41.3,999.6 41.3,997.6 213.3,997.6 213.3,1004.6Z"/>
<path fill="#247fc3" fill-rule="evenodd" d="M200.3,893.7 196.3,893.8 192.3,893.0 189.7,891.6 189.0,889.6 189.6,888.6 206.1,888.6 206.7,890.6 206.0,891.6 204.3,892.6 200.3,893.7ZM114.3,919.6 105.3,919.6 96.6,918.6 93.1,917.6 91.7,916.6 91.7,915.6 93.4,914.6 97.3,913.6 110.3,912.6 123.1,913.6 126.8,914.6 128.5,915.6 128.5,916.6 125.3,918.1 114.3,919.6ZM213.3,983.7 93.3,984.0 79.3,981.1 71.1,978.6 41.3,977.2 41.3,968.1 44.7,967.6 43.8,966.6 41.3,966.2 41.3,958.1 41.8,957.6 41.3,957.5 41.3,949.3 58.3,947.7 76.3,939.1 93.3,935.7 213.3,935.5 213.3,983.7ZM134.5,964.6 141.2,963.6 140.1,962.6 137.3,962.3 117.3,961.6 101.3,962.2 97.6,962.6 95.6,963.6 101.0,964.6 111.3,965.2 134.5,964.6ZM213.3,992.8 41.3,992.8 41.3,991.6 41.3,990.3 213.3,990.3 213.3,992.8ZM213.3,1004.4 41.3,1004.4 41.3,999.6 41.3,997.9 213.3,997.9 213.3,1004.4Z"/>
<path fill="#2586c8" fill-rule="evenodd" d="M201.3,892.7 197.3,893.0 194.0,892.6 191.7,891.6 190.8,890.6 190.7,889.6 191.5,888.6 204.1,888.6 204.9,889.6 204.9,890.6 204.0,891.6 201.3,892.7ZM118.3,918.7 109.3,919.1 101.1,918.6 96.4,917.6 94.6,916.6 94.7,915.6 96.7,914.6 101.3,913.7 110.3,913.2 119.3,913.7 123.5,914.6 125.5,915.6 125.6,916.6 123.8,917.6 118.3,918.7ZM213.3,983.4 93.3,983.6 71.3,978.4 41.3,976.8 41.3,968.5 47.5,967.6 47.0,966.6 41.3,965.8 41.3,959.2 44.9,958.6 45.9,957.6 41.3,956.7 41.3,949.8 58.3,948.1 63.3,946.1 76.3,939.6 93.3,936.2 213.3,935.9 213.3,983.4ZM136.1,964.6 142.3,963.6 141.4,962.6 137.3,962.1 117.3,961.5 100.3,962.2 96.2,962.6 94.4,963.6 100.3,964.7 111.3,965.3 136.1,964.6ZM213.3,992.1 41.3,992.1 41.3,991.6 41.3,991.0 213.3,991.0 213.3,992.1ZM213.3,1004.1 41.3,1004.1 41.3,1000.6 41.3,998.2 213.3,998.2 213.3,1004.1Z"/>
<path fill="#258dce" fill-rule="evenodd" d="M200.3,891.8 197.3,892.1 194.5,891.6 193.0,890.6 193.0,889.6 194.2,888.6 201.4,888.6 202.7,889.6 202.6,890.6 200.3,891.8ZM119.3,917.7 107.3,918.4 100.3,917.6 98.0,916.6 98.1,915.6 100.8,914.6 107.3,913.9 116.3,914.2 122.1,915.6 122.2,916.6 119.3,917.7ZM213.3,983.0 93.3,983.1 71.3,978.1 41.3,976.4 41.3,969.0 50.4,967.6 50.4,966.6 44.5,965.6 41.3,964.7 41.3,964.3 62.6,962.6 41.3,961.0 41.3,960.3 49.0,958.6 49.8,957.6 41.3,956.0 41.3,950.5 59.3,948.3 63.3,946.8 76.3,940.1 93.3,936.6 213.3,936.4 213.3,983.0ZM137.6,964.6 143.3,963.6 142.7,962.6 138.3,962.1 117.3,961.4 99.3,962.1 94.7,962.6 93.0,963.6 99.3,964.7 111.3,965.4 127.3,965.3 137.6,964.6ZM213.3,1003.8 41.3,1003.8 41.3,1000.6 41.3,998.5 213.3,998.5 213.3,1003.8Z"/>
<path fill="#2694d2" fill-rule="evenodd" d="M112.3,917.6 107.2,917.6 102.3,916.6 102.5,915.6 108.3,914.6 113.3,914.8 117.7,915.6 117.9,916.6 112.3,917.6ZM213.3,982.6 93.3,982.6 72.3,978.0 50.3,976.9 41.3,975.9 41.3,969.5 53.6,967.6 54.0,966.6 49.7,965.6 49.5,964.6 63.2,963.6 68.8,962.6 63.5,961.6 49.9,960.6 48.9,959.6 53.0,958.6 53.7,957.6 41.3,954.8 41.3,951.9 45.7,950.6 61.3,948.2 76.3,940.7 93.3,937.1 213.3,936.8 213.3,982.6ZM139.0,964.6 144.4,963.6 143.9,962.6 138.3,961.9 117.3,961.3 98.3,962.0 93.0,962.6 91.2,963.6 98.3,964.8 110.3,965.5 127.3,965.4 139.0,964.6ZM169.3,1003.6 41.3,1003.4 41.3,999.6 41.3,998.8 213.3,998.8 213.3,1003.4 169.3,1003.6Z"/>
<path fill="#229ed8" fill-rule="evenodd" d="M213.3,982.1 93.3,982.1 72.3,977.7 51.3,976.7 42.9,975.6 41.3,975.2 41.3,970.2 56.8,967.6 57.6,966.6 54.8,965.6 57.3,964.7 69.3,963.6 73.2,962.6 54.3,959.6 56.9,958.6 57.5,957.6 45.2,954.6 44.4,953.6 44.9,952.6 46.3,951.6 63.3,948.2 76.3,941.3 92.3,937.7 213.3,937.3 213.3,982.1ZM121.3,965.6 137.3,964.9 145.5,963.6 145.1,962.6 139.3,961.8 117.3,961.2 97.3,961.9 90.6,962.6 89.0,963.6 102.3,965.3 121.3,965.6ZM213.3,1003.1 41.3,1003.1 41.3,1000.6 41.3,999.2 213.3,999.2 213.3,1003.1Z"/>
<path fill="#1ca8de" fill-rule="evenodd" d="M213.3,981.7 93.3,981.5 72.3,977.4 54.8,976.6 46.2,975.6 42.6,974.6 41.4,973.6 41.3,972.5 41.5,971.6 43.1,970.6 60.4,967.6 61.3,966.6 59.6,965.6 74.2,963.6 77.5,962.6 59.3,959.6 60.8,958.6 61.2,957.6 49.8,954.6 49.0,953.6 49.3,952.6 50.6,951.6 67.0,947.6 76.3,942.0 90.4,938.6 93.3,938.1 213.3,937.8 213.3,981.7ZM126.8,965.6 139.3,964.8 146.5,963.6 146.2,962.6 139.3,961.6 117.3,961.1 96.3,961.8 86.9,962.6 86.0,963.6 103.3,965.4 126.8,965.6ZM213.3,1002.7 127.3,1003.1 41.3,1002.7 41.3,1000.6 41.3,999.5 127.3,999.2 213.3,999.5 213.3,1002.7Z"/>
<path fill="#1fb0d8" fill-rule="evenodd" d="M213.3,981.1 93.3,980.9 73.3,977.2 49.6,975.6 45.8,974.6 44.5,973.6 44.4,972.6 44.6,971.6 46.3,970.6 64.1,967.6 65.0,966.6 64.2,965.6 76.3,963.9 82.3,963.8 100.3,965.4 117.3,965.9 137.3,965.2 147.5,963.6 147.3,962.6 143.3,961.9 127.3,961.0 108.3,961.1 79.3,962.2 63.8,959.6 64.9,957.6 54.2,954.6 53.4,953.6 53.6,952.6 54.8,951.6 68.3,948.0 76.9,942.6 92.3,938.8 213.3,938.4 213.3,981.1ZM156.3,1002.6 41.3,1002.1 41.3,1000.6 41.3,1000.1 127.3,999.5 213.3,1000.1 213.3,1002.1 156.3,1002.6Z"/>
<path fill="#36b1b7" fill-rule="evenodd" d="M213.3,980.5 93.3,980.3 84.3,978.4 73.3,976.9 53.4,975.6 48.9,974.6 47.6,973.6 47.4,972.6 47.7,971.6 49.4,970.6 67.8,967.6 68.4,965.6 76.3,964.4 82.3,964.2 104.3,965.8 119.3,966.1 138.3,965.2 148.4,963.6 148.3,962.6 145.3,961.9 134.3,961.1 113.3,960.9 87.3,961.9 79.3,961.6 67.9,959.6 68.4,957.6 58.6,954.6 57.7,953.6 57.9,952.6 58.8,951.6 69.6,948.6 75.3,944.5 79.3,942.6 92.3,939.4 213.3,939.0 213.3,980.5ZM199.3,1001.6 127.3,1002.2 54.6,1001.6 57.0,1000.6 127.3,1000.0 197.6,1000.6 200.0,1001.6 199.3,1001.6Z"/>
<path fill="#4cb291" fill-rule="evenodd" d="M213.3,979.8 93.3,979.5 82.3,977.6 57.3,975.6 52.4,974.6 50.8,973.6 50.6,972.6 50.9,971.6 52.9,970.6 70.3,967.8 71.1,967.6 72.2,965.6 78.3,964.8 106.3,966.1 122.3,966.2 140.3,965.2 149.4,963.6 149.3,962.6 147.3,962.1 137.3,961.1 111.3,960.8 88.3,961.5 79.3,961.1 71.2,959.6 71.5,957.6 62.8,954.6 61.9,953.6 62.8,951.6 72.3,948.6 79.3,943.7 92.3,940.2 213.3,939.7 213.3,979.8Z"/>
<path fill="#5eb05f" fill-rule="evenodd" d="M213.3,979.0 93.3,978.8 83.3,977.2 58.3,975.0 54.4,973.6 54.2,972.6 54.5,971.6 56.2,970.6 71.3,968.4 74.3,967.6 76.2,965.6 79.3,965.2 107.3,966.3 127.3,966.2 143.3,965.0 150.4,963.6 150.4,962.6 147.3,961.8 137.3,960.9 112.3,960.7 89.3,961.2 79.3,960.7 74.5,959.6 74.5,957.6 66.9,954.6 66.1,953.6 66.8,951.6 75.1,948.6 79.3,945.3 92.3,941.0 213.3,940.5 213.3,979.0Z"/>
<path fill="#65b14f" fill-rule="evenodd" d="M213.3,978.1 144.3,978.5 93.3,978.0 62.1,974.6 58.3,973.8 57.7,972.6 57.9,971.6 60.5,970.6 74.0,968.6 77.6,967.6 79.3,966.2 82.3,965.7 107.3,966.5 127.3,966.4 144.3,965.1 151.5,963.6 151.6,962.6 148.3,961.8 138.3,960.8 83.2,960.6 77.6,959.6 77.6,957.6 70.6,954.6 69.8,953.6 70.4,951.6 72.3,950.6 78.1,948.6 85.2,944.6 92.3,942.1 213.3,941.4 213.3,978.1Z"/>
<path fill="#67b14d" fill-rule="evenodd" d="M175.3,977.6 144.3,978.1 93.3,977.3 68.9,974.6 65.2,973.6 64.0,972.6 63.8,971.6 66.4,970.6 82.4,967.6 85.3,966.5 127.3,966.6 145.3,965.1 152.5,963.6 152.7,962.6 150.3,961.9 140.3,960.7 86.3,960.3 81.4,959.6 81.1,958.6 81.7,957.6 76.2,955.6 74.1,954.6 73.4,953.6 74.0,951.6 75.7,950.6 85.2,947.6 89.8,944.6 93.3,943.3 213.3,942.6 213.3,977.1 175.3,977.6Z"/>
<path fill="#69b24c" fill-rule="evenodd" d="M148.3,977.6 93.3,976.8 73.7,974.6 70.7,973.6 69.7,972.6 69.5,971.6 71.6,970.6 92.3,966.9 109.3,967.3 127.3,967.0 146.3,965.2 153.6,963.6 153.7,962.6 150.3,961.6 138.3,960.4 93.3,960.3 87.3,959.8 86.2,959.6 86.0,958.6 87.1,957.6 79.3,955.5 77.6,954.6 77.0,953.6 77.4,951.6 79.2,950.6 88.1,948.6 93.3,945.7 213.3,944.5 213.3,976.1 148.3,977.6Z"/>
<path fill="#6bb34a" fill-rule="evenodd" d="M175.3,976.6 144.3,977.4 93.3,976.1 78.8,974.6 75.5,973.6 74.6,972.6 74.5,971.6 79.3,970.0 93.3,968.1 127.3,967.5 147.3,965.2 154.6,963.6 154.8,962.6 151.7,961.6 139.3,960.3 91.3,959.6 91.1,958.6 92.6,957.6 82.1,954.6 81.1,953.6 81.8,951.6 92.3,948.9 144.3,947.7 213.3,948.6 213.3,975.2 175.3,976.6Z"/>
<path fill="#6db449" fill-rule="evenodd" d="M161.3,976.6 127.3,976.9 93.3,975.5 82.1,973.6 80.6,972.6 80.3,971.6 83.4,970.6 93.3,969.2 127.3,968.0 150.3,965.0 155.6,963.6 155.8,962.6 153.1,961.6 144.3,960.4 118.3,959.5 107.3,958.6 119.2,957.6 93.3,956.2 87.3,954.6 86.2,953.6 86.9,951.6 92.3,950.0 144.3,948.3 213.3,950.3 213.3,974.3 161.3,976.6Z"/>
<path fill="#7dba44" fill-rule="evenodd" d="M149.3,976.6 127.3,976.5 94.9,974.6 90.1,973.6 88.8,972.6 88.6,971.6 92.3,970.4 128.3,968.4 153.3,964.7 156.6,963.6 156.8,962.6 154.3,961.6 147.3,960.5 130.3,959.2 128.1,958.6 128.8,957.6 127.3,957.1 93.3,954.8 91.4,953.6 91.4,952.6 92.1,951.6 93.3,951.3 99.5,950.6 130.3,949.0 144.3,948.8 196.3,950.2 213.3,951.3 213.3,973.5 196.3,974.7 149.3,976.6Z"/>
<path fill="#9ac73d" fill-rule="evenodd" d="M165.3,975.6 144.3,976.4 127.3,976.2 103.6,973.6 101.1,972.6 101.2,971.6 131.6,968.6 134.7,967.6 154.9,964.6 157.6,963.6 157.8,962.6 152.3,960.9 131.6,958.6 131.4,957.6 129.0,956.6 106.5,954.6 103.1,953.6 102.9,952.6 105.2,951.6 115.0,950.6 130.3,949.4 144.3,949.2 196.3,950.8 213.3,952.0 213.3,972.9 165.3,975.6Z"/>
<path fill="#b8d336" fill-rule="evenodd" d="M155.3,975.6 144.3,976.1 127.3,975.8 120.7,974.6 118.6,973.6 117.1,972.6 117.5,971.6 120.2,970.6 133.3,968.9 142.9,966.6 154.3,965.0 158.6,963.6 158.8,962.6 156.9,961.6 153.3,960.8 136.0,958.6 132.4,956.6 118.9,954.6 115.7,953.6 115.6,952.6 118.0,951.6 124.3,950.4 144.3,949.5 196.3,951.3 213.3,952.7 213.3,972.3 196.3,973.7 155.3,975.6Z"/>
<path fill="#ddde2f" fill-rule="evenodd" d="M147.3,975.6 127.3,975.3 123.9,974.6 122.1,973.6 121.7,972.6 121.8,971.6 123.7,970.6 134.3,969.4 139.9,967.6 155.3,965.1 159.6,963.6 159.8,962.6 156.3,961.1 139.6,958.6 134.3,956.3 123.9,954.6 122.3,953.6 122.2,952.6 123.3,951.6 127.8,950.6 144.3,949.9 196.3,951.8 213.3,953.4 213.3,971.6 196.3,973.3 147.3,975.6Z"/>
<path fill="#f0d62d" fill-rule="evenodd" d="M152.3,974.6 144.3,975.2 127.3,974.7 125.1,973.6 125.0,971.6 127.0,970.6 137.3,969.7 142.2,967.6 158.5,964.6 160.6,963.6 160.8,962.6 157.3,961.0 142.4,958.6 136.3,955.9 128.5,954.6 126.7,953.6 126.7,952.6 127.8,951.6 130.3,951.1 144.3,950.4 196.3,952.2 213.3,954.1 213.3,970.9 196.3,972.8 152.3,974.6Z"/>
<path fill="#f2b82f" fill-rule="evenodd" d="M144.3,974.7 131.7,973.6 129.6,972.6 131.1,971.6 139.3,970.2 144.5,967.6 159.3,964.7 161.7,963.6 162.0,962.6 157.3,960.7 145.1,958.6 137.3,955.0 131.5,953.6 131.3,952.6 135.1,951.6 144.3,951.0 196.3,952.7 206.2,953.6 213.3,954.9 213.3,970.1 205.1,971.6 196.3,972.4 154.3,973.5 144.3,974.7Z"/>
<path fill="#f0982f" fill-rule="evenodd" d="M179.3,972.6 162.3,972.9 151.3,972.5 144.3,973.1 143.1,972.6 141.6,971.6 141.9,970.6 144.5,968.6 146.9,967.6 160.3,964.8 163.0,963.6 163.3,962.6 158.3,960.5 147.6,958.6 144.6,957.6 140.4,954.6 140.8,953.6 144.3,952.0 151.3,952.5 179.3,952.4 201.6,953.6 208.4,954.6 213.3,956.0 213.3,969.1 207.7,970.6 200.2,971.6 179.3,972.6Z"/>
<path fill="#ee752d" fill-rule="evenodd" d="M193.3,971.6 162.3,972.3 149.3,971.3 145.7,970.6 146.2,969.6 149.2,967.6 162.4,964.6 164.4,963.6 164.6,962.6 163.2,961.6 159.3,960.3 150.0,958.6 147.2,957.6 143.9,955.6 143.6,954.6 145.3,953.8 162.3,952.7 195.3,953.5 207.3,955.2 211.5,956.6 213.3,957.9 213.3,967.2 212.9,967.6 209.3,969.3 205.3,970.3 193.3,971.6Z"/>
<path fill="#ea552b" fill-rule="evenodd" d="M182.3,971.6 161.3,971.7 152.7,970.6 150.3,969.8 150.3,968.6 152.4,967.6 164.1,964.6 165.9,963.6 166.1,962.6 163.3,961.0 149.8,957.6 148.0,955.6 149.7,954.6 162.3,953.3 179.3,953.3 195.3,954.0 205.7,955.6 208.3,956.6 210.8,958.6 211.4,960.6 211.2,965.6 209.7,967.6 208.0,968.6 205.2,969.6 198.3,970.7 182.3,971.6Z"/>
<path fill="#e63729" fill-rule="evenodd" d="M192.3,970.6 179.3,971.3 162.3,971.1 154.9,969.6 154.2,968.6 155.6,967.6 165.9,964.6 167.5,963.6 167.8,962.6 165.3,961.1 156.3,958.6 153.5,957.6 152.3,956.6 153.3,955.4 161.3,954.0 179.3,953.8 197.3,954.8 205.2,956.6 207.8,958.6 208.4,960.6 208.4,964.6 207.7,966.6 206.7,967.6 201.1,969.6 192.3,970.6Z"/>
<path fill="#e32528" fill-rule="evenodd" d="M181.3,970.6 162.3,970.3 159.2,969.6 157.9,968.6 158.7,967.6 167.9,964.6 169.4,963.6 169.6,962.6 166.3,960.6 159.1,958.6 157.0,957.6 156.4,956.6 157.6,955.6 162.2,954.6 184.7,954.6 197.6,955.6 203.5,957.6 205.2,959.6 205.2,965.6 203.3,967.6 196.3,969.7 181.3,970.6Z"/>
<path fill="#e12028" fill-rule="evenodd" d="M186.3,969.6 177.3,970.0 168.1,969.6 161.6,968.6 161.9,967.6 170.3,964.6 171.5,963.6 171.7,962.6 168.9,960.6 161.3,958.2 160.3,957.6 160.3,956.6 163.2,955.6 179.3,955.0 196.3,956.3 200.9,958.6 201.7,960.6 201.8,963.6 200.8,966.6 196.3,968.7 186.3,969.6Z"/>
<path fill="#e01e28" fill-rule="evenodd" d="M186.3,968.6 178.3,969.2 171.5,968.6 168.4,967.6 169.3,966.6 173.1,964.6 174.1,963.6 174.3,962.6 173.3,961.4 167.4,958.6 166.4,957.6 169.3,956.6 179.3,955.8 194.8,957.6 197.0,958.6 197.9,960.6 197.9,963.6 196.9,966.6 194.0,967.6 186.3,968.6Z"/>
<rect x="41.3" y="888.6" width="172.1" height="116.0" stroke="#111" stroke-width="1.1" fill="none"/>
<line x1="41.3" y1="1004.6" x2="41.3" y2="1007.6" stroke="#111" stroke-width="1.1"/>
<text x="41.3" y="1025.8" font-size="16" text-anchor="middle" font-weight="normal" fill="#111" >0</text>
<line x1="75.72" y1="1004.6" x2="75.72" y2="1007.6" stroke="#111" stroke-width="1.1"/>
<text x="75.72" y="1025.8" font-size="16" text-anchor="middle" font-weight="normal" fill="#111" >2</text>
<line x1="110.14" y1="1004.6" x2="110.14" y2="1007.6" stroke="#111" stroke-width="1.1"/>
<text x="110.14" y="1025.8" font-size="16" text-anchor="middle" font-weight="normal" fill="#111" >4</text>
<line x1="144.56" y1="1004.6" x2="144.56" y2="1007.6" stroke="#111" stroke-width="1.1"/>
<text x="144.56" y="1025.8" font-size="16" text-anchor="middle" font-weight="normal" fill="#111" >6</text>
<line x1="178.98000000000002" y1="1004.6" x2="178.98000000000002" y2="1007.6" stroke="#111" stroke-width="1.1"/>
<text x="178.98000000000002" y="1025.8" font-size="16" text-anchor="middle" font-weight="normal" fill="#111" >8</text>
<line x1="213.39999999999998" y1="1004.6" x2="213.39999999999998" y2="1007.6" stroke="#111" stroke-width="1.1"/>
<text x="213.39999999999998" y="1025.8" font-size="16" text-anchor="middle" font-weight="normal" fill="#111" >10</text>
<line x1="38.3" y1="1004.6" x2="41.3" y2="1004.6" stroke="#111" stroke-width="1.1"/>
<text x="35.3" y="1009.9" font-size="16" text-anchor="end" font-weight="normal" fill="#111" >1</text>
<line x1="38.3" y1="975.6" x2="41.3" y2="975.6" stroke="#111" stroke-width="1.1"/>
<text x="35.3" y="980.9" font-size="16" text-anchor="end" font-weight="normal" fill="#111" >2</text>
<line x1="38.3" y1="946.6" x2="41.3" y2="946.6" stroke="#111" stroke-width="1.1"/>
<text x="35.3" y="951.9" font-size="16" text-anchor="end" font-weight="normal" fill="#111" >3</text>
<line x1="38.3" y1="917.6" x2="41.3" y2="917.6" stroke="#111" stroke-width="1.1"/>
<text x="35.3" y="922.9" font-size="16" text-anchor="end" font-weight="normal" fill="#111" >4</text>
<line x1="38.3" y1="888.6" x2="41.3" y2="888.6" stroke="#111" stroke-width="1.1"/>
<text x="35.3" y="893.9" font-size="16" text-anchor="end" font-weight="normal" fill="#111" >5</text>
<text x="0" y="0" font-size="16.5" text-anchor="middle" fill="#111" transform="translate(13.799999999999997,958.8000000000001) rotate(-90)">R+ΔR (Å)</text>
<text x="126.55" y="1042.4" font-size="16" text-anchor="middle" font-weight="normal" fill="#111" >k (Å<tspan font-size="9.5" dy="-5.5">-1</tspan><tspan dy="5.5">)</tspan></text>
<rect x="273.20" y="888.60" width="172.1" height="116.0" fill="#143c87"/>
<path fill="#14428e" fill-rule="evenodd" d="M445.2,1004.6 273.2,1004.6 273.2,888.6 445.2,888.6 445.3,965.6 445.2,1004.6Z"/>
<path fill="#154593" fill-rule="evenodd" d="M445.2,1004.6 273.2,1004.6 273.2,888.6 445.2,888.6 445.3,965.6 445.2,1004.6Z"/>
<path fill="#154997" fill-rule="evenodd" d="M445.2,1004.6 273.2,1004.6 273.2,888.6 445.2,888.6 445.3,965.6 445.2,1004.6Z"/>
<path fill="#154d9b" fill-rule="evenodd" d="M445.2,1004.6 273.2,1004.6 273.2,888.6 445.2,888.6 445.3,965.6 445.2,1004.6Z"/>
<path fill="#16519f" fill-rule="evenodd" d="M445.2,1004.6 273.2,1004.6 273.2,888.6 445.2,888.6 445.3,965.6 445.2,1004.6ZM386.6,995.6 398.5,994.6 392.6,993.6 359.2,992.9 325.8,993.6 319.9,994.6 331.8,995.6 344.2,995.9 386.6,995.6Z"/>
<path fill="#1654a2" fill-rule="evenodd" d="M445.2,991.3 406.2,990.1 359.2,989.7 312.2,990.1 273.2,991.3 273.2,938.5 290.6,937.6 330.0,933.6 339.5,932.6 340.5,931.6 295.2,926.7 273.2,925.7 273.2,888.6 445.2,888.6 445.2,991.3ZM445.2,1004.6 273.2,1004.6 273.2,997.6 313.2,998.8 359.2,999.2 405.2,998.8 445.2,997.6 445.2,1004.6Z"/>
<path fill="#1859a6" fill-rule="evenodd" d="M445.2,985.1 314.2,985.0 273.2,982.9 273.2,957.5 300.1,953.6 299.0,952.6 289.9,950.6 273.2,948.6 273.2,942.0 287.2,940.9 307.2,937.9 334.2,935.0 387.2,932.7 387.3,931.6 347.2,930.0 317.2,927.0 295.2,923.4 273.2,922.1 273.2,888.6 445.2,888.6 445.2,985.1Z"/>
<path fill="#195daa" fill-rule="evenodd" d="M445.2,983.4 314.2,983.3 280.2,981.2 273.2,980.0 273.2,960.9 284.2,958.0 300.2,955.0 309.2,954.0 319.9,953.6 302.2,951.3 293.2,948.6 289.1,946.6 288.6,945.6 289.1,944.6 290.6,943.6 300.0,940.6 309.2,938.9 333.2,935.9 387.2,933.7 388.6,932.6 388.6,931.6 387.2,930.5 349.2,929.1 336.2,927.4 320.2,926.1 311.2,924.3 304.2,921.6 302.9,920.6 301.9,918.6 302.7,915.6 317.5,888.6 445.2,888.6 445.2,983.4Z"/>
<path fill="#1b62ae" fill-rule="evenodd" d="M445.2,982.6 314.2,982.6 287.2,980.9 279.1,979.6 276.6,978.6 275.7,977.6 273.8,970.6 273.2,970.1 273.2,965.7 273.9,965.6 277.3,961.6 279.4,960.6 288.2,958.1 299.2,956.0 312.2,954.7 357.5,953.6 357.2,953.0 348.9,952.6 320.2,952.1 309.2,951.4 300.9,949.6 296.5,947.6 295.4,946.6 295.5,945.6 297.4,943.6 303.2,941.2 313.2,939.2 336.2,936.3 387.2,934.3 388.7,933.6 389.3,931.6 388.7,930.6 387.2,929.9 347.2,928.2 337.1,926.6 320.2,925.0 315.2,923.9 312.1,922.6 310.4,920.6 310.9,917.6 326.8,888.6 445.2,888.6 445.2,982.6Z"/>
<path fill="#1c67b3" fill-rule="evenodd" d="M445.2,982.2 317.2,982.2 294.2,980.9 286.2,980.0 280.9,978.6 279.8,977.6 277.3,972.6 277.0,970.6 276.1,969.6 273.2,969.4 273.2,965.9 277.0,965.6 280.2,961.6 283.2,960.2 291.2,958.0 301.2,956.2 316.2,955.1 357.2,954.4 358.5,953.6 358.3,952.6 357.2,952.2 310.2,950.8 303.2,949.3 299.8,947.6 298.9,946.6 301.4,943.6 307.2,941.2 318.2,939.1 333.2,937.1 387.2,934.8 389.4,933.6 389.8,932.6 389.4,930.6 387.2,929.4 349.2,927.8 337.2,925.8 323.2,924.5 316.5,922.6 314.9,920.6 315.5,917.6 331.4,888.6 445.2,888.6 445.2,982.2ZM408.9,902.6 410.4,901.6 409.2,900.5 406.2,900.4 404.3,901.6 405.8,902.6 408.9,902.6Z"/>
<path fill="#1f6fb8" fill-rule="evenodd" d="M445.2,981.9 321.2,981.9 300.2,981.1 290.2,980.0 284.0,978.6 282.0,976.6 279.5,972.6 278.4,969.6 273.2,969.2 273.2,966.2 279.0,965.6 282.2,961.6 285.2,960.2 299.2,957.0 313.2,955.8 357.2,954.9 358.2,954.7 359.0,953.6 358.9,952.6 357.2,951.6 322.2,951.0 310.2,950.2 303.8,948.6 301.4,946.6 304.5,943.6 310.2,941.3 321.2,939.1 331.2,937.8 387.2,935.2 389.0,934.6 389.9,933.6 390.3,932.6 389.9,930.6 389.0,929.6 387.2,929.0 349.2,927.3 338.2,925.2 324.0,923.6 320.7,922.6 319.2,921.6 318.7,919.6 319.8,916.6 335.1,888.6 445.2,888.6 445.2,981.9ZM411.1,902.6 411.9,901.6 411.4,900.6 408.3,899.6 404.2,900.2 402.8,901.6 403.6,902.6 406.2,903.3 411.1,902.6Z"/>
<path fill="#2177be" fill-rule="evenodd" d="M445.2,981.6 321.2,981.5 302.2,981.0 293.2,980.0 286.4,978.6 284.9,977.6 281.9,973.6 280.2,969.6 273.2,969.0 273.2,966.5 280.6,965.6 283.8,961.6 285.8,960.6 293.2,958.5 300.2,957.2 315.2,956.1 357.2,955.3 358.9,954.6 359.4,953.6 358.6,951.6 357.2,951.2 312.2,949.9 305.9,948.6 303.4,946.6 307.0,943.6 313.2,941.3 323.2,939.2 333.2,938.0 387.2,935.6 389.6,934.6 390.4,933.6 390.7,931.6 389.6,929.6 388.2,928.8 350.2,927.0 339.2,924.5 327.2,923.0 323.4,921.6 322.5,919.6 323.2,917.2 338.5,888.6 445.2,888.6 445.2,981.6ZM410.1,903.6 412.5,902.6 413.1,901.6 412.7,900.6 410.2,899.3 407.2,899.0 404.2,899.4 402.0,900.6 401.6,901.6 402.2,902.6 404.7,903.6 410.1,903.6Z"/>
<path fill="#247fc3" fill-rule="evenodd" d="M445.2,981.3 321.2,981.3 303.2,980.8 288.3,978.6 286.7,977.6 283.4,973.6 281.7,969.6 273.2,968.8 273.2,966.8 282.0,965.6 285.2,961.6 287.2,960.6 298.2,957.9 314.2,956.5 357.2,955.7 359.2,954.9 359.8,953.6 359.2,951.6 357.2,950.8 315.2,949.8 308.0,948.6 305.9,947.6 305.1,946.6 309.1,943.6 315.2,941.3 323.2,939.6 333.2,938.3 387.2,936.0 390.1,934.6 391.0,932.6 390.8,930.6 390.1,929.6 388.2,928.4 350.2,926.5 345.4,925.6 340.2,923.7 330.2,921.9 327.5,920.6 327.1,918.6 327.8,916.6 338.0,897.6 341.8,888.6 445.2,888.6 445.2,981.3ZM411.9,903.6 413.6,902.6 414.2,901.6 413.9,900.6 412.2,899.4 409.4,898.6 406.2,898.5 403.2,899.1 401.2,900.3 400.5,901.6 401.2,902.7 404.2,904.0 408.2,904.3 411.9,903.6Z"/>
<path fill="#2586c8" fill-rule="evenodd" d="M445.2,981.1 321.2,981.1 302.2,980.4 290.0,978.6 288.2,977.6 284.7,973.6 283.0,969.6 273.2,968.7 273.2,967.1 279.2,966.6 283.2,965.6 286.5,961.6 288.2,960.8 299.2,958.1 313.2,956.9 357.2,956.0 359.2,955.4 360.2,953.6 359.6,951.6 358.2,950.6 316.2,949.4 309.2,948.3 306.6,946.6 310.7,943.6 317.2,941.3 325.7,939.6 334.7,938.6 387.2,936.3 390.2,935.0 391.4,932.6 391.2,930.8 390.2,929.2 388.2,928.0 350.2,926.1 345.2,924.7 341.2,922.2 336.0,920.6 334.4,919.6 333.9,918.6 334.1,916.6 336.0,911.6 341.9,900.6 343.6,894.6 344.7,888.6 445.2,888.6 445.2,981.1ZM409.3,904.6 414.2,903.0 415.2,901.6 414.9,900.6 412.2,898.7 407.2,897.9 402.9,898.6 399.8,900.6 399.5,901.6 400.0,902.6 401.5,903.6 405.2,904.6 409.3,904.6Z"/>
<path fill="#258dce" fill-rule="evenodd" d="M445.2,980.9 322.2,980.8 303.2,980.3 291.5,978.6 289.2,977.3 285.9,973.6 284.2,969.6 273.2,968.2 273.2,967.3 283.2,966.1 284.4,965.6 286.7,962.6 289.2,960.9 300.2,958.3 314.2,957.2 357.2,956.4 359.2,955.8 360.3,954.6 360.2,951.8 358.2,950.2 318.2,949.1 311.2,948.2 308.0,946.6 312.2,943.6 318.2,941.4 335.2,939.0 387.2,936.6 390.2,935.5 391.5,933.6 391.5,930.6 390.2,928.7 388.2,927.7 354.2,926.2 349.2,925.5 346.7,924.6 345.5,923.6 345.1,922.6 345.4,920.6 343.3,917.6 341.8,911.6 346.8,902.6 346.9,888.6 445.2,888.6 445.2,980.9ZM411.7,904.6 414.5,903.6 416.1,901.6 415.1,899.6 412.2,898.1 408.2,897.3 404.2,897.6 401.2,898.6 398.8,900.6 399.0,902.6 402.2,904.4 407.2,905.1 411.7,904.6Z"/>
<path fill="#2694d2" fill-rule="evenodd" d="M445.2,980.6 322.2,980.6 303.2,980.1 294.2,978.9 290.9,977.6 286.3,972.6 285.3,969.6 273.2,967.6 283.2,966.6 285.6,965.6 289.2,961.5 293.2,960.0 300.2,958.6 314.2,957.5 357.2,956.7 359.2,956.2 360.6,954.6 360.5,951.6 358.2,949.8 319.2,948.8 313.2,948.0 309.5,946.6 312.2,944.3 319.2,941.6 338.2,939.2 387.2,936.9 390.5,935.6 391.8,933.6 391.8,930.6 390.5,928.6 388.2,927.4 355.2,925.9 349.2,924.9 347.2,923.6 347.0,922.6 348.3,920.6 346.7,917.6 344.6,911.6 349.6,902.6 348.7,888.6 445.2,888.6 445.2,980.6ZM413.3,904.6 416.7,902.6 416.9,900.6 414.9,898.6 411.2,897.1 407.2,896.7 403.2,897.2 399.8,898.6 397.8,900.6 398.2,902.7 402.2,904.8 408.2,905.4 413.3,904.6Z"/>
<path fill="#229ed8" fill-rule="evenodd" d="M445.2,980.4 322.2,980.4 303.2,979.9 294.2,978.6 292.2,977.7 287.4,972.6 286.4,969.6 278.3,967.6 285.2,966.4 286.7,965.6 290.1,961.6 299.2,959.1 313.2,957.9 357.2,957.1 359.2,956.6 361.0,954.6 360.9,951.6 360.2,950.6 358.2,949.5 322.2,948.5 314.2,947.6 311.7,946.6 311.8,945.6 312.9,944.6 317.2,942.9 329.1,940.6 338.4,939.6 387.2,937.3 389.2,936.8 391.0,935.6 392.2,933.6 392.2,930.6 391.0,928.6 388.2,927.1 356.2,925.6 350.3,924.6 348.8,923.6 348.6,922.6 350.1,920.6 346.4,911.6 351.4,902.6 350.1,888.6 445.2,888.6 445.2,980.4ZM410.6,905.6 416.2,903.9 418.0,901.6 417.2,899.6 413.2,896.9 408.2,895.9 403.2,896.3 399.2,898.1 396.9,900.6 397.1,902.6 400.2,904.7 405.2,905.7 410.6,905.6Z"/>
<path fill="#1ca8de" fill-rule="evenodd" d="M445.2,980.2 322.2,980.2 303.2,979.6 295.7,978.6 293.3,977.6 288.5,972.6 287.6,969.6 282.1,967.6 285.2,966.9 287.8,965.6 291.3,961.6 299.2,959.4 313.2,958.2 357.2,957.4 359.8,956.6 361.3,954.6 361.2,951.5 360.2,950.1 358.2,949.1 323.2,948.1 317.7,947.6 314.3,946.6 314.7,945.6 317.2,944.3 334.9,940.6 387.2,937.6 389.2,937.2 391.4,935.6 392.5,933.6 392.5,930.6 391.4,928.6 389.2,927.0 358.2,925.4 352.4,924.6 350.4,923.6 350.1,922.6 351.6,920.6 347.9,911.6 352.9,902.6 351.5,888.6 445.2,888.6 445.2,980.2ZM413.0,905.6 417.2,903.9 418.9,901.6 418.3,899.6 417.2,898.3 414.2,896.1 412.2,895.4 407.2,894.9 402.2,895.5 398.2,897.7 395.9,900.6 396.1,902.6 397.0,903.6 400.2,905.2 406.2,906.2 413.0,905.6Z"/>
<path fill="#1fb0d8" fill-rule="evenodd" d="M445.2,980.0 305.6,979.6 297.2,978.6 294.6,977.6 289.6,972.6 288.7,969.6 284.6,967.6 288.9,965.6 292.7,961.6 300.3,959.6 312.2,958.6 359.2,957.3 361.2,955.6 361.9,952.6 360.2,949.6 358.2,948.7 325.2,947.7 317.9,946.6 318.4,945.6 322.2,944.5 343.7,942.6 340.2,941.6 345.7,940.6 388.2,937.8 390.2,937.1 391.9,935.6 392.9,933.6 392.9,930.6 391.2,927.9 389.2,926.7 359.2,925.1 354.9,924.6 352.0,923.6 351.6,922.6 353.0,920.6 349.3,911.6 354.3,902.6 352.8,888.6 445.2,888.6 445.2,980.0ZM414.8,905.6 418.8,903.6 419.6,902.6 419.9,900.6 416.4,895.6 413.2,894.1 406.2,893.5 400.2,894.5 397.2,896.8 394.8,900.6 395.1,902.6 395.9,903.6 401.2,905.9 408.2,906.6 414.8,905.6Z"/>
<path fill="#36b1b7" fill-rule="evenodd" d="M445.2,979.7 322.2,979.7 305.2,979.3 298.9,978.6 296.0,977.6 290.8,972.6 289.9,969.6 286.5,967.6 290.1,965.6 294.1,961.6 303.1,959.6 359.2,957.7 361.7,955.6 362.2,952.6 360.8,949.6 358.2,948.1 324.3,946.6 325.0,945.6 331.2,944.9 367.2,943.7 367.8,942.6 367.2,941.9 364.0,941.6 362.3,940.6 367.2,940.2 373.2,938.9 388.2,938.2 390.2,937.5 392.2,935.8 393.2,933.6 393.2,930.6 391.4,927.6 389.2,926.3 358.3,924.6 354.0,923.6 353.2,922.7 354.4,920.6 350.7,911.6 355.7,902.6 355.1,890.6 354.2,889.6 354.2,888.6 396.8,888.6 395.2,889.6 393.9,891.6 395.1,896.6 393.7,900.6 394.0,902.6 396.1,904.6 399.2,905.9 407.2,907.0 412.2,906.6 416.2,905.7 418.6,904.6 420.7,902.6 421.0,900.6 419.7,896.6 420.8,891.6 420.2,890.3 417.9,888.6 445.2,888.6 445.2,979.7Z"/>
<path fill="#4cb291" fill-rule="evenodd" d="M445.2,979.5 323.2,979.5 305.2,979.0 300.2,978.4 295.9,976.6 292.2,972.6 291.2,969.6 288.2,967.6 291.5,965.6 293.2,963.5 295.8,961.6 302.2,960.2 313.2,959.3 359.2,958.2 361.5,956.6 362.7,953.6 362.0,950.6 360.2,948.4 357.2,947.1 344.9,946.6 351.3,945.6 367.2,944.6 368.7,943.6 369.1,940.6 371.0,939.6 388.2,938.6 390.2,937.9 392.0,936.6 393.7,933.6 393.7,930.6 392.0,927.6 389.2,925.8 362.2,924.5 356.4,923.6 354.9,922.6 355.9,920.6 352.1,911.6 356.8,903.6 357.2,897.9 359.2,895.9 363.2,894.9 371.2,894.4 382.2,894.5 389.2,895.2 392.2,896.5 393.0,897.6 392.5,901.6 393.6,903.6 394.8,904.6 401.2,906.9 408.2,907.5 415.2,906.5 419.9,904.6 421.9,902.6 422.2,900.6 421.7,897.6 423.2,896.0 427.2,894.9 437.2,894.3 438.2,894.6 438.1,904.6 439.0,914.6 441.2,917.1 445.2,917.9 445.2,979.5Z"/>
<path fill="#5eb05f" fill-rule="evenodd" d="M445.2,979.1 323.2,979.1 304.2,978.6 299.3,977.6 297.5,976.6 293.7,972.6 292.7,969.6 289.9,967.6 293.0,965.6 296.2,962.5 302.4,960.6 316.2,959.7 359.2,958.6 362.0,956.6 363.1,953.6 362.6,950.6 360.4,946.6 363.2,945.7 368.2,945.1 369.6,943.6 370.6,940.6 372.2,940.0 388.2,939.1 392.2,937.1 393.8,934.6 394.1,930.6 392.6,927.6 390.2,925.8 387.2,925.0 362.2,923.9 357.1,922.6 356.9,921.6 357.6,920.6 353.6,911.6 358.4,903.6 358.7,899.6 360.2,897.5 364.2,896.3 370.2,895.8 382.2,895.8 388.2,896.5 390.6,897.6 391.2,898.6 391.5,902.6 394.2,905.2 400.2,907.3 408.2,908.0 414.2,907.4 419.2,905.9 421.4,904.6 423.2,902.6 423.5,898.6 424.2,897.5 427.2,896.4 434.2,895.7 435.2,895.9 435.8,896.6 435.6,903.6 436.1,913.6 436.8,916.6 439.2,919.2 445.2,920.1 445.2,979.1Z"/>
<path fill="#65b14f" fill-rule="evenodd" d="M445.2,978.8 309.1,978.6 302.2,977.7 299.5,976.6 295.4,972.6 294.5,969.6 291.6,967.6 298.2,962.6 300.8,961.6 305.2,960.9 359.2,959.3 361.9,957.6 363.6,954.6 363.5,951.6 362.2,947.6 363.7,946.6 368.2,946.0 369.2,945.4 371.1,941.6 372.2,940.7 388.2,939.6 390.2,939.1 392.4,937.6 394.4,934.6 394.7,930.6 393.2,927.5 390.2,925.1 387.2,924.5 365.2,923.6 360.1,922.6 359.2,921.6 359.6,920.6 357.3,916.6 355.5,911.6 360.2,903.6 361.0,899.6 362.2,898.4 365.2,897.4 371.2,896.9 380.2,896.8 386.2,897.4 388.9,898.6 390.6,903.6 394.2,906.2 400.2,908.0 408.2,908.6 415.2,907.8 421.2,905.9 424.2,903.6 425.8,898.6 427.5,897.6 432.2,896.9 433.8,897.6 433.5,902.6 434.3,913.6 435.4,918.6 438.2,920.9 445.2,921.8 445.2,978.8Z"/>
<path fill="#67b14d" fill-rule="evenodd" d="M445.2,978.4 309.2,978.0 305.3,977.6 301.2,976.0 297.7,972.6 296.7,969.6 293.6,967.6 300.2,963.2 306.1,961.6 359.2,960.0 362.2,958.3 364.0,955.6 364.4,953.6 363.8,948.6 364.2,948.0 369.2,946.6 370.4,945.6 372.8,941.6 376.2,940.8 389.2,940.1 393.2,937.8 395.1,934.6 395.4,930.6 394.1,927.6 391.2,924.8 388.2,923.9 366.2,922.7 362.5,921.6 362.4,920.6 359.7,916.6 357.8,911.6 362.6,903.6 363.3,900.6 365.2,899.0 368.2,898.3 374.2,897.8 381.2,897.9 385.2,898.6 386.8,899.6 388.0,902.6 389.5,904.6 393.2,906.8 400.2,908.8 408.2,909.3 417.2,908.3 423.2,906.1 425.7,904.6 427.6,902.6 427.8,899.6 429.3,898.6 431.2,898.4 430.7,901.6 432.1,907.6 432.8,916.6 433.8,919.6 435.2,921.3 437.2,922.4 445.2,923.4 445.2,978.4Z"/>
<path fill="#69b24c" fill-rule="evenodd" d="M445.2,977.7 313.2,977.4 306.9,976.6 304.5,975.6 301.3,972.6 300.1,969.6 297.2,968.6 296.1,967.6 304.6,963.6 309.3,962.6 359.2,961.1 362.3,959.6 364.8,956.6 365.8,949.6 370.2,947.4 374.1,942.6 377.2,941.9 389.2,941.3 393.2,939.3 395.9,935.6 396.6,931.6 395.4,927.6 393.2,924.9 389.2,922.9 373.2,922.0 368.2,921.1 364.6,918.6 361.6,912.6 361.4,911.6 368.1,900.6 371.2,899.6 379.2,899.3 381.5,899.6 383.7,900.6 386.5,904.6 390.2,907.1 395.2,909.0 400.2,910.0 406.2,910.4 413.2,910.1 419.2,909.1 426.2,907.0 428.2,906.9 429.6,908.6 430.7,917.6 432.4,921.6 434.2,923.3 437.2,924.6 445.2,925.4 445.2,977.7Z"/>
<path fill="#6bb34a" fill-rule="evenodd" d="M421.2,976.6 393.2,977.2 363.2,975.6 321.2,975.1 316.6,974.6 314.0,973.6 312.8,972.6 312.0,970.6 301.2,968.6 299.7,967.6 308.2,965.9 321.2,964.9 352.2,963.9 358.9,962.6 364.3,960.6 367.2,958.6 369.9,952.6 377.2,945.9 390.2,944.5 395.2,942.1 398.2,938.6 399.8,934.6 399.9,930.6 398.8,926.6 396.2,923.0 392.2,920.3 388.2,919.2 380.2,918.4 377.2,917.6 375.2,916.4 373.2,913.8 372.4,911.6 375.2,907.8 378.2,906.8 390.2,911.2 399.2,912.9 408.2,913.3 422.9,912.6 424.2,914.1 424.9,918.6 426.1,921.6 428.3,924.6 431.2,927.2 434.2,929.0 437.2,930.0 445.2,930.6 445.2,975.6 421.2,976.6Z"/>
<path fill="#6db449" fill-rule="evenodd" d="M416.2,975.6 394.2,976.4 383.2,975.8 367.2,974.4 351.4,970.6 312.2,968.8 306.2,967.6 316.2,966.5 352.2,964.8 369.2,960.1 394.2,956.6 417.2,956.3 445.2,960.1 445.2,972.0 416.2,975.6Z"/>
<path fill="#7dba44" fill-rule="evenodd" d="M395.2,975.6 368.2,973.9 352.2,970.4 323.2,968.6 318.6,967.6 352.2,965.2 368.2,961.0 394.2,957.4 411.2,957.0 419.2,957.4 445.2,961.5 445.2,970.5 419.2,974.6 395.2,975.6Z"/>
<path fill="#9ac73d" fill-rule="evenodd" d="M405.2,974.6 393.2,975.1 368.2,973.4 352.2,970.1 345.2,969.1 335.2,968.6 330.9,967.6 352.2,965.5 369.2,961.4 394.2,958.0 411.2,957.7 419.2,958.0 445.2,962.9 445.2,969.2 420.2,973.9 405.2,974.6Z"/>
<path fill="#b8d336" fill-rule="evenodd" d="M394.2,974.6 368.2,973.0 341.3,967.6 352.2,965.8 368.2,961.9 383.2,959.7 394.2,958.6 410.2,958.2 417.2,958.4 425.2,959.5 441.8,963.6 444.1,964.6 445.0,965.6 444.9,966.6 443.9,967.6 441.4,968.6 424.2,972.7 414.2,973.9 394.2,974.6Z"/>
<path fill="#ddde2f" fill-rule="evenodd" d="M406.2,973.6 393.2,974.2 368.2,972.6 347.4,968.6 346.5,967.6 348.6,966.6 368.2,962.3 383.2,960.1 393.2,959.0 410.2,958.6 418.2,959.0 425.2,960.1 436.2,963.6 438.4,964.6 439.2,965.6 439.2,966.6 438.2,967.6 425.2,972.0 415.2,973.3 406.2,973.6Z"/>
<path fill="#f0d62d" fill-rule="evenodd" d="M397.2,973.6 383.2,973.5 368.2,972.3 355.2,970.0 349.2,968.6 348.3,967.6 350.5,966.6 368.2,962.7 394.2,959.4 414.2,959.1 420.2,959.8 425.2,960.7 430.2,962.4 432.3,963.6 434.0,965.6 433.9,966.6 432.1,968.6 424.2,971.6 414.2,973.0 397.2,973.6Z"/>
<path fill="#f2b82f" fill-rule="evenodd" d="M409.2,972.6 393.2,973.4 368.2,971.9 355.2,969.8 350.9,968.6 350.0,967.6 356.0,965.6 368.2,963.0 383.2,960.8 394.2,959.8 411.2,959.5 419.2,960.1 426.2,961.6 428.7,962.6 431.2,964.6 431.1,967.6 428.4,969.6 425.8,970.6 418.2,972.1 409.2,972.6Z"/>
<path fill="#f0982f" fill-rule="evenodd" d="M400.2,972.6 383.2,972.7 368.2,971.6 355.6,969.6 352.4,968.6 351.6,967.6 355.2,966.1 368.2,963.4 383.2,961.2 394.2,960.3 411.2,959.9 419.0,960.6 426.8,962.6 428.4,963.6 429.6,965.6 429.2,967.6 428.2,968.6 423.5,970.6 414.2,972.1 400.2,972.6Z"/>
<path fill="#ee752d" fill-rule="evenodd" d="M414.2,971.6 393.2,972.5 383.2,972.4 368.2,971.2 357.4,969.6 353.8,968.6 353.1,967.6 355.2,966.5 369.2,963.6 383.2,961.5 394.2,960.7 414.2,960.4 424.2,962.4 427.5,964.6 427.7,966.6 427.4,967.6 425.2,969.3 414.2,971.6Z"/>
<path fill="#ea552b" fill-rule="evenodd" d="M403.2,971.6 393.2,972.1 378.2,971.6 360.1,969.6 355.2,968.6 354.6,967.6 356.2,966.6 372.0,963.6 383.2,961.9 394.2,961.1 414.2,960.9 424.2,963.3 425.7,964.6 426.0,965.6 425.2,968.0 421.8,969.6 414.2,971.1 403.2,971.6Z"/>
<path fill="#e63729" fill-rule="evenodd" d="M393.2,971.6 383.2,971.6 371.7,970.6 358.3,968.6 356.9,967.6 364.1,965.6 374.8,963.6 383.2,962.3 394.2,961.6 414.2,961.5 422.0,963.6 424.0,965.6 423.4,967.6 421.7,968.6 414.2,970.6 393.2,971.6Z"/>
<path fill="#e32528" fill-rule="evenodd" d="M402.2,970.6 383.2,971.1 368.1,969.6 363.5,968.6 362.3,967.6 363.7,966.6 372.0,964.6 383.2,962.8 393.2,962.2 414.2,962.1 419.2,963.6 421.2,965.6 420.5,967.6 415.9,969.6 402.2,970.6Z"/>
<path fill="#e12028" fill-rule="evenodd" d="M389.2,970.6 383.2,970.7 373.7,969.6 368.8,968.6 367.5,967.6 368.2,966.6 375.5,964.6 383.2,963.3 393.2,962.7 414.2,962.9 417.2,964.2 418.4,965.6 417.7,967.6 414.2,969.2 389.2,970.6Z"/>
<path fill="#e01e28" fill-rule="evenodd" d="M395.2,969.6 383.2,970.1 374.4,968.6 372.8,967.6 373.1,966.6 375.3,965.6 384.2,963.8 410.2,963.7 414.2,964.1 415.6,965.6 415.6,966.6 414.2,968.0 395.2,969.6Z"/>
<rect x="273.2" y="888.6" width="172.1" height="116.0" stroke="#111" stroke-width="1.1" fill="none"/>
<line x1="273.2" y1="1004.6" x2="273.2" y2="1007.6" stroke="#111" stroke-width="1.1"/>
<text x="273.2" y="1025.8" font-size="16" text-anchor="middle" font-weight="normal" fill="#111" >0</text>
<line x1="307.62" y1="1004.6" x2="307.62" y2="1007.6" stroke="#111" stroke-width="1.1"/>
<text x="307.62" y="1025.8" font-size="16" text-anchor="middle" font-weight="normal" fill="#111" >2</text>
<line x1="342.03999999999996" y1="1004.6" x2="342.03999999999996" y2="1007.6" stroke="#111" stroke-width="1.1"/>
<text x="342.03999999999996" y="1025.8" font-size="16" text-anchor="middle" font-weight="normal" fill="#111" >4</text>
<line x1="376.46" y1="1004.6" x2="376.46" y2="1007.6" stroke="#111" stroke-width="1.1"/>
<text x="376.46" y="1025.8" font-size="16" text-anchor="middle" font-weight="normal" fill="#111" >6</text>
<line x1="410.88" y1="1004.6" x2="410.88" y2="1007.6" stroke="#111" stroke-width="1.1"/>
<text x="410.88" y="1025.8" font-size="16" text-anchor="middle" font-weight="normal" fill="#111" >8</text>
<line x1="445.29999999999995" y1="1004.6" x2="445.29999999999995" y2="1007.6" stroke="#111" stroke-width="1.1"/>
<text x="445.29999999999995" y="1025.8" font-size="16" text-anchor="middle" font-weight="normal" fill="#111" >10</text>
<line x1="270.2" y1="1004.6" x2="273.2" y2="1004.6" stroke="#111" stroke-width="1.1"/>
<text x="267.2" y="1009.9" font-size="16" text-anchor="end" font-weight="normal" fill="#111" >1</text>
<line x1="270.2" y1="975.6" x2="273.2" y2="975.6" stroke="#111" stroke-width="1.1"/>
<text x="267.2" y="980.9" font-size="16" text-anchor="end" font-weight="normal" fill="#111" >2</text>
<line x1="270.2" y1="946.6" x2="273.2" y2="946.6" stroke="#111" stroke-width="1.1"/>
<text x="267.2" y="951.9" font-size="16" text-anchor="end" font-weight="normal" fill="#111" >3</text>
<line x1="270.2" y1="917.6" x2="273.2" y2="917.6" stroke="#111" stroke-width="1.1"/>
<text x="267.2" y="922.9" font-size="16" text-anchor="end" font-weight="normal" fill="#111" >4</text>
<line x1="270.2" y1="888.6" x2="273.2" y2="888.6" stroke="#111" stroke-width="1.1"/>
<text x="267.2" y="893.9" font-size="16" text-anchor="end" font-weight="normal" fill="#111" >5</text>
<text x="0" y="0" font-size="16.5" text-anchor="middle" fill="#111" transform="translate(243.5,958.8000000000001) rotate(-90)">R+ΔR (Å)</text>
<text x="358.45" y="1042.4" font-size="16" text-anchor="middle" font-weight="normal" fill="#111" >k (Å<tspan font-size="9.5" dy="-5.5">-1</tspan><tspan dy="5.5">)</tspan></text>
<rect x="504.60" y="888.60" width="172.1" height="116.0" fill="#143c87"/>
<path fill="#14428e" fill-rule="evenodd" d="M676.6,1004.6 504.6,1004.6 504.6,1004.6 504.6,990.6 504.6,888.6 676.6,888.6 676.7,990.6 676.6,1004.6Z"/>
<path fill="#154593" fill-rule="evenodd" d="M676.6,1004.6 504.6,1004.6 504.6,1004.6 504.6,990.6 504.6,888.6 676.6,888.6 676.7,990.6 676.6,1004.6Z"/>
<path fill="#154997" fill-rule="evenodd" d="M676.6,1004.6 504.6,1004.6 504.6,990.6 504.6,888.6 676.6,888.6 676.7,990.6 676.6,1004.6Z"/>
<path fill="#154d9b" fill-rule="evenodd" d="M676.6,1004.6 504.6,1004.6 504.6,888.6 676.6,888.6 676.7,990.6 676.6,1004.6Z"/>
<path fill="#16519f" fill-rule="evenodd" d="M676.6,1004.6 504.6,1004.6 504.6,888.6 676.6,888.6 676.7,990.6 676.6,1004.6Z"/>
<path fill="#1654a2" fill-rule="evenodd" d="M676.6,1004.6 504.6,1004.6 504.6,888.6 676.6,888.6 676.7,990.6 676.6,1004.6Z"/>
<path fill="#1859a6" fill-rule="evenodd" d="M676.6,1004.6 504.6,1004.6 504.6,888.6 676.6,888.6 676.6,1004.6Z"/>
<path fill="#195daa" fill-rule="evenodd" d="M587.6,936.6 566.6,936.5 551.6,935.1 538.6,932.1 535.5,930.6 534.1,928.6 535.5,926.6 537.4,925.6 546.6,923.0 561.6,921.0 578.6,920.4 595.6,921.0 610.6,923.0 619.7,925.6 621.6,926.6 623.0,928.6 621.6,930.6 619.8,931.6 611.6,934.1 598.6,935.9 587.6,936.6ZM676.6,963.2 581.6,963.0 566.6,962.0 560.6,960.7 559.3,959.6 561.6,958.3 567.6,957.2 584.6,956.3 676.6,956.1 676.6,963.2ZM676.6,1004.6 504.6,1004.6 504.6,981.8 676.6,971.4 676.6,1004.6Z"/>
<path fill="#1b62ae" fill-rule="evenodd" d="M596.6,934.6 576.6,935.5 557.6,934.4 544.6,931.9 541.5,930.6 539.8,928.6 540.2,927.6 542.6,926.1 550.6,923.9 564.6,922.2 578.6,921.8 592.6,922.2 606.6,923.9 614.6,926.2 616.9,927.6 617.3,928.6 615.6,930.6 611.6,932.2 596.6,934.6ZM676.6,962.5 582.6,962.3 570.6,961.7 564.9,960.6 563.5,959.6 565.2,958.6 571.6,957.4 584.6,956.9 676.6,956.8 676.6,962.5ZM676.6,1004.6 504.6,1004.6 504.6,982.8 676.6,972.4 676.6,1004.6Z"/>
<path fill="#1c67b3" fill-rule="evenodd" d="M582.6,934.6 567.6,934.4 555.6,933.2 546.6,931.0 544.1,929.6 543.6,928.6 544.1,927.6 546.6,926.2 554.6,924.2 565.6,923.0 578.6,922.6 591.6,923.0 602.6,924.2 610.6,926.2 613.0,927.6 613.5,928.6 613.0,929.6 611.6,930.6 603.6,932.8 593.6,934.1 582.6,934.6ZM676.6,962.1 590.6,962.1 573.6,961.5 568.5,960.6 567.0,959.6 568.9,958.6 573.6,957.8 590.6,957.2 676.6,957.2 676.6,962.1ZM676.6,1004.6 504.6,1004.6 504.6,983.5 676.6,973.0 676.6,1004.6Z"/>
<path fill="#1f6fb8" fill-rule="evenodd" d="M590.6,933.7 575.6,934.1 560.6,933.1 550.6,931.2 547.3,929.6 546.8,928.6 547.4,927.6 549.1,926.6 556.6,924.7 567.6,923.5 578.6,923.2 589.6,923.5 600.6,924.7 608.0,926.6 609.7,927.6 610.3,928.6 608.6,930.3 605.1,931.6 590.6,933.7ZM676.6,961.7 590.6,961.7 573.6,960.9 570.1,959.6 573.6,958.4 590.6,957.6 676.6,957.6 676.6,961.7ZM676.6,1004.6 504.6,1004.6 504.6,983.9 676.6,973.5 676.6,1004.6Z"/>
<path fill="#2177be" fill-rule="evenodd" d="M594.6,932.7 579.6,933.5 564.6,932.9 553.6,931.0 550.3,929.6 549.7,928.6 550.4,927.6 552.3,926.6 558.6,925.1 567.6,924.1 578.6,923.7 589.6,924.1 598.6,925.1 604.8,926.6 606.8,927.6 607.4,928.6 606.8,929.6 604.6,930.7 594.6,932.7ZM676.6,961.3 590.6,961.3 578.2,960.6 573.2,959.6 579.5,958.6 590.6,958.0 676.6,958.0 676.6,961.3ZM676.6,1004.6 504.6,1004.6 504.6,984.2 676.6,973.8 676.6,1004.6Z"/>
<path fill="#247fc3" fill-rule="evenodd" d="M589.6,932.6 576.6,933.0 564.6,932.3 555.3,930.6 553.2,929.6 552.6,928.6 553.3,927.6 555.4,926.6 559.6,925.6 568.6,924.5 578.6,924.2 588.6,924.5 597.5,925.6 601.7,926.6 603.9,927.6 604.6,928.6 603.9,929.6 600.6,930.9 589.6,932.6ZM676.6,960.8 590.6,960.8 581.5,959.6 590.6,958.5 676.6,958.5 676.6,960.8ZM676.6,1004.6 504.6,1004.6 504.6,984.6 676.6,974.1 676.6,1004.6Z"/>
<path fill="#2586c8" fill-rule="evenodd" d="M593.6,931.6 581.6,932.5 568.6,932.2 558.5,930.6 556.1,929.6 555.4,928.6 556.2,927.6 557.6,927.0 562.6,925.8 578.6,924.7 594.6,925.8 599.6,927.0 601.8,928.6 601.0,929.6 598.6,930.6 593.6,931.6ZM676.6,959.7 590.2,959.6 676.6,959.7ZM676.6,1004.6 504.6,1004.6 504.6,984.9 676.6,974.4 676.6,1004.6Z"/>
<path fill="#258dce" fill-rule="evenodd" d="M588.6,931.6 578.6,932.0 568.4,931.6 562.0,930.6 559.1,929.6 558.3,928.6 559.2,927.6 564.6,926.2 578.6,925.2 592.6,926.2 597.9,927.6 598.9,928.6 598.0,929.6 595.2,930.6 588.6,931.6ZM676.6,1004.6 504.6,1004.6 504.6,985.2 676.6,974.7 676.6,1004.6Z"/>
<path fill="#2694d2" fill-rule="evenodd" d="M590.6,930.7 581.6,931.5 572.6,931.3 565.6,930.5 562.4,929.6 561.4,928.6 562.4,927.6 566.2,926.6 578.6,925.7 590.9,926.6 594.7,927.6 595.8,928.6 594.8,929.6 590.6,930.7ZM676.6,1004.6 504.6,1004.6 504.6,985.5 676.6,975.0 676.6,1004.6Z"/>
<path fill="#229ed8" fill-rule="evenodd" d="M585.6,930.6 571.4,930.6 566.1,929.6 564.8,928.6 566.2,927.6 569.6,926.9 578.6,926.3 587.6,926.9 590.9,927.6 592.3,928.6 591.0,929.6 585.6,930.6ZM676.6,1004.6 504.6,1004.6 504.6,985.7 676.6,975.3 676.6,1004.6Z"/>
<path fill="#1ca8de" fill-rule="evenodd" d="M585.6,929.6 575.6,930.0 571.2,929.6 569.2,928.6 571.4,927.6 578.6,927.1 585.7,927.6 587.9,928.6 585.6,929.6ZM676.6,1004.6 504.6,1004.6 504.6,986.0 676.6,975.6 676.6,1004.6ZM674.0,1002.6 673.3,1001.6 671.6,1001.4 669.6,1001.6 668.9,1002.6 671.6,1003.1 674.0,1002.6Z"/>
<path fill="#1fb0d8" fill-rule="evenodd" d="M676.6,1004.6 504.6,1004.6 504.6,986.3 676.6,975.9 676.6,1002.3 676.4,1001.6 674.6,1000.9 670.6,1000.5 666.6,1001.6 666.2,1002.6 667.8,1003.6 671.6,1004.0 675.0,1003.6 676.6,1002.7 676.6,1004.6Z"/>
<path fill="#36b1b7" fill-rule="evenodd" d="M668.6,1004.6 504.6,1004.6 504.6,986.6 676.6,976.2 676.6,1000.6 669.6,999.9 666.2,1000.6 664.5,1001.6 664.2,1002.6 665.3,1003.6 669.2,1004.6 668.6,1004.6ZM676.6,1004.6 673.7,1004.6 676.6,1004.0 676.6,1004.6Z"/>
<path fill="#4cb291" fill-rule="evenodd" d="M664.6,1004.6 504.6,1004.6 504.6,987.0 676.6,976.5 676.6,999.8 670.6,999.2 664.6,1000.3 662.6,1001.6 662.4,1002.6 663.3,1003.6 665.6,1004.6 664.6,1004.6Z"/>
<path fill="#5eb05f" fill-rule="evenodd" d="M662.6,1004.6 504.6,1004.6 504.6,987.4 676.6,977.0 676.6,999.0 669.6,998.7 663.6,999.8 660.8,1001.6 660.6,1002.6 663.0,1004.6 662.6,1004.6Z"/>
<path fill="#65b14f" fill-rule="evenodd" d="M659.6,1004.6 504.6,1004.6 504.6,987.9 556.6,984.3 676.6,977.5 676.6,998.3 668.6,998.0 661.6,999.5 658.7,1001.6 659.1,1003.6 660.5,1004.6 659.6,1004.6Z"/>
<path fill="#67b14d" fill-rule="evenodd" d="M657.6,1004.6 504.6,1004.6 504.6,988.4 538.6,986.4 556.6,984.6 609.6,982.3 676.6,978.2 676.6,997.3 667.6,997.2 659.6,998.9 657.6,1000.0 656.1,1001.6 656.5,1003.6 657.6,1004.6Z"/>
<path fill="#69b24c" fill-rule="evenodd" d="M652.6,1004.6 504.6,1004.6 504.6,988.8 539.6,986.8 556.6,984.8 627.6,982.5 676.6,979.5 676.6,995.9 665.6,995.9 656.6,997.9 652.5,1000.6 651.9,1002.6 653.1,1004.6 652.6,1004.6Z"/>
<path fill="#6bb34a" fill-rule="evenodd" d="M619.6,997.6 590.6,998.2 556.6,997.3 539.9,994.6 504.6,992.7 504.6,989.2 538.6,987.2 556.6,985.1 590.6,983.9 641.6,984.1 676.6,987.6 676.6,993.6 675.6,993.8 642.6,997.3 619.6,997.6Z"/>
<path fill="#6db449" fill-rule="evenodd" d="M638.6,996.6 590.6,997.4 556.6,996.5 538.6,994.1 504.6,991.9 504.6,989.8 538.6,987.6 556.6,985.3 590.6,984.2 642.6,984.8 676.6,988.0 676.6,993.3 638.6,996.6Z"/>
<path fill="#7dba44" fill-rule="evenodd" d="M617.6,996.6 590.6,997.0 556.6,996.1 538.6,993.7 508.9,991.6 507.1,990.6 512.2,989.6 538.6,987.8 556.6,985.6 590.6,984.5 641.6,985.1 676.6,988.4 676.6,992.9 642.6,996.2 617.6,996.6Z"/>
<path fill="#9ac73d" fill-rule="evenodd" d="M593.6,996.6 556.6,995.7 539.6,993.5 516.1,991.6 514.3,990.6 518.3,989.6 539.6,988.0 556.6,985.8 590.6,984.8 641.6,985.4 676.6,988.8 676.6,992.6 652.6,995.0 639.6,996.0 593.6,996.6Z"/>
<path fill="#b8d336" fill-rule="evenodd" d="M641.6,995.6 590.6,996.4 556.6,995.4 522.3,991.6 520.8,990.6 523.7,989.6 556.6,986.0 590.6,985.0 642.6,985.8 676.6,989.2 676.6,992.1 641.6,995.6Z"/>
<path fill="#ddde2f" fill-rule="evenodd" d="M633.6,995.6 590.6,996.1 556.6,995.2 526.9,991.6 525.7,990.6 528.0,989.6 556.6,986.3 590.6,985.3 642.6,986.0 676.6,989.6 676.6,991.7 670.8,992.6 647.6,994.9 633.6,995.6Z"/>
<path fill="#f0d62d" fill-rule="evenodd" d="M617.6,995.6 590.6,995.9 556.6,994.9 531.2,991.6 530.1,990.6 532.2,989.6 556.6,986.5 590.6,985.5 642.6,986.3 666.9,988.6 673.6,989.6 675.4,990.6 674.2,991.6 668.1,992.6 652.6,994.3 641.6,995.1 617.6,995.6Z"/>
<path fill="#f2b82f" fill-rule="evenodd" d="M602.6,995.6 556.6,994.6 535.4,991.6 534.3,990.6 536.2,989.6 556.6,986.8 590.6,985.7 642.6,986.5 664.1,988.6 670.3,989.6 671.8,990.6 670.8,991.6 665.3,992.6 642.6,994.8 602.6,995.6Z"/>
<path fill="#f0982f" fill-rule="evenodd" d="M641.6,994.6 602.6,995.4 572.6,995.0 555.6,994.2 539.3,991.6 538.4,990.6 540.0,989.6 556.6,987.1 590.6,986.0 641.6,986.7 661.4,988.6 667.1,989.6 668.3,990.6 667.5,991.6 662.5,992.6 641.6,994.6Z"/>
<path fill="#ee752d" fill-rule="evenodd" d="M635.6,994.6 590.6,995.1 568.5,994.6 553.5,993.6 543.1,991.6 542.3,990.6 543.6,989.6 556.6,987.4 590.6,986.2 642.6,987.1 658.6,988.6 663.7,989.6 664.9,990.6 664.1,991.6 659.6,992.6 635.6,994.6Z"/>
<path fill="#ea552b" fill-rule="evenodd" d="M621.6,994.6 590.6,994.9 556.6,993.6 546.9,991.6 546.3,990.6 547.2,989.6 551.2,988.6 558.5,987.6 573.6,986.9 602.6,986.5 642.6,987.4 655.7,988.6 660.4,989.6 661.3,990.6 660.7,991.6 656.7,992.6 647.9,993.6 621.6,994.6Z"/>
<path fill="#e63729" fill-rule="evenodd" d="M604.6,994.6 562.0,993.6 553.5,992.6 550.6,991.6 550.2,990.6 550.9,989.6 554.3,988.6 564.7,987.6 602.6,986.8 641.7,987.6 652.8,988.6 657.0,989.6 657.9,990.6 657.3,991.6 653.7,992.6 643.8,993.6 604.6,994.6Z"/>
<path fill="#e32528" fill-rule="evenodd" d="M637.6,993.6 602.6,994.3 573.6,993.9 557.3,992.6 554.4,991.6 554.0,990.6 554.6,989.6 558.7,988.6 570.9,987.6 602.6,987.1 634.7,987.6 647.9,988.6 653.7,989.6 654.4,990.6 654.0,991.6 649.3,992.6 637.6,993.6Z"/>
<path fill="#e12028" fill-rule="evenodd" d="M624.6,993.6 602.6,994.0 573.6,993.5 563.8,992.6 559.6,991.6 559.1,990.6 559.9,989.6 565.1,988.6 573.6,987.9 602.6,987.4 641.6,988.6 648.1,989.6 649.4,990.6 648.6,991.6 643.5,992.6 624.6,993.6Z"/>
<path fill="#e01e28" fill-rule="evenodd" d="M603.6,993.6 573.6,992.9 566.1,991.6 565.6,990.6 566.5,989.6 572.6,988.5 602.6,987.8 635.2,988.6 641.2,989.6 642.2,990.6 641.6,991.6 636.7,992.6 603.6,993.6Z"/>
<rect x="504.6" y="888.6" width="172.1" height="116.0" stroke="#111" stroke-width="1.1" fill="none"/>
<line x1="504.6" y1="1004.6" x2="504.6" y2="1007.6" stroke="#111" stroke-width="1.1"/>
<text x="504.6" y="1025.8" font-size="16" text-anchor="middle" font-weight="normal" fill="#111" >0</text>
<line x1="539.02" y1="1004.6" x2="539.02" y2="1007.6" stroke="#111" stroke-width="1.1"/>
<text x="539.02" y="1025.8" font-size="16" text-anchor="middle" font-weight="normal" fill="#111" >2</text>
<line x1="573.44" y1="1004.6" x2="573.44" y2="1007.6" stroke="#111" stroke-width="1.1"/>
<text x="573.44" y="1025.8" font-size="16" text-anchor="middle" font-weight="normal" fill="#111" >4</text>
<line x1="607.86" y1="1004.6" x2="607.86" y2="1007.6" stroke="#111" stroke-width="1.1"/>
<text x="607.86" y="1025.8" font-size="16" text-anchor="middle" font-weight="normal" fill="#111" >6</text>
<line x1="642.28" y1="1004.6" x2="642.28" y2="1007.6" stroke="#111" stroke-width="1.1"/>
<text x="642.28" y="1025.8" font-size="16" text-anchor="middle" font-weight="normal" fill="#111" >8</text>
<line x1="676.7" y1="1004.6" x2="676.7" y2="1007.6" stroke="#111" stroke-width="1.1"/>
<text x="676.7" y="1025.8" font-size="16" text-anchor="middle" font-weight="normal" fill="#111" >10</text>
<line x1="501.6" y1="1004.6" x2="504.6" y2="1004.6" stroke="#111" stroke-width="1.1"/>
<text x="498.6" y="1009.9" font-size="16" text-anchor="end" font-weight="normal" fill="#111" >1</text>
<line x1="501.6" y1="975.6" x2="504.6" y2="975.6" stroke="#111" stroke-width="1.1"/>
<text x="498.6" y="980.9" font-size="16" text-anchor="end" font-weight="normal" fill="#111" >2</text>
<line x1="501.6" y1="946.6" x2="504.6" y2="946.6" stroke="#111" stroke-width="1.1"/>
<text x="498.6" y="951.9" font-size="16" text-anchor="end" font-weight="normal" fill="#111" >3</text>
<line x1="501.6" y1="917.6" x2="504.6" y2="917.6" stroke="#111" stroke-width="1.1"/>
<text x="498.6" y="922.9" font-size="16" text-anchor="end" font-weight="normal" fill="#111" >4</text>
<line x1="501.6" y1="888.6" x2="504.6" y2="888.6" stroke="#111" stroke-width="1.1"/>
<text x="498.6" y="893.9" font-size="16" text-anchor="end" font-weight="normal" fill="#111" >5</text>
<text x="0" y="0" font-size="16.5" text-anchor="middle" fill="#111" transform="translate(476.20000000000005,958.8000000000001) rotate(-90)">R+ΔR (Å)</text>
<text x="589.85" y="1042.4" font-size="16" text-anchor="middle" font-weight="normal" fill="#111" >k (Å<tspan font-size="9.5" dy="-5.5">-1</tspan><tspan dy="5.5">)</tspan></text>
<text x="46.5" y="729.9000000000001" font-size="15.6" text-anchor="start" font-weight="normal" fill="#fff" >Ru_Pd@RuIr</text>
<text x="160.89999999999998" y="790.5" font-size="15.6" text-anchor="start" font-weight="normal" fill="#fff" >Ru-Me</text>
<text x="278.8" y="729.1" font-size="15.6" text-anchor="start" font-weight="normal" fill="#fff" >Ru foil</text>
<text x="397.5" y="793.0" font-size="15.6" text-anchor="start" font-weight="normal" fill="#fff" >Ru-Ru</text>
<text x="510.7" y="728.7" font-size="15.6" text-anchor="start" font-weight="normal" fill="#fff" >RuO<tspan font-size="13">₂</tspan></text>
<text x="576.2" y="820.8000000000001" font-size="15.6" text-anchor="start" font-weight="normal" fill="#fff" >Ru-O</text>
<text x="46.5" y="906.1" font-size="15.6" text-anchor="start" font-weight="normal" fill="#fff" >Ir_Pd@RuIr</text>
<text x="170.2" y="967.5" font-size="15.6" text-anchor="start" font-weight="normal" fill="#fff" >Ir-Me</text>
<text x="278.8" y="906.1" font-size="15.6" text-anchor="start" font-weight="normal" fill="#fff" >Ir foil</text>
<text x="393.7" y="970.5" font-size="15.6" text-anchor="start" font-weight="normal" fill="#fff" >Ir-Ir</text>
<text x="510.8" y="906.1" font-size="15.6" text-anchor="start" font-weight="normal" fill="#fff" >IrO<tspan font-size="13">₂</tspan></text>
<text x="587.8000000000001" y="997.6" font-size="15.6" text-anchor="start" font-weight="normal" fill="#fff" >Ir-O</text>
<text x="3.3" y="729.5" font-size="20" text-anchor="start" font-weight="bold" fill="#111" >g</text>
<text x="233.8" y="730" font-size="20" text-anchor="start" font-weight="bold" fill="#111" >h</text>
<text x="469.2" y="730" font-size="20" text-anchor="start" font-weight="bold" fill="#111" >i</text>
<text x="6.5" y="907" font-size="20" text-anchor="start" font-weight="bold" fill="#111" >j</text>
<text x="234.6" y="907" font-size="20" text-anchor="start" font-weight="bold" fill="#111" >k</text>
<text x="469.2" y="907" font-size="20" text-anchor="start" font-weight="bold" fill="#111" >l</text>
</svg></body></html>
